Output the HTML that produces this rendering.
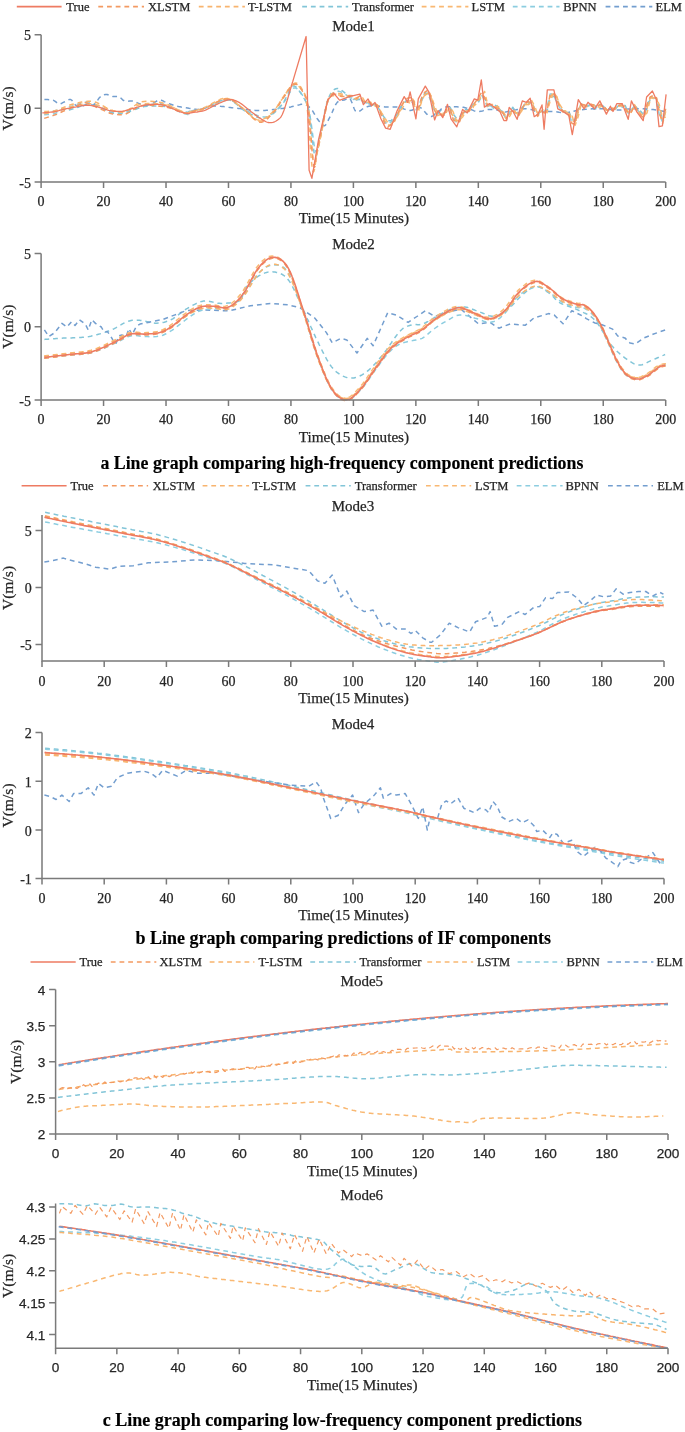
<!DOCTYPE html>
<html><head><meta charset="utf-8"><title>Line graphs</title>
<style>html,body{margin:0;padding:0;background:#fff;} svg{display:block;filter:blur(0.45px);}</style>
</head><body><svg width="685" height="1432" viewBox="0 0 685 1432"><rect width="100%" height="100%" fill="#fff"/><polyline points="44.2,114.8 47.3,114.6 50.5,114.3 53.6,114.0 56.7,112.8 59.8,110.9 63.0,109.1 66.1,108.0 69.2,107.0 72.3,105.9 75.5,104.9 78.6,103.8 81.7,102.8 84.8,102.1 87.9,101.7 91.1,102.5 94.2,104.0 97.3,106.0 100.4,108.1 103.6,109.5 106.7,110.7 109.8,111.8 112.9,112.3 116.1,112.6 119.2,112.6 122.3,112.4 125.4,111.8 128.5,111.0 131.7,110.1 134.8,109.2 137.9,108.3 141.0,107.3 144.2,106.2 147.3,105.3 150.4,104.6 153.5,104.0 156.7,103.6 159.8,103.4 162.9,104.0 166.0,105.1 169.1,106.4 172.3,108.0 175.4,109.7 178.5,111.3 181.6,112.7 184.8,113.8 187.9,114.6 190.0,111.1 190.9,110.9 192.0,110.8 193.2,110.6 194.7,110.4 196.3,110.2 198.0,109.9 199.9,109.5 201.9,109.0 204.0,108.5 205.2,108.1 206.5,107.6 207.8,107.1 209.2,106.5 210.7,105.9 212.2,105.2 213.7,104.5 215.3,103.8 216.8,103.1 218.4,102.5 220.0,101.9 221.5,101.3 223.0,100.9 224.5,100.5 225.9,100.2 227.3,100.1 228.5,100.1 230.1,100.3 231.6,100.7 233.1,101.3 234.4,102.1 235.8,102.9 237.1,103.9 238.4,104.9 239.6,106.0 240.9,107.0 242.2,108.1 243.4,109.0 244.7,109.9 246.1,110.6 247.5,111.3 249.1,112.0 250.6,112.7 252.2,113.4 253.7,114.1 255.3,114.7 256.8,115.3 258.3,115.8 259.7,116.2 261.1,116.5 262.4,116.8 263.6,116.9 265.5,116.9 267.1,116.5 268.6,116.0 270.0,115.2 271.3,114.3 272.7,113.3 274.1,112.2 275.1,111.4 276.2,110.5 277.3,109.5 278.4,108.4 279.4,107.3 280.5,106.1 281.5,104.9 282.6,103.7 283.6,102.5 284.6,101.2 285.6,99.9 286.5,98.4 287.5,96.7 288.4,95.0 289.3,93.4 290.3,91.8 291.2,90.4 292.1,89.2 293.0,88.4 293.9,87.9 295.1,87.9 296.4,88.3 297.6,89.2 298.8,90.3 300.0,91.7 301.2,93.3 302.3,94.9 303.3,96.6 303.9,97.7 304.5,98.7 305.1,99.9 305.6,101.0 306.1,102.2 306.6,103.5 307.1,104.9 307.6,106.5 308.1,108.1 308.6,109.9 309.1,111.9 309.6,114.1 310.1,116.6 310.6,119.5 311.1,122.9 311.6,126.5 312.1,130.2 312.6,134.0 313.1,137.7 313.6,141.1 314.0,144.3 314.5,147.1 315.0,149.4 315.4,150.9 316.2,152.1 316.6,152.0 317.1,151.4 317.5,150.2 318.0,148.7 318.4,146.8 318.8,144.6 319.3,142.3 319.8,139.9 320.3,137.5 320.8,135.1 321.3,132.7 321.9,130.0 322.4,126.9 323.0,123.7 323.6,120.3 324.2,116.9 324.5,115.3 324.8,113.6 325.1,112.0 325.5,110.4 325.8,108.8 326.1,107.3 326.4,105.9 326.8,104.6 327.1,103.4 327.5,102.3 327.8,101.2 328.7,99.0 329.7,97.1 330.6,95.5 331.6,94.3 332.6,93.3 333.7,92.5 334.8,91.9 336.0,91.5 337.2,91.2 338.5,91.2 340.0,91.6 341.7,92.3 343.3,93.1 345.0,94.1 346.5,95.1 348.0,96.0 349.1,96.8 350.0,97.3 353.4,99.4 356.5,99.0 359.6,99.1 362.8,101.4 365.9,104.5 369.0,103.6 372.1,106.3 375.3,104.6 378.4,108.7 381.5,114.4 384.6,121.7 387.8,124.3 390.9,122.1 394.0,120.4 397.1,114.2 400.2,108.0 403.4,103.2 406.5,101.0 409.6,99.6 412.7,102.8 415.9,109.8 419.0,105.0 422.1,97.1 425.2,92.7 428.4,94.9 431.5,102.6 434.6,113.8 437.7,113.7 440.8,113.1 444.0,113.7 447.1,109.9 450.2,111.3 453.3,117.2 456.5,122.4 459.6,120.1 462.7,113.4 465.8,111.5 469.0,110.1 472.1,105.8 475.2,102.3 478.3,99.4 481.4,94.8 484.6,100.2 487.7,107.7 490.8,105.6 493.9,108.7 497.1,110.1 500.2,109.7 503.3,114.3 506.4,118.5 509.6,112.1 512.7,111.6 515.8,113.4 518.9,112.5 522.0,107.5 525.2,104.7 528.3,102.6 531.4,103.0 534.5,111.0 537.7,115.1 540.8,110.9 543.9,112.5 547.0,107.1 550.1,94.1 553.3,94.0 556.4,101.8 559.5,107.5 562.6,110.8 565.8,111.9 568.9,113.5 572.0,122.7 575.1,119.1 578.3,108.3 581.4,103.6 584.5,107.4 587.6,105.4 590.7,105.0 593.9,109.2 597.0,108.3 600.1,104.3 603.2,108.0 606.4,110.1 609.5,109.8 612.6,110.3 615.7,108.8 618.9,104.4 622.0,107.0 625.1,108.2 628.2,113.1 631.3,109.7 634.5,105.9 637.6,110.3 640.7,113.1 643.8,113.6 647.0,105.5 650.1,97.6 653.2,97.5 656.3,101.5 659.5,115.4 662.6,121.8 665.7,107.9" fill="none" stroke="#8ccde0" stroke-width="1.5" stroke-linejoin="round" stroke-dasharray="4.8 3.9" opacity="1.0"/><polyline points="44.2,112.8 47.3,112.3 50.5,111.8 53.6,111.2 56.7,110.3 59.8,108.9 63.0,108.5 66.1,110.8 69.2,109.9 72.3,109.1 75.5,108.3 78.6,107.1 81.7,105.8 84.8,104.6 87.9,104.1 91.1,104.0 94.2,104.5 97.3,105.7 100.4,107.0 103.6,108.7 106.7,110.6 109.8,112.5 112.9,113.1 116.1,113.5 119.2,113.6 122.3,113.5 125.4,113.0 128.5,112.0 131.7,110.7 134.8,109.5 137.9,108.3 141.0,107.2 144.2,106.6 147.3,106.2 150.4,106.0 153.5,105.9 156.7,106.0 159.8,106.3 162.9,106.3 166.0,106.7 169.1,107.4 172.3,108.3 175.4,109.4 178.5,110.5 181.6,111.4 184.8,112.0 187.9,112.3 190.0,110.6 190.9,110.5 192.0,110.3 193.3,110.2 194.8,110.1 196.4,109.9 198.1,109.6 200.0,109.2 202.0,108.8 204.0,108.3 205.2,107.8 206.5,107.3 207.9,106.7 209.3,106.0 210.8,105.3 212.3,104.6 213.8,103.8 215.4,103.0 217.0,102.3 218.5,101.6 220.1,101.0 221.6,100.5 223.2,100.0 224.6,99.7 226.0,99.6 227.4,99.6 228.9,99.9 230.3,100.3 231.7,100.9 233.1,101.7 234.5,102.6 235.8,103.7 237.2,104.7 238.5,105.9 239.8,107.0 241.0,108.1 242.3,109.1 243.6,110.1 244.8,111.0 246.1,111.8 247.7,112.6 249.2,113.4 250.8,114.3 252.4,115.0 253.9,115.8 255.4,116.4 256.9,117.0 258.4,117.5 259.8,117.9 261.1,118.2 262.4,118.3 264.1,118.2 265.7,117.9 267.2,117.4 268.7,116.7 270.1,115.8 271.4,114.9 272.8,113.9 274.1,112.9 275.2,112.0 276.3,111.0 277.4,110.0 278.4,108.9 279.4,107.8 280.4,106.5 281.4,105.2 282.4,103.9 283.4,102.4 284.2,101.2 285.0,99.7 285.8,98.1 286.6,96.4 287.3,94.7 288.1,93.0 288.9,91.3 289.7,89.8 290.4,88.5 291.2,87.4 292.0,86.5 292.8,86.1 294.0,86.0 295.2,86.4 296.4,87.4 297.6,88.7 298.8,90.3 300.0,92.0 301.1,93.7 302.1,95.4 302.9,96.5 303.6,97.6 304.2,98.6 304.9,99.7 305.5,100.8 306.2,102.0 306.8,103.5 307.4,105.1 308.0,107.0 308.5,109.2 309.1,111.8 309.6,114.1 310.0,117.0 310.4,120.3 310.8,123.8 311.2,127.6 311.6,131.5 312.0,135.5 312.4,139.3 312.8,143.0 313.2,146.4 313.6,149.5 314.0,152.1 314.4,154.2 314.8,155.7 315.3,156.6 315.7,156.5 316.0,156.1 316.4,155.3 316.8,154.2 317.1,152.8 317.5,151.1 317.8,149.3 318.2,147.3 318.5,145.2 318.9,143.0 319.3,140.9 319.6,138.7 320.0,136.6 320.4,134.6 320.8,132.8 321.4,130.1 322.0,127.1 322.6,124.0 323.2,120.7 323.5,119.0 323.8,117.4 324.1,115.7 324.4,114.0 324.7,112.4 325.0,110.8 325.4,109.3 325.7,107.7 326.0,106.3 326.4,104.9 326.7,103.5 327.1,102.3 327.5,101.1 327.8,100.1 328.7,97.7 329.7,95.7 330.6,93.8 331.6,92.3 332.6,91.0 333.7,90.0 334.8,89.2 336.0,88.7 337.2,88.4 338.4,88.5 339.7,89.1 341.2,89.9 342.7,91.1 344.2,92.3 345.6,93.7 347.0,95.0 348.2,96.1 349.2,97.1 350.0,97.7 353.4,98.2 356.5,100.0 359.6,99.3 362.8,99.7 365.9,102.8 369.0,103.3 372.1,105.3 375.3,104.0 378.4,108.0 381.5,113.5 384.6,117.9 387.8,120.8 390.9,120.8 394.0,117.7 397.1,114.7 400.2,107.3 403.4,104.2 406.5,100.5 409.6,102.1 412.7,100.9 415.9,107.9 419.0,106.8 422.1,99.7 425.2,93.6 428.4,93.2 431.5,99.6 434.6,110.3 437.7,113.3 440.8,110.4 444.0,113.9 447.1,108.8 450.2,107.2 453.3,114.0 456.5,118.4 459.6,117.0 462.7,111.7 465.8,109.3 469.0,110.2 472.1,106.1 475.2,102.7 478.3,102.5 481.4,96.8 484.6,97.4 487.7,106.0 490.8,105.4 493.9,104.8 497.1,106.1 500.2,107.8 503.3,113.7 506.4,116.4 509.6,114.0 512.7,107.3 515.8,111.6 518.9,113.2 522.0,109.0 525.2,103.0 528.3,104.5 531.4,101.2 534.5,108.3 537.7,113.3 540.8,111.6 543.9,111.7 547.0,111.2 550.1,98.1 553.3,96.2 556.4,97.6 559.5,106.3 562.6,110.4 565.8,111.5 568.9,111.6 572.0,118.8 575.1,121.8 578.3,110.2 581.4,104.3 584.5,105.9 587.6,106.4 590.7,105.0 593.9,105.0 597.0,107.4 600.1,106.1 603.2,106.1 606.4,109.7 609.5,109.5 612.6,108.8 615.7,108.4 618.9,105.2 622.0,105.5 625.1,105.4 628.2,112.6 631.3,108.5 634.5,105.5 637.6,108.4 640.7,111.3 643.8,115.0 647.0,107.9 650.1,99.6 653.2,98.2 656.3,98.0 659.5,108.6 662.6,119.0 665.7,111.9" fill="none" stroke="#82c5d8" stroke-width="1.5" stroke-linejoin="round" stroke-dasharray="4.8 3.9" opacity="1.0"/><polyline points="44.4,99.5 45.6,99.5 47.4,99.6 49.4,99.7 51.4,99.9 53.1,100.2 54.8,101.1 56.2,102.2 57.6,103.3 59.0,103.9 60.5,103.8 61.9,103.2 63.3,102.4 64.8,101.7 66.3,101.0 67.8,100.1 69.3,99.5 70.7,99.5 71.9,100.3 72.9,101.8 74.0,103.4 75.0,104.6 76.4,105.7 77.7,106.5 79.4,106.8 80.7,106.6 82.1,106.1 83.6,105.5 85.2,105.0 86.7,104.6 88.6,104.6 90.4,104.9 92.3,105.1 94.0,104.6 95.1,103.8 96.1,102.5 97.0,101.1 98.0,99.7 98.9,98.3 99.9,97.3 101.3,96.1 102.7,95.3 104.1,94.7 105.7,94.4 107.1,94.5 108.6,95.0 110.1,95.6 111.6,96.2 113.0,96.6 115.0,96.6 116.9,96.4 118.8,96.6 120.2,97.5 121.6,98.8 123.0,100.1 124.7,101.0 126.3,101.2 128.1,101.2 129.9,101.0 131.7,100.9 133.4,101.0 135.1,101.6 136.6,102.4 138.2,103.3 140.0,103.9 141.5,104.2 143.0,104.5 144.7,104.8 146.4,105.0 148.1,105.0 149.8,104.7 151.4,104.2 153.0,103.3 154.6,102.3 156.2,101.3 157.7,100.5 159.1,100.1 161.0,100.1 162.6,100.7 164.3,101.6 166.1,102.4 167.6,103.0 169.1,103.6 170.7,104.2 172.3,104.8 173.9,105.4 175.5,105.9 177.0,106.3 178.4,106.6 179.8,106.8 181.3,107.1 182.9,107.3 184.8,107.6 186.1,107.8 187.5,108.0 189.0,108.3 190.6,108.5 192.2,108.8 193.8,109.0 195.4,109.2 197.0,109.4 198.5,109.5 200.0,109.4 201.5,109.2 202.9,108.9 204.2,108.4 205.5,107.9 206.8,107.4 208.2,106.9 209.8,106.4 211.4,106.1 213.4,105.9 214.6,105.9 216.0,105.9 217.4,106.0 218.9,106.1 220.4,106.3 222.0,106.4 223.6,106.6 225.2,106.8 226.9,107.0 228.6,107.3 230.2,107.5 231.9,107.7 233.5,107.9 235.1,108.1 236.7,108.3 238.3,108.4 239.8,108.6 241.4,108.8 242.9,109.0 244.5,109.2 246.1,109.4 247.6,109.6 249.2,109.8 250.7,110.0 252.3,110.2 253.8,110.3 255.4,110.4 257.0,110.5 258.5,110.6 260.1,110.6 261.7,110.6 263.3,110.5 264.9,110.4 266.6,110.3 268.3,110.2 270.0,110.0 271.7,109.8 273.3,109.6 274.9,109.4 276.5,109.2 278.0,109.0 279.5,108.8 280.9,108.6 282.2,108.4 283.4,108.3 285.7,107.9 287.7,107.6 289.4,107.2 290.9,106.9 292.3,106.5 293.7,106.2 295.1,105.9 296.8,105.5 298.5,105.1 300.1,104.6 301.6,104.3 303.1,104.2 304.5,104.3 306.0,104.8 307.5,105.6 308.9,106.7 310.2,108.0 311.5,109.4 312.4,110.6 313.2,111.9 314.0,113.3 314.8,114.7 315.6,116.1 316.4,117.5 317.3,118.8 318.4,120.3 319.6,121.9 320.8,123.4 322.0,124.7 323.2,125.6 324.3,125.8 325.2,125.3 326.0,124.4 326.8,123.2 327.6,121.6 328.4,119.9 329.3,118.2 330.2,116.4 330.8,115.2 331.5,113.7 332.2,112.2 332.9,110.6 333.6,109.0 334.3,107.4 335.0,105.9 335.7,104.5 336.5,103.4 337.2,102.4 338.9,101.0 340.7,100.4 342.5,100.3 344.2,100.1 346.2,99.1 348.1,98.2 350.0,98.9 350.7,99.8 351.3,101.2 352.0,102.8 352.6,104.6 353.3,106.5 354.0,108.3 354.7,109.8 355.5,111.0 356.4,111.8 357.7,112.0 359.2,111.4 360.8,110.3 362.5,109.0 364.1,107.9 365.7,107.1 367.2,106.7 368.7,106.3 370.2,106.1 371.8,106.0 373.3,105.9 375.0,105.9 376.6,106.0 378.2,106.1 379.9,106.3 381.6,106.5 383.3,106.8 385.0,107.0 386.7,107.1 388.4,107.1 390.1,107.1 391.7,107.0 393.4,106.9 395.1,106.9 396.7,106.9 398.4,107.1 399.9,107.4 401.4,107.9 402.9,108.5 404.4,109.1 405.9,109.6 407.3,110.1 408.7,110.5 410.1,110.6 411.8,110.3 413.3,109.5 414.8,108.5 416.3,107.6 417.8,107.0 419.4,107.1 420.6,107.6 421.7,108.6 422.9,109.8 424.1,111.1 425.4,112.5 426.6,113.9 427.7,115.0 428.9,115.9 429.9,116.4 431.4,116.5 432.9,115.9 434.2,115.0 435.6,113.8 436.8,112.7 438.1,111.8 439.4,110.7 440.5,109.7 441.7,108.6 443.1,107.7 445.1,107.1 446.4,106.9 447.9,106.7 449.6,106.7 451.3,106.6 453.1,106.6 455.0,106.7 456.8,106.8 458.5,106.9 460.1,107.0 461.5,107.1 463.5,107.3 465.2,107.7 466.7,108.1 468.1,108.6 469.5,109.0 470.8,109.4 472.6,110.1 474.2,110.9 475.8,111.5 477.8,111.8 479.3,111.6 480.8,111.3 482.6,110.9 484.3,110.4 486.1,110.0 487.8,109.6 489.5,109.4 491.1,109.4 492.7,109.5 494.4,109.7 495.9,109.9 497.4,110.1 498.8,110.4 500.0,110.6 502.1,111.2 503.5,111.7 505.3,112.0 506.6,111.8 508.0,111.4 509.5,111.0 511.2,110.5 513.1,110.1 514.5,109.9 516.1,109.7 517.7,109.4 519.4,109.2 521.1,109.0 522.9,108.9 524.6,108.8 526.3,108.8 527.9,109.0 529.6,109.3 531.2,109.6 532.8,110.1 534.5,110.5 536.1,110.9 537.8,111.2 539.4,111.5 541.1,111.6 542.7,111.6 544.3,111.6 546.0,111.5 547.6,111.5 549.3,111.4 550.9,111.4 552.5,111.5 554.2,111.6 555.8,111.8 557.5,112.0 559.1,112.3 560.8,112.5 562.4,112.7 564.0,112.8 565.7,112.8 567.3,112.6 569.0,112.4 570.6,112.0 572.3,111.6 573.9,111.2 575.5,110.8 577.2,110.4 578.8,110.1 580.5,109.9 582.1,109.7 583.7,109.5 585.4,109.3 587.0,109.2 588.7,109.0 590.3,108.9 592.0,108.8 593.6,108.8 595.2,108.7 596.9,108.7 598.5,108.7 600.2,108.7 601.8,108.7 603.5,108.8 605.1,108.8 606.7,108.9 608.4,109.1 610.0,109.3 611.7,109.6 613.3,109.8 615.0,110.0 616.6,110.1 618.2,110.1 619.9,110.1 621.5,110.0 623.2,109.8 624.8,109.6 626.4,109.3 628.1,109.1 629.7,108.9 631.4,108.8 633.0,108.8 634.7,108.7 636.3,108.7 637.9,108.7 639.6,108.7 641.2,108.7 642.9,108.8 644.5,108.8 646.2,108.9 647.9,109.0 649.6,109.2 651.4,109.4 653.1,109.5 654.7,109.7 656.2,109.9 657.6,110.1 659.8,110.5 661.8,110.9 663.5,111.3 665.0,111.7 666.1,112.0" fill="none" stroke="#739ecf" stroke-width="1.5" stroke-linejoin="round" stroke-dasharray="4.8 3.9" opacity="1.0"/><polyline points="44.2,113.7 47.3,113.2 50.5,112.6 53.6,111.9 56.7,111.2 59.8,110.2 63.0,109.2 66.1,108.2 69.2,107.3 72.3,106.6 75.5,105.8 78.6,105.1 81.7,104.4 84.8,104.0 87.9,103.7 91.1,103.8 94.2,104.3 97.3,105.0 100.4,105.9 103.6,106.9 106.7,108.2 109.8,109.5 112.9,110.5 116.1,111.3 119.2,111.8 122.3,111.5 125.4,110.7 128.5,109.6 131.7,108.1 134.8,106.6 137.9,105.2 141.0,104.1 144.2,103.7 147.3,103.5 150.4,103.4 153.5,103.5 156.7,103.8 159.8,104.2 162.9,104.5 166.0,105.0 169.1,105.9 172.3,107.1 175.4,108.5 178.5,109.9 181.6,111.2 184.8,112.2 187.9,112.9 190.0,111.8 190.9,111.5 192.0,111.2 193.4,110.9 194.9,110.6 196.5,110.2 198.3,109.7 200.2,109.1 202.1,108.5 204.0,107.8 205.2,107.3 206.5,106.6 207.8,105.9 209.2,105.2 210.7,104.3 212.1,103.5 213.6,102.6 215.1,101.8 216.6,101.0 218.1,100.2 219.6,99.6 221.0,99.0 222.4,98.6 223.8,98.3 225.0,98.2 226.6,98.3 228.0,98.6 229.5,99.0 230.8,99.7 232.2,100.4 233.5,101.2 234.8,102.2 236.1,103.1 237.4,104.2 238.7,105.2 240.0,106.1 241.4,107.1 242.7,108.0 243.9,109.0 245.2,110.2 246.5,111.4 247.8,112.6 249.1,113.9 250.4,115.1 251.6,116.3 252.9,117.3 254.1,118.2 255.4,119.0 256.6,119.6 257.7,119.9 259.3,120.1 260.7,119.9 262.2,119.5 263.7,118.9 265.1,118.1 266.5,117.2 267.9,116.2 269.2,115.1 270.5,114.0 271.8,112.9 272.8,111.9 273.9,110.8 274.9,109.6 275.8,108.3 276.8,107.0 277.7,105.7 278.6,104.3 279.5,102.9 280.4,101.6 281.3,100.2 282.3,98.9 283.2,97.6 284.2,96.1 285.2,94.6 286.2,93.0 287.1,91.5 288.1,90.0 289.1,88.6 290.0,87.4 291.0,86.3 291.9,85.5 292.8,84.9 294.4,84.5 296.0,84.7 297.6,85.4 299.0,86.5 300.4,88.0 301.7,89.6 302.3,90.4 302.9,91.1 303.5,91.8 303.9,92.5 304.4,93.4 304.9,94.6 305.3,96.2 305.8,98.3 306.3,101.1 306.8,104.7 307.2,108.0 307.6,112.0 308.0,116.6 308.4,121.7 308.8,127.2 309.2,132.9 309.7,138.6 310.1,144.3 310.5,149.8 310.9,155.0 311.3,159.7 311.7,163.7 312.1,167.1 312.5,169.6 313.1,171.5 313.5,171.9 313.9,171.4 314.3,170.2 314.7,168.4 315.0,166.2 315.4,163.7 315.8,161.0 316.2,158.3 316.5,155.7 316.9,153.4 317.3,151.5 317.6,150.1 318.0,148.7 318.3,147.3 318.6,145.9 318.9,144.5 319.2,143.0 319.6,141.6 319.9,140.1 320.2,138.7 320.6,137.1 320.9,135.5 321.2,133.9 321.6,132.2 322.0,130.4 322.5,127.6 323.1,124.4 323.7,121.0 324.3,117.5 324.6,115.8 324.9,114.0 325.2,112.3 325.5,110.6 325.8,109.0 326.2,107.5 326.5,106.0 326.8,104.6 327.1,103.4 327.5,102.2 327.8,101.2 328.8,98.8 329.8,97.3 330.7,96.5 331.8,96.0 333.2,95.7 334.8,95.4 336.1,95.2 337.6,95.1 339.3,95.1 341.0,95.2 342.9,95.3 344.6,95.4 346.3,95.6 347.8,95.7 349.1,95.8 350.0,95.9 353.4,99.3 356.5,98.0 359.6,99.0 362.8,97.9 365.9,103.5 369.0,101.7 372.1,102.8 375.3,106.2 378.4,107.3 381.5,112.7 384.6,117.3 387.8,122.8 390.9,124.0 394.0,121.4 397.1,116.8 400.2,111.6 403.4,106.4 406.5,101.8 409.6,102.9 412.7,99.0 415.9,104.2 419.0,110.0 422.1,100.1 425.2,93.9 428.4,91.9 431.5,96.5 434.6,106.1 437.7,113.4 440.8,113.6 444.0,115.2 447.1,112.1 450.2,106.9 453.3,112.2 456.5,120.8 459.6,119.5 462.7,117.0 465.8,111.1 469.0,110.2 472.1,110.1 475.2,102.5 478.3,100.1 481.4,97.0 484.6,91.5 487.7,104.7 490.8,104.6 493.9,104.3 497.1,105.7 500.2,109.8 503.3,112.0 506.4,117.0 509.6,116.4 512.7,111.1 515.8,112.6 518.9,115.2 522.0,110.5 525.2,104.4 528.3,101.8 531.4,100.2 534.5,105.8 537.7,113.8 540.8,111.3 543.9,108.8 547.0,112.8 550.1,101.2 553.3,93.7 556.4,95.6 559.5,104.2 562.6,109.0 565.8,111.8 568.9,113.8 572.0,115.4 575.1,125.3 578.3,116.2 581.4,103.5 584.5,105.3 587.6,107.5 590.7,106.4 593.9,105.3 597.0,107.8 600.1,107.1 603.2,105.4 606.4,109.7 609.5,110.9 612.6,109.3 615.7,107.8 618.9,107.3 622.0,105.7 625.1,106.2 628.2,111.7 631.3,111.8 634.5,107.5 637.6,109.3 640.7,113.7 643.8,115.7 647.0,113.0 650.1,100.2 653.2,97.7 656.3,98.0 659.5,105.4 662.6,118.4 665.7,116.8" fill="none" stroke="#f9b872" stroke-width="1.5" stroke-linejoin="round" stroke-dasharray="4.8 3.9" opacity="1.0"/><polyline points="44.2,111.5 47.3,111.4 50.5,111.2 53.6,111.0 56.7,110.3 59.8,109.1 63.0,107.7 66.1,106.4 69.2,105.2 72.3,104.3 75.5,103.5 78.6,102.8 81.7,102.1 84.8,101.6 87.9,101.2 91.1,101.3 94.2,101.8 97.3,102.8 100.4,104.4 103.6,106.2 106.7,108.1 109.8,110.0 112.9,110.9 116.1,111.6 119.2,112.0 122.3,112.2 125.4,111.9 128.5,109.9 131.7,107.7 134.8,105.5 137.9,103.4 141.0,101.8 144.2,101.5 147.3,101.3 150.4,101.3 153.5,101.5 156.7,101.8 159.8,102.3 162.9,102.9 166.0,103.9 169.1,105.2 172.3,106.8 175.4,108.5 178.5,110.2 181.6,111.7 184.8,113.0 187.9,113.9 190.0,112.2 190.9,112.0 192.0,111.9 193.3,111.6 194.8,111.4 196.4,111.1 198.1,110.7 200.0,110.2 202.0,109.7 204.0,109.0 205.2,108.5 206.4,107.9 207.7,107.3 209.0,106.5 210.5,105.8 211.9,105.0 213.4,104.1 214.9,103.3 216.4,102.5 217.9,101.7 219.4,100.9 220.8,100.3 222.2,99.7 223.6,99.2 224.9,98.8 226.2,98.5 227.4,98.4 228.9,98.5 230.4,98.9 231.7,99.4 233.0,100.1 234.2,100.9 235.4,101.9 236.6,102.9 237.7,104.0 238.9,105.1 240.1,106.2 241.3,107.3 242.6,108.3 243.8,109.2 245.0,110.3 246.3,111.5 247.6,112.7 248.9,114.0 250.2,115.2 251.5,116.4 252.7,117.6 254.0,118.6 255.3,119.6 256.5,120.3 257.7,120.8 258.9,121.1 260.3,121.1 261.6,120.9 263.0,120.4 264.3,119.8 265.6,118.9 266.9,117.9 268.2,116.9 269.4,115.7 270.6,114.5 271.8,113.4 272.9,112.2 273.9,111.1 274.9,110.0 275.8,108.7 276.7,107.4 277.5,106.1 278.4,104.7 279.2,103.3 280.0,101.9 280.8,100.5 281.7,99.1 282.5,97.8 283.4,96.6 284.4,95.2 285.5,93.7 286.5,92.2 287.6,90.7 288.7,89.2 289.7,87.8 290.8,86.5 291.8,85.4 292.8,84.4 293.7,83.7 294.6,83.3 296.0,83.1 297.2,83.4 298.4,84.2 299.5,85.3 300.6,86.8 301.6,88.5 302.6,90.3 303.1,91.3 303.6,92.2 304.1,93.2 304.6,94.2 305.1,95.3 305.6,96.4 306.1,97.7 306.5,99.2 307.0,100.8 307.4,102.6 307.8,104.6 308.2,106.9 308.7,109.4 309.0,111.7 309.3,114.4 309.7,119.0 310.1,124.2 310.5,129.7 310.9,135.3 311.3,140.9 311.7,146.2 312.1,151.1 312.5,155.2 312.9,158.6 313.3,160.8 313.9,162.2 314.5,162.3 315.0,161.3 315.6,159.6 316.2,157.3 316.8,154.6 317.4,151.8 317.9,149.1 318.5,146.8 318.8,145.5 319.1,144.2 319.4,142.8 319.7,141.3 320.3,138.2 320.9,135.0 321.2,133.4 321.5,131.7 321.8,130.1 322.1,128.4 322.5,126.7 322.8,125.1 323.1,123.4 323.5,122.0 323.8,120.4 324.1,118.8 324.4,117.1 324.7,115.4 325.1,113.7 325.4,112.0 325.7,110.3 326.1,108.6 326.4,106.9 326.8,105.4 327.1,103.8 327.5,102.4 327.9,101.0 328.2,99.8 328.6,98.7 329.0,97.7 330.2,95.3 331.4,94.0 332.6,93.3 334.1,93.1 336.0,93.1 337.3,93.1 338.9,93.4 340.7,93.8 342.5,94.3 344.4,94.8 346.1,95.4 347.7,95.9 349.0,96.3 350.0,96.6 353.4,97.2 356.5,99.4 359.6,96.2 362.8,101.2 365.9,102.7 369.0,102.0 372.1,105.2 375.3,104.0 378.4,106.0 381.5,113.9 384.6,120.6 387.8,125.0 390.9,125.5 394.0,123.1 397.1,114.9 400.2,110.5 403.4,102.3 406.5,100.0 409.6,101.1 412.7,99.6 415.9,110.2 419.0,109.1 422.1,98.6 425.2,95.0 428.4,93.0 431.5,98.3 434.6,109.8 437.7,115.7 440.8,113.8 444.0,113.1 447.1,112.0 450.2,111.3 453.3,116.5 456.5,121.2 459.6,119.6 462.7,114.3 465.8,110.7 469.0,111.5 472.1,106.2 475.2,104.9 478.3,101.2 481.4,94.1 484.6,97.3 487.7,106.1 490.8,105.6 493.9,107.0 497.1,106.7 500.2,110.4 503.3,113.6 506.4,119.4 509.6,115.6 512.7,108.8 515.8,112.4 518.9,113.5 522.0,108.9 525.2,104.9 528.3,104.6 531.4,102.4 534.5,108.3 537.7,113.0 540.8,111.9 543.9,113.8 547.0,110.5 550.1,97.5 553.3,92.2 556.4,96.3 559.5,105.3 562.6,110.8 565.8,110.9 568.9,112.7 572.0,120.6 575.1,121.9 578.3,111.9 581.4,102.8 584.5,106.8 587.6,105.8 590.7,103.9 593.9,107.0 597.0,107.4 600.1,104.5 603.2,105.0 606.4,110.1 609.5,109.7 612.6,107.9 615.7,109.4 618.9,106.3 622.0,104.9 625.1,108.5 628.2,113.7 631.3,112.3 634.5,104.6 637.6,110.3 640.7,114.6 643.8,117.6 647.0,108.1 650.1,98.2 653.2,97.7 656.3,97.2 659.5,113.0 662.6,123.5 665.7,111.4" fill="none" stroke="#f8b46e" stroke-width="1.5" stroke-linejoin="round" stroke-dasharray="4.8 3.9" opacity="1.0"/><polyline points="44.2,118.4 47.3,117.4 50.5,116.4 53.6,115.4 56.7,114.2 59.8,112.8 63.0,111.3 66.1,109.9 69.2,108.7 72.3,107.4 75.5,106.2 78.6,105.0 81.7,103.7 84.8,102.5 87.9,103.2 91.1,104.5 94.2,106.0 97.3,107.8 100.4,109.0 103.6,110.4 106.7,111.8 109.8,113.2 112.9,113.9 116.1,114.4 119.2,114.7 122.3,114.8 125.4,114.3 128.5,112.6 131.7,110.7 134.8,108.9 137.9,107.1 141.0,105.7 144.2,105.3 147.3,105.2 150.4,105.2 153.5,105.4 156.7,105.8 159.8,106.3 162.9,106.5 166.0,107.0 169.1,107.8 172.3,108.9 175.4,110.1 178.5,111.3 181.6,112.3 184.8,113.0 187.9,113.4 190.0,111.8 190.9,111.6 192.0,111.3 193.3,111.1 194.8,110.8 196.4,110.4 198.1,110.0 200.0,109.5 202.0,108.9 204.0,108.3 205.2,107.8 206.5,107.2 207.9,106.6 209.4,105.9 210.9,105.1 212.4,104.3 214.0,103.5 215.5,102.7 217.1,101.9 218.7,101.2 220.3,100.6 221.8,100.0 223.3,99.5 224.7,99.2 226.1,99.0 227.4,98.9 229.0,99.1 230.5,99.5 232.0,100.1 233.3,100.9 234.7,101.8 236.0,102.8 237.3,103.9 238.5,105.0 239.8,106.2 241.1,107.3 242.4,108.4 243.7,109.4 245.0,110.4 246.3,111.5 247.5,112.7 248.8,114.0 250.1,115.3 251.4,116.5 252.7,117.8 254.0,118.9 255.2,120.0 256.5,120.9 257.7,121.6 258.9,122.0 260.1,122.3 261.5,122.2 262.8,121.8 264.2,121.2 265.5,120.3 266.9,119.3 268.2,118.1 269.4,116.8 270.7,115.5 271.9,114.2 273.0,112.9 274.1,111.8 275.1,110.6 276.1,109.4 276.9,108.2 277.8,106.9 278.6,105.6 279.4,104.3 280.1,103.0 280.9,101.6 281.7,100.3 282.6,99.0 283.4,97.7 284.4,96.4 285.3,95.0 286.3,93.5 287.3,91.9 288.3,90.4 289.3,89.0 290.2,87.6 291.2,86.4 292.2,85.4 293.1,84.7 293.9,84.2 295.5,84.0 296.9,84.5 298.3,85.6 299.7,87.1 300.9,88.8 302.1,90.7 302.7,91.7 303.3,92.5 303.9,93.3 304.4,94.2 304.9,95.1 305.4,96.3 305.9,97.6 306.4,99.3 306.9,101.4 307.4,104.0 308.0,107.1 308.3,109.2 308.6,111.7 308.9,114.5 309.2,117.6 309.5,120.9 309.8,124.4 310.2,128.0 310.5,131.8 310.8,135.5 311.1,139.3 311.4,143.0 311.7,146.6 312.0,150.0 312.5,154.8 312.9,159.0 313.3,162.4 313.7,164.9 314.2,166.8 314.6,167.1 314.9,166.5 315.2,165.2 315.8,161.1 316.3,155.9 316.6,153.4 317.0,151.1 317.3,149.1 317.9,146.4 318.2,145.1 318.5,143.7 318.8,142.3 319.2,140.8 319.5,139.3 319.8,137.9 320.2,136.3 320.5,134.8 320.9,133.2 321.2,131.5 321.6,129.8 322.0,128.1 322.5,125.3 323.1,122.3 323.7,119.0 324.3,115.7 324.6,114.0 324.9,112.3 325.2,110.7 325.5,109.1 325.8,107.5 326.2,106.0 326.5,104.6 326.8,103.3 327.1,102.1 327.5,101.0 327.8,100.1 328.9,97.7 330.1,96.2 331.2,95.3 332.4,94.8 333.6,94.5 334.8,94.2 336.6,94.3 338.3,95.1 340.0,96.0 341.8,96.6 343.5,96.5 345.4,96.3 347.3,96.0 348.9,95.6 350.0,95.4 353.4,95.9 356.5,98.2 359.6,96.1 362.8,101.2 365.9,101.8 369.0,101.3 372.1,104.7 375.3,102.8 378.4,106.6 381.5,115.9 384.6,123.1 387.8,127.3 390.9,124.4 394.0,121.4 397.1,115.2 400.2,107.7 403.4,102.9 406.5,98.8 409.6,97.5 412.7,98.3 415.9,108.3 419.0,106.7 422.1,96.3 425.2,91.8 428.4,90.0 431.5,98.2 434.6,110.3 437.7,115.7 440.8,114.5 444.0,116.0 447.1,108.0 450.2,108.5 453.3,119.8 456.5,122.2 459.6,121.8 462.7,112.8 465.8,110.5 469.0,110.9 472.1,106.3 475.2,102.3 478.3,97.7 481.4,92.6 484.6,97.8 487.7,104.6 490.8,104.8 493.9,107.1 497.1,107.9 500.2,109.4 503.3,113.6 506.4,118.5 509.6,111.2 512.7,111.0 515.8,114.5 518.9,115.5 522.0,108.9 525.2,103.2 528.3,101.7 531.4,102.6 534.5,110.3 537.7,116.4 540.8,111.9 543.9,112.5 547.0,111.1 550.1,94.5 553.3,93.2 556.4,98.6 559.5,106.5 562.6,111.8 565.8,113.3 568.9,114.9 572.0,123.6 575.1,124.2 578.3,108.7 581.4,104.3 584.5,105.0 587.6,105.2 590.7,104.3 593.9,104.9 597.0,106.5 600.1,104.5 603.2,105.7 606.4,109.3 609.5,112.1 612.6,109.4 615.7,107.7 618.9,105.5 622.0,104.6 625.1,107.8 628.2,113.4 631.3,111.8 634.5,105.8 637.6,110.7 640.7,115.3 643.8,118.1 647.0,104.3 650.1,97.0 653.2,95.6 656.3,97.5 659.5,113.7 662.6,121.2 665.7,108.8" fill="none" stroke="#f39a62" stroke-width="1.5" stroke-linejoin="round" stroke-dasharray="4.8 3.9" opacity="1.0"/><polyline points="42.3,112.9 43.4,112.8 44.9,112.7 46.6,112.6 48.6,112.4 50.5,112.2 52.4,112.0 54.0,111.8 55.7,111.4 57.2,111.1 58.7,110.7 60.2,110.2 61.7,109.8 63.4,109.4 64.9,109.1 66.5,108.7 68.2,108.4 69.9,108.1 71.6,107.7 73.3,107.4 75.0,107.1 76.7,106.8 78.4,106.4 80.0,106.1 81.7,105.7 83.4,105.5 85.0,105.3 86.7,105.2 88.4,105.3 90.1,105.4 91.7,105.7 93.4,106.0 95.1,106.3 96.7,106.7 98.4,107.1 99.9,107.5 101.3,107.9 102.8,108.4 104.2,108.9 105.7,109.4 107.2,109.9 108.6,110.3 110.1,110.6 111.7,110.9 113.4,111.1 115.1,111.3 116.8,111.4 118.4,111.4 120.1,111.4 121.8,111.3 123.2,111.1 124.7,110.8 126.1,110.4 127.6,110.0 129.1,109.6 130.5,109.1 132.0,108.7 133.4,108.3 134.9,107.9 136.4,107.4 137.8,107.0 139.3,106.6 140.7,106.2 142.2,105.8 143.7,105.5 145.1,105.2 146.8,104.9 148.5,104.7 150.2,104.5 152.0,104.4 153.6,104.3 155.2,104.3 156.8,104.3 158.4,104.4 159.9,104.5 161.3,104.7 162.8,105.0 164.3,105.4 166.1,105.9 167.4,106.3 168.7,106.9 170.1,107.5 171.6,108.1 173.1,108.8 174.7,109.5 176.1,110.2 177.6,110.8 178.9,111.3 180.2,111.8 182.1,112.3 183.9,112.8 185.7,113.1 187.2,113.3 188.5,113.5 189.5,113.6 190.0,112.9 191.0,112.8 192.2,112.6 193.7,112.4 195.4,112.2 197.1,112.0 198.9,111.7 200.7,111.4 202.4,111.0 204.0,110.6 205.5,110.1 206.9,109.4 208.4,108.7 209.8,108.0 211.2,107.2 212.6,106.4 214.0,105.6 215.4,104.9 216.9,104.3 218.3,103.6 219.8,103.0 221.3,102.3 222.8,101.7 224.2,101.1 225.7,100.6 227.1,100.1 228.4,99.8 229.7,99.6 231.5,99.6 233.1,99.8 234.6,100.3 236.1,100.9 237.5,101.6 239.1,102.4 240.4,103.2 241.7,104.1 242.9,105.0 244.2,106.1 245.6,107.2 246.9,108.3 248.4,109.4 249.6,110.3 250.9,111.4 252.2,112.4 253.6,113.5 254.9,114.6 256.3,115.6 257.6,116.6 258.9,117.5 260.1,118.3 261.8,119.4 263.4,120.4 265.0,121.2 266.5,122.0 268.0,122.5 269.4,122.7 271.2,122.7 272.9,122.4 274.6,121.8 276.1,121.0 277.6,119.9 278.7,119.1 279.6,118.4 280.4,117.6 281.3,116.3 282.3,114.5 283.4,111.8 283.8,110.8 284.2,109.6 284.7,108.3 285.1,106.9 285.6,105.4 286.1,103.8 286.6,102.2 287.2,100.4 287.7,98.7 288.2,96.9 288.7,95.2 289.2,93.4 289.7,91.7 290.2,90.1 290.7,88.5 291.1,87.0 291.5,85.6 291.9,84.3 292.2,83.2 292.8,81.4 306.1,36.5 309.1,170.2 311.9,178.3 318.5,139.8 327.8,100.1 333.7,93.1 339.5,100.1 340.0,100.1 349.3,96.6 359.9,94.2 363.4,104.7 368.0,98.9 371.5,105.9 375.0,102.4 380.9,118.8 385.6,128.1 390.2,129.3 397.2,110.6 404.2,96.6 407.7,102.4 410.1,91.9 415.9,118.8 418.3,98.9 425.3,86.1 428.8,91.9 434.6,119.9 438.1,110.6 442.8,117.6 447.5,104.3 451.0,118.8 456.8,126.9 462.6,109.4 467.3,112.9 474.3,98.9 477.8,100.1 481.3,79.8 484.4,107.1 489.5,103.6 500.0,111.8 503.9,120.6 506.6,120.6 509.2,107.5 513.1,111.5 517.1,119.3 522.3,100.9 526.3,102.3 530.2,98.3 534.2,116.7 538.1,114.1 542.0,104.9 544.1,129.3 547.3,89.9 553.9,89.9 557.8,108.8 563.1,111.5 568.8,115.4 572.3,134.6 578.3,99.6 584.1,108.8 588.0,102.3 594.6,108.8 599.8,100.9 606.4,114.1 610.4,106.2 613.0,111.5 616.9,103.6 622.2,103.6 628.2,119.3 631.4,100.9 636.6,111.5 643.2,120.6 646.6,97.0 652.4,91.0 656.3,99.6 659.0,126.7 662.4,125.9 666.1,94.4" fill="none" stroke="#ee7b62" stroke-width="1.3" stroke-linejoin="round" opacity="1.0"/><polyline points="44.4,339.4 45.3,339.3 46.5,339.3 47.8,339.2 49.3,339.0 50.9,338.9 52.7,338.8 54.5,338.7 56.3,338.5 58.2,338.4 60.1,338.3 61.9,338.2 63.3,338.1 64.9,338.1 66.4,338.0 68.0,338.0 69.7,337.9 71.4,337.9 73.0,337.8 74.7,337.8 76.3,337.7 77.9,337.6 79.5,337.5 81.0,337.4 82.5,337.3 83.8,337.2 85.7,337.0 87.5,336.7 89.2,336.5 90.8,336.2 92.3,335.8 93.8,335.5 95.3,335.1 96.8,334.7 98.4,334.3 99.9,333.9 101.3,333.5 102.8,333.0 104.2,332.5 105.7,332.1 107.2,331.5 108.6,331.0 110.1,330.4 111.5,329.8 113.0,329.2 114.3,328.6 115.7,327.9 117.1,327.1 118.4,326.3 119.8,325.5 121.2,324.7 122.5,323.9 123.8,323.2 125.1,322.5 126.4,322.0 127.6,321.5 129.4,321.0 131.0,320.6 132.5,320.3 134.0,320.2 135.6,320.2 137.3,320.2 139.3,320.3 140.7,320.4 142.2,320.7 143.7,321.0 145.4,321.3 147.0,321.7 148.7,322.1 150.4,322.5 152.1,322.8 153.7,323.0 155.3,323.2 156.8,323.2 158.4,323.1 159.9,323.0 161.4,322.8 162.8,322.5 164.3,322.2 165.7,321.8 167.1,321.3 168.5,320.8 170.0,320.2 171.4,319.5 172.7,318.8 174.0,318.0 175.3,317.1 176.6,316.1 177.9,315.1 179.2,314.1 180.5,313.1 181.8,312.0 183.2,311.0 184.6,310.1 186.0,309.2 187.4,308.4 188.7,307.6 190.2,306.8 191.6,306.0 193.1,305.1 194.6,304.4 196.1,303.6 197.6,302.9 199.1,302.3 200.5,301.8 202.0,301.4 203.5,301.1 205.1,300.9 206.7,301.0 208.2,301.1 209.8,301.4 211.4,301.7 212.9,302.1 214.5,302.5 216.1,302.9 217.7,303.2 219.4,303.3 221.0,303.4 222.6,303.4 224.2,303.3 226.0,303.2 227.8,303.1 229.5,303.0 231.3,302.8 233.0,302.6 234.7,302.3 236.2,302.0 237.6,301.6 238.9,301.1 240.0,300.5 241.2,299.5 241.9,298.2 242.3,296.8 242.6,295.3 242.8,293.7 243.1,292.0 243.6,290.4 244.6,288.8 245.4,287.8 246.3,286.8 247.3,285.7 248.4,284.6 249.5,283.4 250.7,282.3 251.9,281.2 253.1,280.1 254.4,279.1 255.6,278.1 256.9,277.2 258.0,276.4 259.2,275.7 260.7,274.9 262.1,274.2 263.6,273.5 265.0,272.9 266.5,272.5 268.0,272.1 269.4,271.9 270.9,271.7 272.3,271.8 273.8,271.9 275.1,272.1 276.5,272.4 277.8,272.7 279.1,273.1 280.4,273.6 281.8,274.2 283.1,275.0 284.4,275.9 285.7,277.1 287.1,278.4 288.4,280.0 289.1,280.9 289.8,281.9 290.5,283.0 291.2,284.2 291.9,285.4 292.6,286.7 293.3,288.1 294.0,289.4 294.7,290.9 295.4,292.3 296.0,293.8 296.7,295.4 297.4,296.9 298.1,298.5 298.8,300.0 299.5,301.6 300.2,303.1 300.9,304.7 301.6,306.2 302.3,307.7 303.0,309.2 303.6,310.5 304.3,311.9 304.9,313.3 305.5,314.7 306.2,316.1 306.8,317.5 307.4,319.0 308.1,320.4 308.7,321.9 309.3,323.3 310.0,324.8 310.6,326.2 311.3,327.7 311.9,329.1 312.5,330.5 313.2,331.9 313.8,333.4 314.4,334.7 315.1,336.1 315.7,337.5 316.3,338.8 317.0,340.1 317.6,341.4 318.4,342.9 319.1,344.5 319.9,346.0 320.6,347.6 321.4,349.1 322.2,350.7 322.9,352.2 323.7,353.7 324.4,355.1 325.2,356.6 326.0,358.0 326.7,359.4 327.5,360.7 328.3,362.0 329.0,363.2 329.8,364.4 330.6,365.5 331.4,366.6 332.2,367.6 333.5,369.1 334.8,370.4 336.1,371.6 337.4,372.7 338.8,373.7 340.1,374.6 341.5,375.4 342.8,376.1 344.2,376.6 345.5,377.1 346.9,377.5 348.2,377.8 349.7,378.0 351.1,378.1 352.5,378.0 354.0,377.9 355.4,377.6 356.9,377.2 358.3,376.6 359.8,376.0 361.3,375.3 362.8,374.4 364.3,373.5 365.4,372.8 366.4,372.0 367.5,371.1 368.6,370.2 369.6,369.3 370.7,368.2 371.8,367.2 372.9,366.0 374.0,364.9 375.1,363.7 376.2,362.5 377.3,361.2 378.5,359.9 379.6,358.6 380.7,357.3 381.8,356.0 382.7,354.9 383.6,353.7 384.6,352.5 385.5,351.2 386.5,349.9 387.4,348.5 388.4,347.1 389.3,345.7 390.3,344.3 391.3,342.9 392.2,341.5 393.2,340.1 394.1,338.8 395.0,337.5 395.9,336.3 396.8,335.1 397.6,334.0 398.4,333.0 399.2,332.0 400.0,331.2 401.8,329.5 403.4,328.2 404.9,327.3 406.3,326.6 407.6,326.1 408.9,325.7 410.3,325.3 411.7,324.9 413.3,324.6 414.7,324.5 416.1,324.6 417.6,324.8 419.2,324.7 421.1,324.4 423.4,323.7 424.5,323.2 425.7,322.7 426.9,322.0 428.2,321.3 429.6,320.5 431.0,319.7 432.5,318.8 434.0,317.9 435.5,317.0 437.0,316.1 438.5,315.2 440.0,314.4 441.4,313.6 442.9,312.8 444.2,312.1 445.5,311.4 446.7,310.9 448.5,310.2 450.1,309.5 451.7,309.0 453.3,308.5 454.8,308.0 456.2,307.7 457.6,307.4 459.0,307.2 460.4,307.0 461.7,306.9 463.1,306.9 464.7,307.0 466.3,307.2 467.9,307.6 469.4,308.1 470.9,308.6 472.4,309.2 473.9,309.8 475.5,310.4 477.1,310.9 478.5,311.4 480.0,312.0 481.4,312.6 483.0,313.3 484.5,313.9 486.0,314.6 487.5,315.2 489.1,315.7 490.5,316.0 492.0,316.3 493.4,316.3 494.9,316.2 496.4,315.9 497.8,315.4 499.2,314.9 500.6,314.2 502.0,313.4 503.3,312.6 504.7,311.7 506.1,310.7 507.5,309.7 508.6,308.9 509.7,307.9 510.7,306.9 511.8,305.8 512.9,304.6 514.0,303.5 515.0,302.3 516.1,301.1 517.2,299.9 518.3,298.8 519.3,297.7 520.4,296.6 521.5,295.7 522.8,294.6 524.0,293.5 525.3,292.4 526.6,291.3 527.9,290.2 529.1,289.3 530.4,288.4 531.7,287.6 533.0,287.0 534.2,286.6 535.5,286.4 536.9,286.4 538.4,286.7 539.8,287.2 541.3,287.9 542.7,288.7 544.2,289.6 545.6,290.6 546.9,291.6 548.2,292.5 549.5,293.4 550.8,294.4 551.9,295.4 553.0,296.4 554.0,297.5 555.0,298.7 556.1,299.8 557.3,300.8 558.5,301.8 560.0,302.8 561.2,303.5 562.5,304.1 563.9,304.6 565.3,305.2 566.8,305.7 568.3,306.2 569.9,306.8 571.4,307.3 573.0,307.9 574.5,308.5 576.0,309.1 577.5,309.8 578.8,310.4 580.2,311.1 581.5,311.7 582.9,312.3 584.2,312.9 585.6,313.5 586.9,314.2 588.3,315.0 589.6,315.8 591.0,316.7 592.3,317.8 593.7,319.0 595.0,320.3 595.8,321.2 596.7,322.2 597.5,323.3 598.3,324.5 599.2,325.7 600.0,327.0 600.9,328.3 601.7,329.7 602.5,331.1 603.4,332.5 604.2,333.9 605.1,335.3 605.9,336.7 606.7,338.1 607.6,339.5 608.4,340.8 609.3,342.1 610.1,343.3 610.9,344.5 611.8,345.6 612.6,346.6 613.8,347.9 615.0,349.2 616.2,350.5 617.5,351.7 618.7,352.8 619.9,353.9 621.2,355.0 622.4,356.0 623.6,356.9 624.8,357.8 625.9,358.6 627.0,359.4 628.1,360.2 629.1,360.9 630.1,361.5 632.0,362.7 633.6,363.6 635.1,364.2 636.5,364.7 637.8,364.9 639.2,365.0 640.6,365.0 642.1,364.8 643.5,364.4 644.9,363.8 646.4,363.0 647.8,362.2 649.4,361.4 651.1,360.6 652.4,360.0 653.9,359.4 655.5,358.7 657.1,358.0 658.8,357.3 660.3,356.6 661.8,355.9 663.1,355.4 664.3,354.9 665.1,354.5" fill="none" stroke="#82c5d8" stroke-width="1.5" stroke-linejoin="round" stroke-dasharray="4.8 3.9" opacity="1.0"/><polyline points="44.4,329.9 48.8,336.5 54.6,332.8 61.9,323.4 67.0,327.0 71.4,321.9 75.0,325.5 79.4,319.7 85.3,324.1 88.2,329.9 91.8,319.7 95.5,323.4 101.3,327.0 104.2,332.1 107.2,331.4 110.0,335.0 113.0,340.1 115.9,343.8 118.8,335.8 121.8,335.0 126.1,336.5 129.0,328.5 132.0,335.0 136.4,326.3 140.0,324.1 148.0,322.4 162.6,319.5 174.3,315.1 186.0,310.7 203.5,309.8 221.0,310.7 230.0,310.7 250.4,305.7 270.9,303.4 288.4,304.9 300.1,307.8 314.7,318.0 326.4,332.6 332.2,342.8 340.9,338.4 346.8,339.9 357.0,353.0 367.2,338.4 373.1,345.7 387.7,312.7 396.4,315.1 408.1,322.4 416.9,316.5 425.6,310.7 434.6,316.5 449.2,311.6 460.9,309.2 478.4,323.8 490.1,322.4 498.8,328.2 510.5,323.8 525.1,325.3 533.9,318.0 548.5,313.6 554.3,315.1 563.1,323.8 571.8,310.7 583.5,316.5 586.3,318.6 595.0,323.0 602.0,324.7 612.6,329.1 617.8,336.1 624.8,337.9 630.1,343.1 635.3,344.0 644.1,337.9 652.9,334.3 665.1,330.0" fill="none" stroke="#739ecf" stroke-width="1.5" stroke-linejoin="round" stroke-dasharray="4.8 3.9" opacity="1.0"/><polyline points="44.2,357.9 47.3,357.6 50.5,357.3 53.6,356.9 56.7,356.6 59.8,356.3 63.0,355.9 66.1,355.6 69.2,355.2 72.3,354.9 75.5,354.7 78.6,354.5 81.7,354.3 84.8,354.0 87.9,353.5 91.1,352.9 94.2,352.0 97.3,350.9 100.4,349.7 103.6,348.4 106.7,347.0 109.8,345.6 112.9,344.1 116.1,342.7 119.2,341.2 122.3,339.5 125.4,337.8 128.5,336.5 131.7,335.7 134.8,335.5 137.9,335.8 141.0,336.2 144.2,336.5 147.3,336.6 150.4,336.7 153.5,336.7 156.7,336.5 159.8,336.1 162.9,335.2 166.0,333.8 169.1,332.1 172.3,330.2 175.4,327.9 178.5,325.4 181.6,322.9 184.8,320.5 187.9,318.1 191.0,315.9 194.1,313.8 197.2,312.0 200.4,310.7 203.5,309.8 206.6,309.2 209.7,308.9 212.9,308.7 216.0,308.5 219.1,308.7 222.2,309.0 225.4,308.8 228.5,307.7 231.6,306.2 234.7,304.3 237.8,301.9 241.0,298.8 244.1,295.1 247.2,290.5 250.3,285.2 253.5,280.1 256.6,275.5 259.7,272.0 262.8,269.4 266.0,267.1 269.1,265.7 272.2,265.1 275.3,265.1 278.4,265.1 281.6,266.1 284.7,268.2 287.8,271.9 290.9,277.4 294.1,284.8 297.2,293.3 300.3,302.4 303.4,312.0 306.6,321.9 309.7,332.3 312.8,342.6 315.9,352.3 319.0,361.0 322.2,369.3 325.3,376.9 328.4,383.7 331.5,389.3 334.7,393.6 337.8,396.8 340.9,398.9 344.0,400.1 347.2,400.2 350.3,399.3 353.4,397.1 356.5,394.2 359.6,390.9 362.8,387.5 365.9,383.5 369.0,379.1 372.1,374.5 375.3,370.1 378.4,365.9 381.5,361.6 384.6,357.5 387.8,353.6 390.9,350.4 394.0,347.7 397.1,345.5 400.2,343.7 403.4,342.8 406.5,341.9 409.6,341.1 412.7,340.6 415.9,340.0 419.0,339.4 422.1,338.4 425.2,336.3 428.4,333.6 431.5,330.8 434.6,328.5 437.7,326.4 440.8,324.3 444.0,322.4 447.1,320.7 450.2,318.8 453.3,317.0 456.5,315.6 459.6,314.9 462.7,314.9 465.8,315.5 469.0,316.4 472.1,317.4 475.2,318.3 478.3,319.1 481.4,320.3 484.6,321.6 487.7,322.4 490.8,322.3 493.9,321.5 497.1,320.0 500.2,317.8 503.3,315.0 506.4,311.5 509.6,307.1 512.7,302.3 515.8,298.5 518.9,295.4 522.0,293.2 525.2,291.2 528.3,289.7 531.4,288.4 534.5,287.1 537.7,286.7 540.8,287.5 543.9,289.1 547.0,291.0 550.1,292.9 553.3,295.3 556.4,298.0 559.5,300.5 562.6,302.6 565.8,304.0 568.9,305.2 572.0,306.1 575.1,307.0 578.3,307.7 581.4,307.6 584.5,308.3 587.6,310.1 590.7,312.5 593.9,316.1 597.0,320.6 600.1,325.8 603.2,332.1 606.4,339.1 609.5,346.1 612.6,353.1 615.7,359.9 618.9,365.6 622.0,370.5 625.1,374.2 628.2,376.7 631.3,378.2 634.5,379.0 637.6,379.2 640.7,378.5 643.8,377.4 647.0,375.9 650.1,373.9 653.2,371.4 656.3,368.9 659.5,367.0 662.6,365.7 665.7,365.0" fill="none" stroke="#8ccde0" stroke-width="1.5" stroke-linejoin="round" stroke-dasharray="4.8 3.9" opacity="1.0"/><polyline points="44.2,356.0 47.3,355.6 50.5,355.3 53.6,354.9 56.7,354.5 59.8,354.2 63.0,353.8 66.1,353.4 69.2,353.1 72.3,352.8 75.5,352.5 78.6,352.3 81.7,352.0 84.8,351.6 87.9,351.1 91.1,350.3 94.2,349.4 97.3,348.2 100.4,346.9 103.6,345.4 106.7,343.9 109.8,342.4 112.9,340.9 116.1,339.4 119.2,337.7 122.3,335.9 125.4,334.2 128.5,333.0 131.7,332.4 134.8,332.3 137.9,332.5 141.0,332.7 144.2,332.7 147.3,332.6 150.4,332.5 153.5,332.2 156.7,331.7 159.8,330.9 162.9,329.7 166.0,328.1 169.1,326.1 172.3,323.9 175.4,321.4 178.5,318.7 181.6,316.1 184.8,313.8 187.9,311.7 191.0,309.7 194.1,307.8 197.2,306.4 200.4,305.4 203.5,304.8 206.6,304.7 209.7,304.8 212.9,305.0 216.0,305.2 219.1,305.9 222.2,306.5 225.4,306.2 228.5,305.2 231.6,303.3 234.7,300.7 237.8,297.6 241.0,293.8 244.1,289.3 247.2,283.9 250.3,278.0 253.5,272.4 256.6,267.4 259.7,263.7 262.8,260.5 266.0,258.1 269.1,256.5 272.2,256.0 275.3,256.3 278.4,257.5 281.6,259.7 284.7,263.2 287.8,268.2 290.9,275.3 294.1,284.0 297.2,293.6 300.3,303.4 303.4,313.0 306.6,323.2 309.7,333.7 312.8,343.9 315.9,353.3 319.0,361.9 322.2,370.0 325.3,377.4 328.4,383.9 331.5,389.0 334.7,392.9 337.8,395.8 340.9,397.6 344.0,398.4 347.2,398.2 350.3,396.6 353.4,394.0 356.5,390.8 359.6,387.4 362.8,383.7 365.9,379.3 369.0,374.7 372.1,370.1 375.3,365.7 378.4,361.3 381.5,357.0 384.6,352.8 387.8,349.1 390.9,345.9 394.0,343.4 397.1,341.2 400.2,339.3 403.4,337.5 406.5,335.7 409.6,334.2 412.7,332.7 415.9,331.2 419.0,329.6 422.1,327.5 425.2,325.0 428.4,322.2 431.5,319.6 434.6,317.3 437.7,315.3 440.8,313.3 444.0,311.5 447.1,309.8 450.2,308.4 453.3,307.2 456.5,306.5 459.6,306.5 462.7,307.2 465.8,308.5 469.0,309.9 472.1,311.4 475.2,312.7 478.3,314.1 481.4,315.6 484.6,316.8 487.7,317.3 490.8,316.9 493.9,315.9 497.1,314.3 500.2,312.2 503.3,309.5 506.4,306.1 509.6,301.7 512.7,297.1 515.8,292.9 518.9,289.6 522.0,286.9 525.2,284.5 528.3,282.5 531.4,280.9 534.5,280.2 537.7,280.4 540.8,281.8 543.9,283.8 547.0,285.9 550.1,288.2 553.3,290.9 556.4,293.7 559.5,296.2 562.6,298.1 565.8,299.6 568.9,300.8 572.0,301.8 575.1,302.8 578.3,303.5 581.4,303.3 584.5,304.8 587.6,306.9 590.7,309.9 593.9,313.9 597.0,318.8 600.1,324.5 603.2,331.3 606.4,338.5 609.5,345.5 612.6,352.7 615.7,359.4 618.9,365.0 622.0,369.6 625.1,373.1 628.2,375.4 631.3,376.8 634.5,377.6 637.6,377.6 640.7,376.9 643.8,375.5 647.0,373.9 650.1,371.7 653.2,369.1 656.3,366.7 659.5,365.1 662.6,364.1 665.7,363.7" fill="none" stroke="#f9b872" stroke-width="1.5" stroke-linejoin="round" stroke-dasharray="4.8 3.9" opacity="1.0"/><polyline points="44.2,356.2 47.3,355.9 50.5,355.5 53.6,355.1 56.7,354.8 59.8,354.4 63.0,354.0 66.1,353.7 69.2,353.3 72.3,353.0 75.5,352.7 78.6,352.5 81.7,352.2 84.8,351.9 87.9,351.4 91.1,350.8 94.2,349.9 97.3,348.8 100.4,347.5 103.6,346.1 106.7,344.6 109.8,343.1 112.9,341.6 116.1,340.1 119.2,338.5 122.3,336.7 125.4,334.9 128.5,333.5 131.7,332.6 134.8,332.4 137.9,332.5 141.0,332.7 144.2,332.9 147.3,332.8 150.4,332.6 153.5,332.4 156.7,332.0 159.8,331.4 162.9,330.3 166.0,328.9 169.1,327.0 172.3,326.2 175.4,324.0 178.5,321.6 181.6,319.2 184.8,317.0 187.9,315.1 191.0,313.2 194.1,311.5 197.2,310.0 200.4,308.9 203.5,308.3 206.6,308.1 209.7,308.1 212.9,308.2 216.0,308.4 219.1,308.9 222.2,309.5 225.4,309.7 228.5,309.0 231.6,307.6 234.7,305.5 237.8,302.9 241.0,299.7 244.1,295.9 247.2,291.3 250.3,286.1 253.5,280.9 256.6,276.1 259.7,272.3 262.8,269.3 266.0,266.9 269.1,265.2 272.2,264.3 275.3,264.3 278.4,265.1 281.6,266.7 284.7,269.3 287.8,273.3 290.9,279.0 294.1,286.3 297.2,294.7 300.3,303.5 303.4,312.2 306.6,321.1 309.7,329.8 312.8,340.2 315.9,350.0 319.0,358.7 322.2,367.0 325.3,374.8 328.4,381.6 331.5,387.3 334.7,391.7 337.8,394.9 340.9,397.1 344.0,398.3 347.2,398.5 350.3,397.4 353.4,395.2 356.5,392.2 359.6,388.8 362.8,385.3 365.9,381.2 369.0,376.6 372.1,371.9 375.3,367.4 378.4,363.1 381.5,358.8 384.6,354.5 387.8,350.6 390.9,347.2 394.0,344.4 397.1,342.1 400.2,340.1 403.4,338.3 406.5,336.5 409.6,334.8 412.7,333.3 415.9,331.9 419.0,330.4 422.1,328.5 425.2,326.1 428.4,324.8 431.5,322.3 434.6,320.2 437.7,318.3 440.8,316.5 444.0,314.8 447.1,313.2 450.2,311.9 453.3,310.7 456.5,309.8 459.6,309.6 462.7,310.0 465.8,311.0 469.0,312.3 472.1,313.6 475.2,314.8 478.3,316.0 481.4,317.4 484.6,318.6 487.7,319.3 490.8,319.3 493.9,318.6 497.1,317.3 500.2,315.6 503.3,313.4 506.4,310.6 509.6,307.0 512.7,302.8 515.8,298.8 518.9,295.5 522.0,292.9 525.2,290.7 528.3,288.7 531.4,287.1 534.5,286.2 537.7,286.0 540.8,286.9 543.9,288.5 547.0,290.4 550.1,292.3 553.3,294.7 556.4,297.2 559.5,299.6 562.6,301.5 565.8,303.0 568.9,304.2 572.0,305.1 575.1,306.0 578.3,306.8 581.4,306.9 584.5,307.6 587.6,309.3 590.7,311.6 593.9,314.9 597.0,319.0 600.1,323.8 603.2,328.7 606.4,335.8 609.5,342.9 612.6,350.1 615.7,357.1 618.9,363.0 622.0,368.1 625.1,372.0 628.2,374.7 631.3,376.4 634.5,377.5 637.6,377.8 640.7,377.3 643.8,376.2 647.0,374.7 650.1,372.7 653.2,370.2 656.3,367.7 659.5,365.8 662.6,364.5 665.7,363.8" fill="none" stroke="#f8b46e" stroke-width="1.5" stroke-linejoin="round" stroke-dasharray="4.8 3.9" opacity="1.0"/><polyline points="44.2,358.3 47.3,358.0 50.5,357.6 53.6,357.2 56.7,356.9 59.8,356.5 63.0,356.1 66.1,355.8 69.2,355.4 72.3,355.1 75.5,354.8 78.6,354.6 81.7,354.3 84.8,354.0 87.9,353.5 91.1,352.9 94.2,352.0 97.3,350.9 100.4,349.6 103.6,348.2 106.7,346.7 109.8,345.2 112.9,343.7 116.1,342.2 119.2,340.6 122.3,338.8 125.4,337.0 128.5,335.6 131.7,334.7 134.8,334.5 137.9,334.6 141.0,334.8 144.2,335.0 147.3,334.9 150.4,334.7 153.5,334.5 156.7,334.1 159.8,333.5 162.9,332.4 166.0,331.0 169.1,329.1 172.3,327.0 175.4,324.6 178.5,322.0 181.6,319.3 184.8,316.8 187.9,314.7 191.0,312.6 194.1,310.7 197.2,309.1 200.4,307.9 203.5,307.2 206.6,306.9 209.7,306.9 212.9,307.1 216.0,307.3 219.1,307.8 222.2,308.5 225.4,308.7 228.5,307.9 231.6,306.3 234.7,304.0 237.8,301.1 241.0,297.6 244.1,293.3 247.2,288.3 250.3,282.5 253.5,276.7 256.6,271.4 259.7,267.2 262.8,263.9 266.0,261.1 269.1,259.2 272.2,258.3 275.3,258.3 278.4,259.1 281.6,260.9 284.7,263.8 287.8,268.3 290.9,274.5 294.1,282.7 297.2,292.0 300.3,301.9 303.4,311.5 306.6,321.4 309.7,331.9 312.8,342.3 315.9,352.1 319.0,360.8 322.2,369.1 325.3,376.9 328.4,383.7 331.5,389.4 334.7,393.8 337.8,397.0 340.9,399.2 344.0,400.4 347.2,400.6 350.3,399.5 353.4,397.3 356.5,394.3 359.6,390.9 362.8,387.4 365.9,383.3 369.0,378.7 372.1,374.0 375.3,369.5 378.4,365.2 381.5,360.9 384.6,356.6 387.8,352.7 390.9,349.3 394.0,346.5 397.1,344.2 400.2,342.2 403.4,340.4 406.5,338.6 409.6,336.9 412.7,335.4 415.9,334.0 419.0,332.5 422.1,330.6 425.2,328.2 428.4,325.5 431.5,322.7 434.6,320.4 437.7,318.3 440.8,316.2 444.0,314.3 447.1,312.6 450.2,311.1 453.3,309.8 456.5,308.9 459.6,308.6 462.7,309.0 465.8,310.1 469.0,311.6 472.1,313.1 475.2,314.4 478.3,315.7 481.4,317.2 484.6,318.6 487.7,319.4 490.8,319.4 493.9,318.6 497.1,317.2 500.2,315.2 503.3,312.8 506.4,309.8 509.6,305.7 512.7,301.1 515.8,296.6 518.9,293.0 522.0,290.1 525.2,287.6 528.3,285.4 531.4,283.7 534.5,282.6 537.7,282.4 540.8,283.3 543.9,285.1 547.0,287.3 550.1,289.4 553.3,292.0 556.4,294.8 559.5,297.5 562.6,299.7 565.8,301.3 568.9,302.6 572.0,303.7 575.1,304.6 578.3,305.5 581.4,305.6 584.5,306.3 587.6,308.2 590.7,310.8 593.9,314.4 597.0,319.0 600.1,324.4 603.2,330.8 606.4,337.9 609.5,345.0 612.6,352.2 615.7,359.2 618.9,365.1 622.0,370.2 625.1,374.1 628.2,376.8 631.3,378.5 634.5,379.6 637.6,379.9 640.7,379.4 643.8,378.3 647.0,376.8 650.1,374.8 653.2,372.3 656.3,369.8 659.5,367.9 662.6,366.6 665.7,365.9" fill="none" stroke="#f39a62" stroke-width="1.5" stroke-linejoin="round" stroke-dasharray="4.8 3.9" opacity="1.0"/><polyline points="44.4,357.4 45.3,357.3 46.3,357.2 47.5,357.0 48.9,356.9 50.4,356.7 51.9,356.5 53.6,356.3 55.3,356.1 57.1,355.9 58.9,355.7 60.7,355.5 62.5,355.3 64.3,355.1 66.0,354.9 67.6,354.7 69.2,354.5 70.8,354.3 72.4,354.2 74.0,354.0 75.5,353.9 77.1,353.8 78.6,353.7 80.2,353.6 81.7,353.4 83.3,353.3 84.8,353.1 86.4,352.9 87.9,352.6 89.5,352.3 91.0,352.0 92.6,351.6 94.0,351.1 95.5,350.6 97.1,350.1 98.6,349.5 100.1,348.8 101.7,348.1 103.2,347.4 104.8,346.7 106.3,346.0 107.8,345.3 109.3,344.6 110.7,343.9 112.1,343.2 113.4,342.5 114.7,341.9 115.9,341.4 117.7,340.5 119.4,339.6 120.9,338.7 122.4,337.9 123.8,337.1 125.1,336.3 126.4,335.6 127.7,335.0 129.1,334.5 130.5,334.1 132.1,333.7 133.8,333.6 135.4,333.6 137.0,333.6 138.6,333.8 140.2,333.9 141.9,334.0 143.5,334.1 145.1,334.1 146.7,334.0 148.4,333.9 150.1,333.8 151.8,333.7 153.4,333.6 155.1,333.5 156.7,333.2 158.2,333.0 159.7,332.6 161.3,332.1 162.8,331.6 164.2,331.0 165.5,330.3 166.9,329.6 168.3,328.7 169.8,327.8 171.4,326.8 172.5,326.0 173.7,325.1 174.8,324.2 176.0,323.2 177.3,322.1 178.5,321.1 179.8,320.0 181.0,318.9 182.3,317.9 183.5,316.9 184.8,315.9 186.0,315.1 187.3,314.2 188.6,313.3 190.0,312.4 191.3,311.5 192.6,310.7 193.9,309.9 195.3,309.2 196.6,308.5 197.9,307.9 199.3,307.3 200.6,306.9 202.2,306.5 203.9,306.2 205.6,306.1 207.3,306.0 209.0,306.0 210.6,306.1 212.2,306.2 213.8,306.2 215.2,306.3 217.2,306.5 219.0,306.9 220.6,307.3 222.2,307.6 223.8,307.8 225.4,307.8 227.0,307.5 228.4,307.0 229.9,306.4 231.3,305.6 232.8,304.6 234.4,303.4 235.3,302.6 236.3,301.7 237.2,300.8 238.2,299.9 239.1,298.8 240.1,297.7 241.2,296.4 242.3,295.0 243.4,293.4 244.6,291.7 245.3,290.7 246.0,289.6 246.7,288.4 247.4,287.1 248.1,285.7 248.9,284.3 249.7,282.9 250.4,281.4 251.2,279.9 252.0,278.4 252.8,277.0 253.6,275.5 254.4,274.1 255.2,272.7 256.0,271.4 256.8,270.1 257.6,268.9 258.4,267.9 259.2,266.9 260.5,265.4 261.9,263.9 263.2,262.6 264.5,261.4 265.8,260.3 267.2,259.4 268.5,258.6 269.8,258.0 271.1,257.5 272.5,257.3 273.8,257.3 275.0,257.4 276.2,257.6 277.4,257.9 278.7,258.3 279.9,258.9 281.1,259.7 282.3,260.6 283.5,261.7 284.7,263.0 286.0,264.5 287.2,266.3 288.4,268.4 288.9,269.3 289.4,270.3 290.0,271.4 290.5,272.6 291.0,273.8 291.5,275.0 292.0,276.3 292.6,277.7 293.1,279.1 293.6,280.5 294.1,282.0 294.7,283.5 295.2,285.0 295.7,286.6 296.2,288.1 296.7,289.7 297.3,291.4 297.8,293.0 298.3,294.6 298.8,296.3 299.3,297.9 299.9,299.6 300.4,301.2 300.9,302.8 301.4,304.5 301.9,306.1 302.5,307.7 303.0,309.2 303.4,310.6 303.9,312.0 304.4,313.4 304.8,314.9 305.3,316.3 305.7,317.8 306.2,319.3 306.6,320.8 307.1,322.3 307.6,323.8 308.0,325.4 308.5,326.9 308.9,328.4 309.4,330.0 309.8,331.5 310.3,333.0 310.7,334.6 311.2,336.1 311.7,337.6 312.1,339.1 312.6,340.6 313.0,342.1 313.5,343.6 313.9,345.1 314.4,346.5 314.9,347.9 315.3,349.3 315.8,350.7 316.2,352.1 316.7,353.4 317.1,354.7 317.6,355.9 318.2,357.6 318.8,359.3 319.4,360.9 320.0,362.6 320.6,364.2 321.2,365.8 321.8,367.4 322.5,369.0 323.1,370.5 323.7,372.1 324.3,373.6 324.9,375.0 325.5,376.5 326.1,377.9 326.7,379.2 327.3,380.6 327.9,381.8 328.5,383.1 329.1,384.3 329.8,385.4 330.4,386.5 331.0,387.6 331.6,388.6 332.2,389.5 333.5,391.4 334.8,393.1 336.2,394.6 337.5,395.9 338.8,397.0 340.2,397.9 341.5,398.6 342.8,399.2 344.1,399.5 345.5,399.7 346.8,399.7 348.0,399.6 349.2,399.2 350.4,398.6 351.7,397.8 352.9,396.9 354.1,395.8 355.3,394.7 356.5,393.4 357.7,392.1 359.0,390.8 360.2,389.4 361.4,388.1 362.3,387.0 363.2,385.9 364.1,384.8 365.0,383.5 365.9,382.3 366.9,381.0 367.8,379.7 368.7,378.3 369.6,376.9 370.5,375.6 371.4,374.2 372.3,372.8 373.2,371.5 374.2,370.2 375.1,368.9 376.0,367.6 377.0,366.3 377.9,365.0 378.9,363.6 379.9,362.2 380.9,360.9 381.8,359.5 382.8,358.2 383.8,356.8 384.7,355.5 385.7,354.3 386.7,353.0 387.7,351.9 388.6,350.7 389.6,349.7 390.6,348.6 391.9,347.4 393.2,346.2 394.6,345.2 395.9,344.2 397.2,343.2 398.5,342.4 399.9,341.6 401.2,340.8 402.5,340.0 403.9,339.2 405.2,338.4 406.7,337.6 408.2,336.7 409.8,335.9 411.4,335.2 413.0,334.4 414.6,333.7 416.0,333.0 417.4,332.4 418.7,331.7 419.8,331.1 421.8,329.9 423.2,328.9 424.3,328.0 425.8,326.8 426.9,325.9 428.0,324.9 429.1,323.9 430.3,322.8 431.6,321.7 433.0,320.6 434.6,319.5 435.7,318.7 436.9,317.9 438.2,317.0 439.6,316.1 441.0,315.2 442.4,314.4 443.9,313.5 445.3,312.7 446.6,312.0 448.0,311.3 449.2,310.7 450.8,310.0 452.3,309.3 453.7,308.8 455.0,308.3 456.4,308.0 457.8,307.8 459.3,307.7 460.9,307.8 462.2,308.0 463.6,308.4 465.0,308.9 466.5,309.5 468.0,310.2 469.5,310.9 471.0,311.6 472.5,312.4 474.0,313.0 475.5,313.6 476.9,314.2 478.4,314.9 479.9,315.6 481.3,316.3 482.8,317.0 484.2,317.6 485.7,318.1 487.2,318.4 488.6,318.6 490.1,318.6 491.4,318.4 492.7,318.1 494.1,317.7 495.4,317.1 496.7,316.5 498.0,315.8 499.4,314.9 500.7,314.0 502.0,313.0 503.3,311.9 504.7,310.7 505.6,309.7 506.6,308.7 507.6,307.5 508.5,306.2 509.5,304.9 510.4,303.5 511.4,302.1 512.4,300.6 513.3,299.2 514.3,297.8 515.3,296.4 516.3,295.1 517.3,293.9 518.3,292.7 519.3,291.7 520.6,290.5 521.9,289.3 523.3,288.2 524.6,287.1 526.0,286.0 527.4,285.1 528.8,284.2 530.1,283.4 531.5,282.7 532.8,282.2 534.1,281.8 535.3,281.5 536.9,281.4 538.4,281.6 539.9,282.0 541.3,282.7 542.7,283.5 544.1,284.4 545.5,285.3 547.0,286.3 548.5,287.3 549.6,288.1 550.8,289.0 552.0,290.0 553.2,291.0 554.4,292.1 555.6,293.2 556.8,294.3 558.0,295.3 559.3,296.4 560.5,297.3 561.8,298.2 563.1,299.0 564.5,299.8 566.1,300.5 567.7,301.2 569.3,301.8 571.0,302.4 572.6,302.9 574.1,303.4 575.6,303.9 576.9,304.2 578.1,304.6 579.1,304.9 581.4,304.7 582.8,304.6 583.8,305.0 584.9,305.6 586.2,306.4 587.5,307.2 588.9,308.2 590.2,309.4 591.5,310.7 592.4,311.7 593.3,312.8 594.2,313.9 595.0,315.2 595.9,316.4 596.8,317.8 597.7,319.2 598.5,320.7 599.4,322.2 600.3,323.8 600.9,325.0 601.5,326.3 602.2,327.6 602.8,328.9 603.4,330.3 604.0,331.7 604.7,333.1 605.3,334.5 605.9,336.0 606.6,337.4 607.2,338.9 607.8,340.3 608.4,341.7 609.1,343.1 609.7,344.5 610.3,345.9 610.9,347.4 611.6,348.8 612.2,350.3 612.8,351.7 613.4,353.2 614.1,354.6 614.7,356.0 615.3,357.4 615.9,358.7 616.6,360.0 617.2,361.2 617.8,362.4 618.7,363.9 619.5,365.4 620.4,366.8 621.2,368.2 622.1,369.4 622.9,370.6 623.8,371.8 624.7,372.8 625.6,373.8 626.6,374.6 628.0,375.8 629.4,376.7 631.0,377.5 632.5,378.1 634.0,378.6 635.6,378.9 637.1,379.0 638.6,379.0 640.1,378.7 641.6,378.3 643.1,377.7 644.6,377.1 646.1,376.3 647.6,375.5 648.9,374.7 650.3,373.7 651.7,372.7 653.1,371.5 654.4,370.4 655.7,369.3 657.0,368.4 658.1,367.6 660.3,366.5 662.3,365.8 663.9,365.4 665.1,365.0" fill="none" stroke="#ee7b62" stroke-width="1.6" stroke-linejoin="round" opacity="1.0"/><polyline points="45.1,512.3 48.2,512.9 51.3,513.6 54.4,514.2 57.5,514.9 60.7,515.5 63.8,516.2 66.9,516.8 70.0,517.5 73.1,518.1 76.2,518.7 79.3,519.3 82.4,519.9 85.5,520.5 88.7,521.1 91.8,521.8 94.9,522.4 98.0,523.0 101.1,523.6 104.2,524.2 107.3,524.8 110.4,525.4 113.5,526.0 116.6,526.6 119.8,527.3 122.9,527.9 126.0,528.5 129.1,529.1 132.2,529.7 135.3,530.2 138.4,530.8 141.5,531.4 144.6,531.9 147.7,532.5 150.8,533.2 154.0,533.9 157.1,534.6 160.2,535.4 163.3,536.2 166.4,537.1 169.5,538.0 172.6,538.9 175.7,539.8 178.8,540.8 181.9,541.8 185.1,542.7 188.2,543.7 191.3,544.8 194.4,545.8 197.5,546.8 200.6,547.9 203.7,549.0 206.8,550.1 209.9,551.2 213.1,552.3 216.2,553.4 219.3,554.5 222.4,555.5 225.5,556.8 228.6,558.1 231.7,559.5 234.8,561.0 237.9,562.5 241.0,564.1 244.2,565.6 247.3,567.2 250.4,568.7 253.5,570.4 256.6,572.1 259.7,573.8 262.8,575.5 265.9,577.1 269.0,578.8 272.1,580.4 275.2,582.1 278.4,583.8 281.5,585.5 284.6,587.2 287.7,588.9 290.8,590.7 293.9,592.4 297.0,594.2 300.1,596.0 303.2,597.9 306.4,599.7 309.5,601.6 312.6,603.5 315.7,605.3 318.8,607.3 321.9,609.2 325.0,611.1 328.1,613.1 331.2,615.0 334.3,617.0 337.4,618.9 340.6,620.8 343.7,622.6 346.8,624.4 349.9,626.1 353.0,627.8 356.1,629.5 359.2,631.2 362.3,632.8 365.4,634.1 368.6,635.3 371.7,636.5 374.8,637.7 377.9,638.8 381.0,639.8 384.1,640.8 387.2,641.7 390.3,642.6 393.4,643.4 396.5,644.2 399.6,644.9 402.8,645.6 405.9,646.2 409.0,646.7 412.1,647.1 415.2,647.5 418.3,647.7 421.4,648.0 424.5,648.1 427.6,648.3 430.8,648.4 433.9,648.5 437.0,648.6 440.1,648.4 443.2,648.5 446.3,648.4 449.4,648.2 452.5,648.0 455.6,647.8 458.7,647.5 461.9,647.2 465.0,646.9 468.1,646.5 471.2,646.2 474.3,645.7 477.4,645.2 480.5,644.7 483.6,644.1 486.7,643.4 489.8,642.6 492.9,641.8 496.1,641.0 499.2,640.1 502.3,639.3 505.4,638.2 508.5,637.1 511.6,636.1 514.7,635.0 517.8,633.9 520.9,632.8 524.0,631.7 527.2,630.5 530.3,629.3 533.4,628.1 536.5,626.8 539.6,625.5 542.7,624.0 545.8,622.5 548.9,621.0 552.0,619.4 555.1,617.9 558.3,616.4 561.4,615.0 564.5,613.7 567.6,612.5 570.7,611.3 573.8,610.2 576.9,609.2 580.0,608.2 583.1,607.3 586.2,606.4 589.4,605.5 592.5,604.6 595.6,603.8 598.7,603.0 601.8,602.4 604.9,601.9 608.0,601.5 611.1,601.0 614.2,600.5 617.4,599.9 620.5,599.3 623.6,598.7 626.7,598.2 629.8,597.8 632.9,597.5 636.0,597.3 639.1,597.1 642.2,597.0 645.3,596.9 648.5,596.8 651.6,596.8 654.7,596.8 657.8,596.9 660.9,597.0 664.0,597.0" fill="none" stroke="#82c5d8" stroke-width="1.5" stroke-linejoin="round" stroke-dasharray="4.8 3.9" opacity="1.0"/><polyline points="45.1,521.9 48.2,522.5 51.3,523.2 54.4,523.8 57.5,524.4 60.7,525.0 63.8,525.6 66.9,526.2 70.0,526.8 73.1,527.4 76.2,528.0 79.3,528.5 82.4,529.1 85.5,529.7 88.7,530.2 91.8,530.8 94.9,531.4 98.0,532.0 101.1,532.5 104.2,533.1 107.3,533.7 110.4,534.2 113.5,534.8 116.6,535.4 119.8,536.0 122.9,536.5 126.0,537.1 129.1,537.7 132.2,538.2 135.3,538.8 138.4,539.3 141.5,539.8 144.6,540.3 147.7,540.9 150.8,541.5 154.0,542.1 157.1,542.8 160.2,543.5 163.3,544.2 166.4,545.0 169.5,545.9 172.6,546.7 175.7,547.6 178.8,548.5 181.9,549.4 185.1,550.3 188.2,551.3 191.3,552.2 194.4,553.2 197.5,554.2 200.6,555.2 203.7,556.2 206.8,557.2 209.9,558.2 213.1,559.3 216.2,560.3 219.3,561.3 222.4,562.3 225.5,563.5 228.6,564.8 231.7,566.3 234.8,567.9 237.9,569.5 241.0,571.2 244.2,572.8 247.3,574.5 250.4,576.1 253.5,577.8 256.6,579.5 259.7,581.1 262.8,582.7 265.9,584.4 269.0,586.0 272.1,587.6 275.2,589.2 278.4,590.8 281.5,592.5 284.6,594.1 287.7,595.8 290.8,597.6 293.9,599.3 297.0,601.1 300.1,602.8 303.2,604.6 306.4,606.4 309.5,608.2 312.6,610.1 315.7,611.9 318.8,613.8 321.9,615.7 325.0,617.6 328.1,619.6 331.2,621.5 334.3,623.5 337.4,625.4 340.6,627.3 343.7,629.1 346.8,630.9 349.9,632.6 353.0,634.3 356.1,636.0 359.2,637.7 362.3,639.3 365.4,640.9 368.6,642.4 371.7,643.9 374.8,645.3 377.9,646.7 381.0,648.0 384.1,649.2 387.2,650.4 390.3,651.6 393.4,652.7 396.5,653.8 399.6,654.8 402.8,655.8 405.9,656.7 409.0,657.5 412.1,658.2 415.2,658.9 418.3,659.5 421.4,660.0 424.5,660.5 427.6,660.9 430.8,661.3 433.9,661.8 437.0,662.2 440.1,662.3 443.2,662.0 446.3,661.6 449.4,661.1 452.5,660.6 455.6,660.0 458.7,659.5 461.9,658.8 465.0,658.2 468.1,657.5 471.2,656.8 474.3,656.0 477.4,655.2 480.5,654.3 483.6,653.3 486.7,652.3 489.8,651.2 492.9,650.1 496.1,649.0 499.2,647.8 502.3,646.6 505.4,645.3 508.5,644.1 511.6,642.9 514.7,641.6 517.8,640.4 520.9,639.1 524.0,637.8 527.2,636.5 530.3,635.2 533.4,633.8 536.5,632.4 539.6,630.9 542.7,629.3 545.8,627.6 548.9,625.9 552.0,624.2 555.1,622.7 558.3,621.2 561.4,619.7 564.5,618.4 567.6,617.2 570.7,616.0 573.8,615.0 576.9,613.9 580.0,612.9 583.1,612.0 586.2,611.0 589.4,610.1 592.5,609.3 595.6,608.4 598.7,607.7 601.8,607.0 604.9,606.5 608.0,606.1 611.1,605.6 614.2,605.1 617.4,604.5 620.5,604.0 623.6,603.5 626.7,603.1 629.8,602.8 632.9,602.5 636.0,602.4 639.1,602.4 642.2,602.3 645.3,602.4 648.5,602.4 651.6,602.5 654.7,602.6 657.8,602.7 660.9,602.9 664.0,603.0" fill="none" stroke="#8ccde0" stroke-width="1.5" stroke-linejoin="round" stroke-dasharray="4.8 3.9" opacity="1.0"/><polyline points="44.4,561.9 53.1,560.5 63.4,558.1 69.2,559.9 83.8,563.4 95.5,567.2 110.1,569.2 118.8,566.3 133.4,565.7 148.0,562.8 171.4,561.9 194.7,559.9 215.2,560.5 240.0,562.8 244.6,563.4 273.8,564.9 308.8,570.7 317.6,580.9 324.9,583.2 332.2,575.1 340.9,597.0 346.8,591.1 354.1,605.7 364.3,611.6 373.1,610.1 381.8,626.2 389.1,623.2 396.4,629.1 405.2,629.1 411.0,633.5 415.4,630.5 422.7,637.8 430.0,642.2 431.7,642.2 440.4,634.9 449.2,623.2 458.0,627.6 469.6,632.0 475.5,621.8 487.2,617.4 490.1,611.6 494.5,626.2 501.8,624.7 507.6,617.4 519.3,611.6 525.1,614.5 533.9,607.2 539.7,606.6 545.5,597.8 552.8,598.4 557.2,592.6 568.9,592.0 577.7,598.4 583.5,605.7 589.8,601.2 596.8,595.0 603.8,596.8 610.8,595.9 616.1,588.9 623.1,594.2 630.1,592.4 638.8,591.5 645.8,591.5 652.9,595.9 659.9,592.4 663.4,594.2" fill="none" stroke="#739ecf" stroke-width="1.5" stroke-linejoin="round" stroke-dasharray="4.8 3.9" opacity="1.0"/><polyline points="45.1,516.9 48.2,517.5 51.3,518.2 54.4,518.9 57.5,519.6 60.7,520.2 63.8,520.9 66.9,521.5 70.0,522.2 73.1,522.8 76.2,523.5 79.3,524.1 82.4,524.7 85.5,525.4 88.7,526.0 91.8,526.6 94.9,527.2 98.0,527.9 101.1,528.5 104.2,529.1 107.3,529.8 110.4,530.4 113.5,531.0 116.6,531.7 119.8,532.3 122.9,532.9 126.0,533.6 129.1,534.2 132.2,534.8 135.3,535.4 138.4,536.0 141.5,536.5 144.6,537.1 147.7,537.8 150.8,538.4 154.0,539.1 157.1,539.9 160.2,540.7 163.3,541.6 166.4,542.5 169.5,543.4 172.6,544.4 175.7,545.3 178.8,546.3 181.9,547.3 185.1,548.4 188.2,549.4 191.3,550.4 194.4,551.5 197.5,552.6 200.6,553.7 203.7,554.8 206.8,555.9 209.9,557.1 213.1,558.2 216.2,559.3 219.3,560.4 222.4,561.6 225.5,562.8 228.6,564.2 231.7,565.6 234.8,567.1 237.9,568.7 241.0,570.2 244.2,571.8 247.3,573.3 250.4,574.9 253.5,576.5 256.6,578.0 259.7,579.6 262.8,581.1 265.9,582.6 269.0,584.1 272.1,585.7 275.2,587.2 278.4,588.7 281.5,590.3 284.6,591.8 287.7,593.4 290.8,595.1 293.9,596.7 297.0,598.4 300.1,600.0 303.2,601.7 306.4,603.4 309.5,605.1 312.6,606.9 315.7,608.6 318.8,610.4 321.9,612.2 325.0,614.1 328.1,616.0 331.2,617.9 334.3,619.8 337.4,621.7 340.6,623.6 343.7,625.4 346.8,627.1 349.9,628.8 353.0,630.5 356.1,632.1 359.2,633.7 362.3,635.3 365.4,636.8 368.6,638.3 371.7,639.7 374.8,641.0 377.9,642.3 381.0,643.6 384.1,644.8 387.2,645.9 390.3,647.0 393.4,648.1 396.5,649.1 399.6,650.0 402.8,650.9 405.9,651.7 409.0,652.5 412.1,653.1 415.2,653.7 418.3,654.2 421.4,654.7 424.5,655.1 427.6,655.5 430.8,655.8 433.9,656.2 437.0,656.5 440.1,656.6 443.2,656.6 446.3,656.4 449.4,656.1 452.5,655.8 455.6,655.5 458.7,655.1 461.9,654.7 465.0,654.3 468.1,653.8 471.2,653.3 474.3,652.8 477.4,652.2 480.5,651.6 483.6,650.8 486.7,650.0 489.8,649.2 492.9,648.3 496.1,647.4 499.2,646.4 502.3,645.4 505.4,644.4 508.5,643.4 511.6,642.3 514.7,641.3 517.8,640.3 520.9,639.2 524.0,638.1 527.2,637.0 530.3,635.9 533.4,634.7 536.5,633.5 539.6,632.2 542.7,630.8 545.8,629.3 548.9,627.8 552.0,626.3 555.1,624.8 558.3,623.4 561.4,622.0 564.5,620.7 567.6,619.5 570.7,618.4 573.8,617.4 576.9,616.4 580.0,615.4 583.1,614.5 586.2,613.6 589.4,612.8 592.5,611.9 595.6,611.1 598.7,610.4 601.8,609.8 604.9,609.4 608.0,609.0 611.1,608.5 614.2,608.0 617.4,607.5 620.5,606.9 623.6,606.4 626.7,605.9 629.8,605.5 632.9,605.2 636.0,605.0 639.1,604.9 642.2,604.8 645.3,604.7 648.5,604.7 651.6,604.7 654.7,604.7 657.8,604.8 660.9,604.9 664.0,605.0" fill="none" stroke="#f9b872" stroke-width="1.5" stroke-linejoin="round" stroke-dasharray="4.8 3.9" opacity="1.0"/><polyline points="45.1,515.7 48.2,516.4 51.3,517.1 54.4,517.8 57.5,518.5 60.7,519.1 63.8,519.8 66.9,520.5 70.0,521.1 73.1,521.8 76.2,522.4 79.3,523.1 82.4,523.7 85.5,524.4 88.7,525.0 91.8,525.6 94.9,526.3 98.0,526.9 101.1,527.5 104.2,528.2 107.3,528.8 110.4,529.5 113.5,530.1 116.6,530.8 119.8,531.4 122.9,532.0 126.0,532.7 129.1,533.3 132.2,533.9 135.3,534.5 138.4,535.1 141.5,535.7 144.6,536.3 147.7,536.9 150.8,537.6 154.0,538.3 157.1,539.1 160.2,539.9 163.3,540.8 166.4,541.7 169.5,542.6 172.6,543.6 175.7,544.6 178.8,545.6 181.9,546.6 185.1,547.7 188.2,548.7 191.3,549.8 194.4,550.8 197.5,551.9 200.6,553.0 203.7,554.2 206.8,555.3 209.9,556.4 213.1,557.6 216.2,558.7 219.3,559.8 222.4,561.0 225.5,562.2 228.6,563.6 231.7,565.1 234.8,566.5 237.9,568.0 241.0,569.5 244.2,571.1 247.3,572.6 250.4,574.2 253.5,575.7 256.6,577.2 259.7,578.8 262.8,580.3 265.9,581.8 269.0,583.3 272.1,584.7 275.2,586.2 278.4,587.7 281.5,589.3 284.6,590.8 287.7,592.4 290.8,594.0 293.9,595.6 297.0,597.2 300.1,598.9 303.2,600.6 306.4,602.2 309.5,603.9 312.6,605.6 315.7,607.4 318.8,609.1 321.9,610.9 325.0,612.5 328.1,614.2 331.2,615.8 334.3,617.5 337.4,619.1 340.6,620.7 343.7,622.3 346.8,623.7 349.9,625.2 353.0,626.6 356.1,628.0 359.2,629.3 362.3,630.6 365.4,631.9 368.6,633.2 371.7,634.4 374.8,635.5 377.9,636.6 381.0,637.7 384.1,638.7 387.2,639.6 390.3,640.5 393.4,641.3 396.5,642.1 399.6,642.9 402.8,643.6 405.9,644.1 409.0,644.5 412.1,644.9 415.2,645.1 418.3,645.4 421.4,645.5 424.5,645.6 427.6,645.7 430.8,645.7 433.9,645.8 437.0,645.8 440.1,645.6 443.2,645.6 446.3,645.6 449.4,645.5 452.5,645.3 455.6,645.1 458.7,644.9 461.9,644.7 465.0,644.4 468.1,644.1 471.2,643.7 474.3,643.3 477.4,642.9 480.5,642.3 483.6,641.8 486.7,641.1 489.8,640.4 492.9,639.7 496.1,638.9 499.2,638.1 502.3,637.2 505.4,636.1 508.5,635.1 511.6,634.0 514.7,632.9 517.8,631.8 520.9,630.7 524.0,629.6 527.2,628.4 530.3,627.3 533.4,626.0 536.5,624.8 539.6,623.4 542.7,622.0 545.8,620.5 548.9,618.9 552.0,617.4 555.1,616.0 558.3,614.7 561.4,613.4 564.5,612.2 567.6,611.2 570.7,610.2 573.8,609.3 576.9,608.4 580.0,607.5 583.1,606.7 586.2,606.0 589.4,605.3 592.5,604.5 595.6,603.9 598.7,603.3 601.8,602.8 604.9,602.5 608.0,602.2 611.1,601.9 614.2,601.5 617.4,601.0 620.5,600.6 623.6,600.2 626.7,599.9 629.8,599.7 632.9,599.6 636.0,599.5 639.1,599.6 642.2,599.6 645.3,599.8 648.5,599.9 651.6,600.0 654.7,600.3 657.8,600.5 660.9,600.8 664.0,601.0" fill="none" stroke="#f8b46e" stroke-width="1.5" stroke-linejoin="round" stroke-dasharray="4.8 3.9" opacity="1.0"/><polyline points="45.1,516.3 48.2,517.0 51.3,517.7 54.4,518.3 57.5,519.0 60.7,519.7 63.8,520.4 66.9,521.1 70.0,521.7 73.1,522.4 76.2,523.0 79.3,523.7 82.4,524.3 85.5,524.9 88.7,525.6 91.8,526.2 94.9,526.8 98.0,527.5 101.1,528.1 104.2,528.8 107.3,529.4 110.4,530.0 113.5,530.7 116.6,531.3 119.8,532.0 122.9,532.6 126.0,533.2 129.1,533.9 132.2,534.5 135.3,535.1 138.4,535.7 141.5,536.3 144.6,536.9 147.7,537.5 150.8,538.2 154.0,538.9 157.1,539.7 160.2,540.5 163.3,541.4 166.4,542.3 169.5,543.2 172.6,544.2 175.7,545.2 178.8,546.2 181.9,547.2 185.1,548.2 188.2,549.3 191.3,550.3 194.4,551.4 197.5,552.5 200.6,553.6 203.7,554.7 206.8,555.9 209.9,557.0 213.1,558.1 216.2,559.3 219.3,560.4 222.4,561.5 225.5,562.8 228.6,564.2 231.7,565.6 234.8,567.1 237.9,568.6 241.0,570.2 244.2,571.7 247.3,573.3 250.4,574.8 253.5,576.4 256.6,577.9 259.7,579.4 262.8,581.0 265.9,582.5 269.0,584.0 272.1,585.5 275.2,587.0 278.4,588.5 281.5,590.0 284.6,591.6 287.7,593.2 290.8,594.8 293.9,596.4 297.0,598.1 300.1,599.7 303.2,601.4 306.4,603.1 309.5,604.8 312.6,606.5 315.7,608.3 318.8,610.0 321.9,611.8 325.0,613.7 328.1,615.6 331.2,617.5 334.3,619.4 337.4,621.3 340.6,623.1 343.7,624.9 346.8,626.6 349.9,628.3 353.0,629.9 356.1,631.6 359.2,633.2 362.3,634.7 365.4,636.0 368.6,637.3 371.7,638.5 374.8,639.7 377.9,640.7 381.0,641.8 384.1,642.8 387.2,643.7 390.3,644.6 393.4,645.4 396.5,646.2 399.6,647.0 402.8,647.7 405.9,648.5 409.0,649.3 412.1,650.0 415.2,650.6 418.3,651.1 421.4,651.6 424.5,652.0 427.6,652.4 430.8,652.8 433.9,653.2 437.0,653.5 440.1,653.7 443.2,653.7 446.3,653.7 449.4,653.5 452.5,653.3 455.6,653.1 458.7,652.9 461.9,652.6 465.0,652.3 468.1,651.9 471.2,651.6 474.3,651.1 477.4,650.7 480.5,650.1 483.6,649.5 486.7,648.9 489.8,648.1 492.9,647.4 496.1,646.6 499.2,645.7 502.3,644.9 505.4,643.9 508.5,642.9 511.6,641.9 514.7,640.9 517.8,639.9 520.9,638.9 524.0,637.9 527.2,636.8 530.3,635.7 533.4,634.6 536.5,633.4 539.6,632.1 542.7,630.8 545.8,629.4 548.9,627.9 552.0,626.4 555.1,625.0 558.3,623.6 561.4,622.2 564.5,621.0 567.6,619.9 570.7,618.8 573.8,617.8 576.9,616.8 580.0,615.9 583.1,615.1 586.2,614.2 589.4,613.4 592.5,612.6 595.6,611.9 598.7,611.2 601.8,610.7 604.9,610.2 608.0,609.9 611.1,609.5 614.2,609.0 617.4,608.5 620.5,608.0 623.6,607.5 626.7,607.1 629.8,606.7 632.9,606.5 636.0,606.3 639.1,606.2 642.2,606.2 645.3,606.2 648.5,606.2 651.6,606.2 654.7,606.3 657.8,606.4 660.9,606.6 664.0,606.7" fill="none" stroke="#f39a62" stroke-width="1.5" stroke-linejoin="round" stroke-dasharray="4.8 3.9" opacity="1.0"/><polyline points="44.4,517.3 45.2,517.4 46.3,517.7 47.4,517.9 48.7,518.2 50.2,518.5 51.7,518.8 53.3,519.2 55.0,519.5 56.7,519.9 58.5,520.3 60.3,520.7 62.1,521.0 63.9,521.4 65.7,521.8 67.5,522.2 69.2,522.5 70.6,522.8 72.1,523.1 73.6,523.4 75.1,523.7 76.6,524.0 78.1,524.3 79.6,524.6 81.2,524.9 82.7,525.2 84.3,525.6 85.9,525.9 87.4,526.2 89.0,526.5 90.6,526.8 92.2,527.1 93.7,527.4 95.3,527.7 96.9,528.0 98.4,528.4 99.9,528.7 101.5,529.0 103.0,529.3 104.5,529.6 106.1,529.9 107.6,530.2 109.2,530.5 110.7,530.8 112.2,531.1 113.8,531.4 115.3,531.7 116.8,532.0 118.4,532.4 119.9,532.7 121.4,533.0 123.0,533.3 124.5,533.6 126.1,533.9 127.6,534.2 129.1,534.5 130.7,534.8 132.2,535.1 133.7,535.4 135.3,535.7 136.8,535.9 138.3,536.2 139.9,536.5 141.4,536.8 143.0,537.1 144.5,537.4 146.0,537.7 147.6,538.0 149.1,538.3 150.6,538.6 152.2,539.0 153.7,539.3 155.3,539.7 156.8,540.0 158.2,540.4 159.7,540.8 161.2,541.2 162.6,541.6 164.1,542.0 165.5,542.4 167.0,542.8 168.5,543.3 169.9,543.7 171.4,544.1 172.8,544.6 174.3,545.0 175.8,545.5 177.2,546.0 178.7,546.4 180.1,546.9 181.6,547.4 183.1,547.8 184.5,548.3 186.0,548.8 187.5,549.3 189.0,549.8 190.5,550.3 192.1,550.8 193.6,551.4 195.2,551.9 196.8,552.4 198.4,553.0 199.9,553.5 201.5,554.1 203.0,554.6 204.5,555.2 206.0,555.7 207.5,556.2 208.9,556.7 210.3,557.2 211.6,557.7 212.8,558.2 214.0,558.6 215.2,559.0 217.2,559.7 218.8,560.3 220.2,560.8 221.5,561.2 222.6,561.7 223.7,562.1 225.0,562.6 226.3,563.2 228.0,563.9 230.0,564.9 231.1,565.4 232.2,565.9 233.4,566.5 234.7,567.1 236.0,567.7 237.3,568.4 238.7,569.1 240.1,569.8 241.5,570.5 243.0,571.2 244.4,572.0 245.9,572.7 247.4,573.5 248.9,574.3 250.4,575.0 251.9,575.8 253.4,576.5 254.9,577.3 256.4,578.0 257.8,578.7 259.2,579.5 260.6,580.1 262.0,580.8 263.4,581.5 264.8,582.2 266.1,582.9 267.5,583.6 268.9,584.3 270.3,584.9 271.7,585.6 273.1,586.3 274.5,587.0 275.9,587.7 277.3,588.4 278.7,589.1 280.1,589.8 281.4,590.5 282.8,591.2 284.2,591.9 285.6,592.6 287.0,593.3 288.4,594.1 289.7,594.7 291.0,595.5 292.4,596.2 293.7,596.9 295.0,597.6 296.4,598.3 297.7,599.0 299.0,599.7 300.3,600.4 301.7,601.2 303.0,601.9 304.3,602.6 305.6,603.4 307.0,604.1 308.3,604.8 309.6,605.6 311.0,606.3 312.3,607.1 313.6,607.8 314.9,608.6 316.3,609.3 317.6,610.1 318.9,610.9 320.2,611.7 321.6,612.4 322.9,613.2 324.2,614.1 325.6,614.9 326.9,615.7 328.2,616.5 329.5,617.3 330.9,618.1 332.2,619.0 333.5,619.8 334.8,620.6 336.2,621.4 337.5,622.2 338.8,623.0 340.2,623.8 341.5,624.6 342.8,625.4 344.1,626.1 345.5,626.9 346.8,627.6 348.2,628.4 349.6,629.1 351.0,629.9 352.3,630.7 353.7,631.4 355.1,632.1 356.5,632.9 357.9,633.6 359.3,634.3 360.7,635.0 362.1,635.7 363.5,636.4 364.9,637.1 366.3,637.8 367.6,638.5 369.0,639.1 370.4,639.8 371.8,640.4 373.2,641.0 374.6,641.6 376.0,642.2 377.5,642.8 378.9,643.5 380.4,644.1 381.9,644.6 383.4,645.2 384.9,645.8 386.4,646.4 387.9,646.9 389.4,647.4 390.9,648.0 392.3,648.5 393.8,649.0 395.3,649.5 396.7,649.9 398.2,650.4 399.6,650.8 401.0,651.3 402.4,651.7 403.8,652.1 405.2,652.4 406.9,652.9 408.6,653.3 410.2,653.7 411.9,654.0 413.5,654.4 415.2,654.7 416.8,655.0 418.4,655.2 420.0,655.5 421.5,655.7 423.0,655.9 424.5,656.1 425.9,656.3 427.3,656.5 428.7,656.7 430.0,656.8 431.9,657.1 433.5,657.3 435.0,657.5 436.4,657.6 437.7,657.7 439.0,657.8 440.5,657.8 442.1,657.7 444.0,657.6 446.3,657.4 447.5,657.3 448.7,657.2 450.1,657.0 451.4,656.9 452.9,656.7 454.4,656.5 455.9,656.3 457.5,656.1 459.1,655.9 460.7,655.6 462.4,655.4 464.0,655.1 465.7,654.9 467.3,654.6 469.0,654.3 470.6,654.0 472.2,653.7 473.8,653.4 475.4,653.1 476.9,652.8 478.4,652.4 479.9,652.1 481.4,651.7 482.9,651.4 484.4,651.0 485.9,650.6 487.4,650.1 488.8,649.7 490.3,649.3 491.7,648.8 493.2,648.4 494.6,647.9 496.1,647.5 497.5,647.0 498.9,646.5 500.4,646.1 501.8,645.6 503.2,645.1 504.7,644.6 506.1,644.2 507.6,643.7 509.1,643.2 510.5,642.7 512.0,642.3 513.4,641.8 514.9,641.3 516.4,640.8 517.8,640.3 519.3,639.8 520.7,639.3 522.2,638.9 523.6,638.3 525.1,637.8 526.6,637.3 528.0,636.8 529.5,636.3 530.9,635.7 532.4,635.2 533.9,634.6 535.3,634.0 536.8,633.5 538.2,632.9 539.6,632.3 541.0,631.7 542.3,631.1 543.7,630.4 545.1,629.8 546.5,629.1 547.9,628.5 549.3,627.8 550.7,627.1 552.1,626.5 553.5,625.8 554.9,625.1 556.3,624.5 557.6,623.8 559.0,623.2 560.4,622.6 561.8,622.0 563.2,621.4 564.6,620.9 566.0,620.3 567.5,619.8 569.0,619.2 570.5,618.7 572.0,618.2 573.6,617.7 575.1,617.2 576.7,616.7 578.2,616.2 579.8,615.8 581.3,615.3 582.8,614.9 584.4,614.4 585.8,614.0 587.3,613.6 588.7,613.2 590.1,612.9 591.4,612.5 592.7,612.2 594.0,611.9 595.2,611.6 597.2,611.1 599.1,610.7 600.8,610.4 602.4,610.1 603.9,609.9 605.3,609.7 606.7,609.5 608.1,609.3 609.5,609.1 611.0,608.9 612.6,608.7 614.1,608.4 615.7,608.2 617.3,607.9 618.9,607.6 620.5,607.3 622.1,607.0 623.7,606.8 625.3,606.5 626.9,606.3 628.5,606.1 630.1,605.9 631.7,605.8 633.3,605.6 634.9,605.5 636.5,605.4 638.1,605.4 639.8,605.3 641.4,605.3 642.9,605.3 644.5,605.2 646.1,605.2 647.6,605.2 649.3,605.2 651.1,605.2 653.0,605.2 654.8,605.3 656.6,605.3 658.3,605.4 659.8,605.4 661.2,605.5 662.4,605.5 663.4,605.6" fill="none" stroke="#ee7b62" stroke-width="1.6" stroke-linejoin="round" opacity="1.0"/><polyline points="45.1,748.2 48.2,748.5 51.3,748.8 54.4,749.0 57.5,749.3 60.7,749.6 63.8,749.8 66.9,750.1 70.0,750.4 73.1,750.7 76.2,751.0 79.3,751.2 82.4,751.5 85.5,751.9 88.7,752.2 91.8,752.5 94.9,752.8 98.0,753.2 101.1,753.5 104.2,753.9 107.3,754.3 110.4,754.7 113.5,755.1 116.6,755.5 119.8,755.9 122.9,756.3 126.0,756.7 129.1,757.2 132.2,757.6 135.3,758.0 138.4,758.5 141.5,758.9 144.6,759.4 147.7,759.8 150.8,760.3 154.0,760.7 157.1,761.2 160.2,761.6 163.3,762.1 166.4,762.6 169.5,763.1 172.6,763.5 175.7,764.0 178.8,764.5 181.9,765.0 185.1,765.5 188.2,765.9 191.3,766.4 194.4,766.9 197.5,767.4 200.6,767.9 203.7,768.4 206.8,768.9 209.9,769.4 213.1,769.9 216.2,770.5 219.3,771.0 222.4,771.5 225.5,772.0 228.6,772.5 231.7,773.1 234.8,773.8 237.9,774.4 241.0,775.0 244.2,775.7 247.3,776.3 250.4,777.0 253.5,777.7 256.6,778.4 259.7,779.0 262.8,779.7 265.9,780.4 269.0,781.1 272.1,781.8 275.2,782.4 278.4,783.1 281.5,783.8 284.6,784.5 287.7,785.1 290.8,785.8 293.9,786.5 297.0,787.3 300.1,788.0 303.2,788.7 306.4,789.4 309.5,790.1 312.6,790.8 315.7,791.6 318.8,792.3 321.9,793.0 325.0,793.7 328.1,794.4 331.2,795.1 334.3,795.8 337.4,796.6 340.6,797.3 343.7,798.0 346.8,798.7 349.9,799.4 353.0,800.1 356.1,800.8 359.2,801.4 362.3,802.1 365.4,802.8 368.6,803.5 371.7,804.2 374.8,804.8 377.9,805.5 381.0,806.2 384.1,806.9 387.2,807.6 390.3,808.3 393.4,808.9 396.5,809.6 399.6,810.3 402.8,811.0 405.9,811.8 409.0,812.5 412.1,813.2 415.2,814.0 418.3,814.8 421.4,815.6 424.5,816.4 427.6,817.2 430.8,817.9 433.9,818.7 437.0,819.4 440.1,820.1 443.2,820.8 446.3,821.6 449.4,822.3 452.5,823.0 455.6,823.7 458.7,824.4 461.9,825.1 465.0,825.8 468.1,826.5 471.2,827.2 474.3,827.9 477.4,828.5 480.5,829.2 483.6,829.9 486.7,830.5 489.8,831.2 492.9,831.9 496.1,832.5 499.2,833.2 502.3,833.8 505.4,834.5 508.5,835.1 511.6,835.7 514.7,836.4 517.8,837.0 520.9,837.6 524.0,838.2 527.2,838.9 530.3,839.5 533.4,840.1 536.5,840.7 539.6,841.3 542.7,841.8 545.8,842.4 548.9,842.9 552.0,843.5 555.1,844.0 558.3,844.5 561.4,845.0 564.5,845.6 567.6,846.1 570.7,846.6 573.8,847.1 576.9,847.6 580.0,848.1 583.1,848.7 586.2,849.2 589.4,849.7 592.5,850.2 595.6,850.7 598.7,851.3 601.8,851.8 604.9,852.4 608.0,852.9 611.1,853.5 614.2,854.0 617.4,854.5 620.5,855.0 623.6,855.5 626.7,855.9 629.8,856.4 632.9,856.8 636.0,857.3 639.1,857.7 642.2,858.2 645.3,858.6 648.5,859.0 651.6,859.5 654.7,859.9 657.8,860.3 660.9,860.8 664.0,861.2" fill="none" stroke="#82c5d8" stroke-width="1.5" stroke-linejoin="round" stroke-dasharray="4.8 3.9" opacity="1.0"/><polyline points="45.1,749.2 48.2,749.5 51.3,749.7 54.4,750.0 57.5,750.3 60.7,750.5 63.8,750.8 66.9,751.1 70.0,751.3 73.1,751.6 76.2,751.9 79.3,752.2 82.4,752.5 85.5,752.8 88.7,753.1 91.8,753.4 94.9,753.7 98.0,754.1 101.1,754.4 104.2,754.8 107.3,755.2 110.4,755.6 113.5,756.0 116.6,756.4 119.8,756.8 122.9,757.2 126.0,757.6 129.1,758.0 132.2,758.5 135.3,758.9 138.4,759.3 141.5,759.8 144.6,760.2 147.7,760.6 150.8,761.1 154.0,761.6 157.1,762.0 160.2,762.5 163.3,762.9 166.4,763.4 169.5,763.9 172.6,764.4 175.7,764.8 178.8,765.3 181.9,765.8 185.1,766.3 188.2,766.8 191.3,767.3 194.4,767.8 197.5,768.3 200.6,768.8 203.7,769.3 206.8,769.8 209.9,770.4 213.1,770.9 216.2,771.4 219.3,771.9 222.4,772.4 225.5,773.0 228.6,773.5 231.7,774.2 234.8,774.8 237.9,775.5 241.0,776.2 244.2,776.9 247.3,777.6 250.4,778.3 253.5,779.0 256.6,779.8 259.7,780.5 262.8,781.2 265.9,782.0 269.0,782.7 272.1,783.4 275.2,784.1 278.4,784.9 281.5,785.6 284.6,786.3 287.7,787.0 290.8,787.8 293.9,788.5 297.0,789.2 300.1,789.9 303.2,790.6 306.4,791.4 309.5,792.1 312.6,792.8 315.7,793.5 318.8,794.2 321.9,794.9 325.0,795.7 328.1,796.4 331.2,797.1 334.3,797.8 337.4,798.5 340.6,799.2 343.7,799.9 346.8,800.6 349.9,801.3 353.0,802.0 356.1,802.6 359.2,803.3 362.3,803.9 365.4,804.5 368.6,805.2 371.7,805.8 374.8,806.4 377.9,807.0 381.0,807.7 384.1,808.3 387.2,808.9 390.3,809.6 393.4,810.2 396.5,810.8 399.6,811.5 402.8,812.1 405.9,812.8 409.0,813.5 412.1,814.2 415.2,814.9 418.3,815.7 421.4,816.5 424.5,817.3 427.6,818.1 430.8,818.8 433.9,819.5 437.0,820.2 440.1,821.0 443.2,821.7 446.3,822.4 449.4,823.1 452.5,823.8 455.6,824.5 458.7,825.2 461.9,825.9 465.0,826.6 468.1,827.3 471.2,828.0 474.3,828.6 477.4,829.3 480.5,830.0 483.6,830.6 486.7,831.3 489.8,832.0 492.9,832.6 496.1,833.3 499.2,833.9 502.3,834.5 505.4,835.2 508.5,835.8 511.6,836.5 514.7,837.1 517.8,837.7 520.9,838.3 524.0,839.0 527.2,839.6 530.3,840.2 533.4,840.8 536.5,841.4 539.6,842.0 542.7,842.6 545.8,843.1 548.9,843.7 552.0,844.3 555.1,844.8 558.3,845.4 561.4,846.0 564.5,846.5 567.6,847.1 570.7,847.6 573.8,848.1 576.9,848.7 580.0,849.2 583.1,849.8 586.2,850.3 589.4,850.9 592.5,851.4 595.6,852.0 598.7,852.6 601.8,853.1 604.9,853.7 608.0,854.3 611.1,854.9 614.2,855.5 617.4,856.0 620.5,856.5 623.6,857.0 626.7,857.5 629.8,858.0 632.9,858.5 636.0,858.9 639.1,859.4 642.2,859.9 645.3,860.3 648.5,860.8 651.6,861.3 654.7,861.7 657.8,862.2 660.9,862.7 664.0,863.1" fill="none" stroke="#8ccde0" stroke-width="1.5" stroke-linejoin="round" stroke-dasharray="4.8 3.9" opacity="1.0"/><polyline points="44.4,795.1 50.2,796.5 56.1,799.5 61.9,795.1 69.2,801.5 73.6,793.6 80.9,793.6 88.2,787.8 94.0,795.1 98.4,783.4 104.2,787.8 111.5,786.3 117.4,777.6 127.6,773.2 143.6,771.1 150.9,773.2 156.8,777.6 162.6,770.3 169.9,773.2 177.2,776.1 186.0,770.3 197.7,773.2 215.2,773.2 240.0,777.6 259.2,780.5 288.4,784.9 308.8,786.3 316.1,781.9 320.5,787.8 323.4,798.0 330.7,818.4 338.0,815.5 345.3,803.8 352.6,795.1 358.5,812.6 364.3,803.8 373.1,796.5 380.4,787.8 383.3,798.0 390.6,793.6 396.4,795.1 405.2,793.6 411.0,803.8 418.3,818.4 422.7,806.8 427.3,830.1 430.2,817.0 437.5,818.4 441.9,803.8 446.3,800.9 450.7,803.8 458.0,798.0 463.8,808.2 474.0,812.6 479.9,808.2 485.7,809.7 488.6,812.6 493.0,801.5 497.4,806.8 501.8,817.0 509.1,821.4 516.4,818.4 522.2,822.8 528.0,819.9 533.9,825.7 536.8,831.6 542.6,830.1 549.9,837.4 552.8,833.0 557.2,834.5 563.1,843.2 571.8,840.3 577.7,852.0 583.5,856.4 588.0,852.6 595.0,847.3 600.3,850.8 605.6,857.8 610.8,861.3 617.8,866.6 621.3,860.4 626.6,858.7 630.1,862.2 635.3,863.9 640.6,859.6 645.8,857.8 652.9,852.6 656.4,857.8 661.6,865.7" fill="none" stroke="#739ecf" stroke-width="1.5" stroke-linejoin="round" stroke-dasharray="4.8 3.9" opacity="1.0"/><polyline points="45.1,754.0 48.2,754.2 51.3,754.5 54.4,754.7 57.5,754.9 60.7,755.1 63.8,755.3 66.9,755.5 70.0,755.8 73.1,756.0 76.2,756.2 79.3,756.5 82.4,756.7 85.5,757.0 88.7,757.2 91.8,757.5 94.9,757.8 98.0,758.1 101.1,758.4 104.2,758.7 107.3,759.0 110.4,759.4 113.5,759.7 116.6,760.1 119.8,760.4 122.9,760.8 126.0,761.2 129.1,761.5 132.2,761.9 135.3,762.3 138.4,762.7 141.5,763.1 144.6,763.5 147.7,763.9 150.8,764.3 154.0,764.7 157.1,765.1 160.2,765.5 163.3,765.9 166.4,766.3 169.5,766.8 172.6,767.2 175.7,767.6 178.8,768.1 181.9,768.5 185.1,768.9 188.2,769.4 191.3,769.8 194.4,770.3 197.5,770.8 200.6,771.2 203.7,771.7 206.8,772.1 209.9,772.6 213.1,773.1 216.2,773.5 219.3,774.0 222.4,774.5 225.5,775.0 228.6,775.5 231.7,776.1 234.8,776.7 237.9,777.3 241.0,778.0 244.2,778.6 247.3,779.3 250.4,779.9 253.5,780.6 256.6,781.3 259.7,782.0 262.8,782.6 265.9,783.3 269.0,784.0 272.1,784.7 275.2,785.4 278.4,786.0 281.5,786.7 284.6,787.4 287.7,788.1 290.8,788.7 293.9,789.4 297.0,790.1 300.1,790.7 303.2,791.4 306.4,792.1 309.5,792.8 312.6,793.4 315.7,794.1 318.8,794.8 321.9,795.4 325.0,796.1 328.1,796.8 331.2,797.4 334.3,798.1 337.4,798.7 340.6,799.4 343.7,800.1 346.8,800.7 349.9,801.4 353.0,802.0 356.1,802.6 359.2,803.2 362.3,803.8 365.4,804.3 368.6,804.9 371.7,805.5 374.8,806.1 377.9,806.7 381.0,807.2 384.1,807.8 387.2,808.4 390.3,809.0 393.4,809.6 396.5,810.2 399.6,810.7 402.8,811.3 405.9,812.0 409.0,812.6 412.1,813.2 415.2,813.9 418.3,814.7 421.4,815.4 424.5,816.2 427.6,816.9 430.8,817.6 433.9,818.2 437.0,818.9 440.1,819.6 443.2,820.3 446.3,820.9 449.4,821.6 452.5,822.2 455.6,822.9 458.7,823.6 461.9,824.2 465.0,824.9 468.1,825.5 471.2,826.1 474.3,826.7 477.4,827.4 480.5,828.0 483.6,828.6 486.7,829.2 489.8,829.8 492.9,830.4 496.1,831.0 499.2,831.6 502.3,832.2 505.4,832.8 508.5,833.4 511.6,834.0 514.7,834.6 517.8,835.2 520.9,835.8 524.0,836.4 527.2,837.0 530.3,837.5 533.4,838.1 536.5,838.7 539.6,839.2 542.7,839.8 545.8,840.3 548.9,840.9 552.0,841.4 555.1,842.0 558.3,842.5 561.4,843.0 564.5,843.5 567.6,844.1 570.7,844.6 573.8,845.1 576.9,845.6 580.0,846.1 583.1,846.6 586.2,847.2 589.4,847.7 592.5,848.2 595.6,848.7 598.7,849.3 601.8,849.8 604.9,850.4 608.0,850.9 611.1,851.5 614.2,852.0 617.4,852.6 620.5,853.0 623.6,853.5 626.7,854.0 629.8,854.4 632.9,854.9 636.0,855.3 639.1,855.8 642.2,856.2 645.3,856.6 648.5,857.1 651.6,857.5 654.7,857.9 657.8,858.4 660.9,858.8 664.0,859.2" fill="none" stroke="#f9b872" stroke-width="1.5" stroke-linejoin="round" stroke-dasharray="4.8 3.9" opacity="1.0"/><polyline points="45.1,755.0 48.2,755.2 51.3,755.4 54.4,755.6 57.5,755.8 60.7,756.0 63.8,756.2 66.9,756.4 70.0,756.7 73.1,756.9 76.2,757.1 79.3,757.3 82.4,757.6 85.5,757.8 88.7,758.1 91.8,758.3 94.9,758.6 98.0,758.9 101.1,759.2 104.2,759.5 107.3,759.8 110.4,760.2 113.5,760.5 116.6,760.8 119.8,761.2 122.9,761.6 126.0,761.9 129.1,762.3 132.2,762.7 135.3,763.0 138.4,763.4 141.5,763.8 144.6,764.2 147.7,764.6 150.8,765.0 154.0,765.4 157.1,765.7 160.2,766.2 163.3,766.6 166.4,767.0 169.5,767.4 172.6,767.8 175.7,768.2 178.8,768.7 181.9,769.1 185.1,769.5 188.2,770.0 191.3,770.4 194.4,770.9 197.5,771.3 200.6,771.8 203.7,772.2 206.8,772.7 209.9,773.1 213.1,773.6 216.2,774.1 219.3,774.5 222.4,775.0 225.5,775.5 228.6,776.0 231.7,776.5 234.8,777.1 237.9,777.7 241.0,778.3 244.2,778.9 247.3,779.5 250.4,780.2 253.5,780.8 256.6,781.4 259.7,782.1 262.8,782.7 265.9,783.4 269.0,784.0 272.1,784.7 275.2,785.3 278.4,785.9 281.5,786.6 284.6,787.2 287.7,787.9 290.8,788.5 293.9,789.1 297.0,789.8 300.1,790.4 303.2,791.0 306.4,791.7 309.5,792.3 312.6,792.9 315.7,793.6 318.8,794.2 321.9,794.8 325.0,795.4 328.1,796.1 331.2,796.7 334.3,797.3 337.4,798.0 340.6,798.6 343.7,799.2 346.8,799.8 349.9,800.4 353.0,801.0 356.1,801.6 359.2,802.2 362.3,802.8 365.4,803.4 368.6,803.9 371.7,804.5 374.8,805.1 377.9,805.7 381.0,806.3 384.1,806.8 387.2,807.4 390.3,808.0 393.4,808.6 396.5,809.2 399.6,809.8 402.8,810.4 405.9,811.0 409.0,811.6 412.1,812.3 415.2,813.0 418.3,813.7 421.4,814.5 424.5,815.2 427.6,815.9 430.8,816.6 433.9,817.3 437.0,817.9 440.1,818.6 443.2,819.3 446.3,819.9 449.4,820.6 452.5,821.3 455.6,821.9 458.7,822.6 461.9,823.2 465.0,823.9 468.1,824.5 471.2,825.1 474.3,825.8 477.4,826.4 480.5,827.0 483.6,827.6 486.7,828.2 489.8,828.8 492.9,829.4 496.1,830.0 499.2,830.6 502.3,831.2 505.4,831.8 508.5,832.4 511.6,833.0 514.7,833.7 517.8,834.3 520.9,834.9 524.0,835.5 527.2,836.2 530.3,836.8 533.4,837.4 536.5,838.0 539.6,838.6 542.7,839.1 545.8,839.7 548.9,840.3 552.0,840.9 555.1,841.4 558.3,842.0 561.4,842.5 564.5,843.1 567.6,843.6 570.7,844.2 573.8,844.7 576.9,845.3 580.0,845.8 583.1,846.4 586.2,846.9 589.4,847.5 592.5,848.0 595.6,848.6 598.7,849.1 601.8,849.7 604.9,850.3 608.0,850.9 611.1,851.5 614.2,852.1 617.4,852.6 620.5,853.1 623.6,853.6 626.7,854.1 629.8,854.6 632.9,855.1 636.0,855.5 639.1,856.0 642.2,856.5 645.3,856.9 648.5,857.4 651.6,857.9 654.7,858.3 657.8,858.8 660.9,859.3 664.0,859.7" fill="none" stroke="#f8b46e" stroke-width="1.5" stroke-linejoin="round" stroke-dasharray="4.8 3.9" opacity="1.0"/><polyline points="45.1,752.6 48.2,752.8 51.3,753.0 54.4,753.3 57.5,753.5 60.7,753.7 63.8,754.0 66.9,754.2 70.0,754.4 73.1,754.7 76.2,754.9 79.3,755.2 82.4,755.5 85.5,755.7 88.7,756.0 91.8,756.3 94.9,756.6 98.0,756.9 101.1,757.2 104.2,757.6 107.3,757.9 110.4,758.3 113.5,758.6 116.6,759.0 119.8,759.4 122.9,759.8 126.0,760.1 129.1,760.5 132.2,760.9 135.3,761.3 138.4,761.7 141.5,762.1 144.6,762.5 147.7,763.0 150.8,763.4 154.0,763.8 157.1,764.2 160.2,764.6 163.3,765.1 166.4,765.5 169.5,766.0 172.6,766.4 175.7,766.9 178.8,767.3 181.9,767.8 185.1,768.2 188.2,768.7 191.3,769.2 194.4,769.6 197.5,770.1 200.6,770.6 203.7,771.1 206.8,771.5 209.9,772.0 213.1,772.5 216.2,773.0 219.3,773.5 222.4,774.0 225.5,774.5 228.6,775.0 231.7,775.5 234.8,776.1 237.9,776.8 241.0,777.4 244.2,778.0 247.3,778.6 250.4,779.3 253.5,779.9 256.6,780.6 259.7,781.2 262.8,781.9 265.9,782.5 269.0,783.2 272.1,783.9 275.2,784.5 278.4,785.2 281.5,785.8 284.6,786.5 287.7,787.1 290.8,787.8 293.9,788.4 297.0,789.1 300.1,789.7 303.2,790.3 306.4,791.0 309.5,791.6 312.6,792.3 315.7,792.9 318.8,793.6 321.9,794.2 325.0,794.9 328.1,795.5 331.2,796.1 334.3,796.8 337.4,797.4 340.6,798.0 343.7,798.7 346.8,799.3 349.9,799.9 353.0,800.5 356.1,801.2 359.2,801.8 362.3,802.4 365.4,803.0 368.6,803.6 371.7,804.2 374.8,804.8 377.9,805.4 381.0,806.0 384.1,806.6 387.2,807.3 390.3,807.9 393.4,808.5 396.5,809.1 399.6,809.7 402.8,810.4 405.9,811.0 409.0,811.7 412.1,812.3 415.2,813.1 418.3,813.8 421.4,814.6 424.5,815.4 427.6,816.1 430.8,816.8 433.9,817.5 437.0,818.2 440.1,818.9 443.2,819.6 446.3,820.3 449.4,821.0 452.5,821.7 455.6,822.4 458.7,823.1 461.9,823.8 465.0,824.4 468.1,825.1 471.2,825.8 474.3,826.4 477.4,827.1 480.5,827.7 483.6,828.4 486.7,829.0 489.8,829.6 492.9,830.3 496.1,830.9 499.2,831.5 502.3,832.1 505.4,832.8 508.5,833.4 511.6,834.0 514.7,834.6 517.8,835.2 520.9,835.8 524.0,836.4 527.2,837.0 530.3,837.6 533.4,838.2 536.5,838.8 539.6,839.3 542.7,839.9 545.8,840.5 548.9,841.0 552.0,841.6 555.1,842.1 558.3,842.6 561.4,843.2 564.5,843.7 567.6,844.2 570.7,844.8 573.8,845.3 576.9,845.8 580.0,846.4 583.1,846.9 586.2,847.4 589.4,847.9 592.5,848.5 595.6,849.0 598.7,849.6 601.8,850.1 604.9,850.7 608.0,851.3 611.1,851.8 614.2,852.4 617.4,852.9 620.5,853.4 623.6,853.9 626.7,854.3 629.8,854.8 632.9,855.3 636.0,855.7 639.1,856.2 642.2,856.6 645.3,857.1 648.5,857.5 651.6,857.9 654.7,858.4 657.8,858.8 660.9,859.3 664.0,859.7" fill="none" stroke="#f39a62" stroke-width="1.5" stroke-linejoin="round" stroke-dasharray="4.8 3.9" opacity="1.0"/><polyline points="44.5,752.5 45.3,752.6 46.2,752.7 47.1,752.7 48.2,752.8 49.3,752.9 50.4,753.0 51.7,753.1 53.0,753.2 54.3,753.3 55.7,753.4 57.2,753.5 58.7,753.6 60.2,753.7 61.8,753.8 63.4,753.9 65.0,754.1 66.7,754.2 68.4,754.3 70.1,754.5 71.9,754.6 73.6,754.7 75.4,754.9 77.2,755.0 78.9,755.2 80.7,755.3 82.5,755.5 84.3,755.6 86.1,755.8 87.8,755.9 89.6,756.1 91.3,756.2 93.0,756.4 94.7,756.6 96.4,756.7 98.0,756.9 99.4,757.1 100.9,757.2 102.3,757.4 103.8,757.5 105.3,757.7 106.8,757.9 108.2,758.0 109.7,758.2 111.2,758.4 112.7,758.5 114.2,758.7 115.7,758.9 117.3,759.1 118.8,759.3 120.3,759.4 121.8,759.6 123.3,759.8 124.9,760.0 126.4,760.2 127.9,760.4 129.5,760.6 131.0,760.8 132.6,761.0 134.1,761.2 135.6,761.4 137.2,761.6 138.7,761.8 140.2,762.0 141.8,762.2 143.3,762.4 144.9,762.6 146.4,762.8 147.9,763.0 149.5,763.2 151.0,763.4 152.5,763.6 154.0,763.8 155.6,764.0 157.1,764.2 158.6,764.4 160.1,764.6 161.7,764.9 163.3,765.1 164.9,765.3 166.5,765.5 168.1,765.8 169.8,766.0 171.4,766.2 173.1,766.5 174.7,766.7 176.4,766.9 178.0,767.2 179.7,767.4 181.4,767.7 183.0,767.9 184.7,768.2 186.3,768.4 187.9,768.7 189.6,768.9 191.2,769.1 192.8,769.4 194.4,769.6 195.9,769.9 197.5,770.1 199.0,770.3 200.5,770.6 202.0,770.8 203.4,771.0 204.9,771.2 206.3,771.4 207.6,771.7 209.0,771.9 210.3,772.1 211.5,772.3 212.7,772.5 213.9,772.6 215.1,772.8 216.2,773.0 218.6,773.4 220.8,773.7 222.6,774.0 224.3,774.3 225.7,774.5 227.0,774.7 228.2,774.9 229.4,775.1 230.5,775.3 231.6,775.5 232.8,775.8 234.1,776.0 235.5,776.3 237.1,776.6 238.9,777.0 241.0,777.4 242.2,777.6 243.4,777.8 244.6,778.1 245.9,778.3 247.2,778.6 248.5,778.9 249.9,779.2 251.2,779.4 252.6,779.7 254.0,780.0 255.5,780.3 256.9,780.6 258.4,781.0 259.9,781.3 261.5,781.6 263.0,781.9 264.6,782.3 266.1,782.6 267.7,782.9 269.3,783.3 271.0,783.6 272.6,783.9 274.2,784.3 275.9,784.6 277.5,785.0 279.2,785.3 280.9,785.7 282.6,786.1 284.3,786.4 286.0,786.8 287.7,787.1 289.0,787.4 290.4,787.7 291.7,788.0 293.1,788.2 294.5,788.5 295.9,788.8 297.3,789.1 298.7,789.4 300.1,789.7 301.6,790.0 303.0,790.3 304.5,790.6 306.0,790.9 307.5,791.2 308.9,791.5 310.4,791.8 311.9,792.1 313.4,792.5 314.9,792.8 316.5,793.1 318.0,793.4 319.5,793.7 321.0,794.0 322.5,794.3 324.1,794.7 325.6,795.0 327.1,795.3 328.7,795.6 330.2,795.9 331.7,796.2 333.2,796.5 334.8,796.9 336.3,797.2 337.8,797.5 339.3,797.8 340.8,798.1 342.3,798.4 343.8,798.7 345.3,799.0 346.8,799.3 348.3,799.6 349.8,799.9 351.3,800.2 352.8,800.5 354.4,800.8 356.0,801.1 357.6,801.4 359.1,801.8 360.7,802.1 362.4,802.4 364.0,802.7 365.6,803.0 367.2,803.3 368.8,803.7 370.4,804.0 372.1,804.3 373.7,804.6 375.3,804.9 376.9,805.2 378.5,805.5 380.0,805.9 381.6,806.2 383.2,806.5 384.7,806.8 386.2,807.1 387.7,807.4 389.2,807.6 390.7,807.9 392.1,808.2 393.5,808.5 394.9,808.8 396.2,809.0 397.6,809.3 398.9,809.6 400.1,809.8 401.3,810.1 402.5,810.3 403.7,810.5 404.8,810.8 405.9,811.0 408.2,811.5 410.2,811.9 412.0,812.3 413.6,812.7 415.0,813.0 416.3,813.3 417.5,813.6 418.6,813.9 419.6,814.1 420.7,814.4 421.7,814.7 422.9,815.0 424.1,815.3 425.5,815.6 427.0,816.0 428.8,816.4 430.8,816.8 431.9,817.1 433.1,817.4 434.4,817.7 435.6,817.9 436.9,818.2 438.2,818.5 439.6,818.8 440.9,819.1 442.3,819.4 443.7,819.8 445.2,820.1 446.7,820.4 448.1,820.7 449.6,821.1 451.2,821.4 452.7,821.8 454.3,822.1 455.8,822.5 457.4,822.8 459.0,823.2 460.7,823.5 462.3,823.9 463.9,824.2 465.6,824.6 467.3,824.9 468.9,825.3 470.6,825.7 472.3,826.0 474.0,826.4 475.7,826.7 477.4,827.1 478.7,827.4 480.1,827.6 481.4,827.9 482.8,828.2 484.2,828.5 485.6,828.8 487.0,829.1 488.4,829.3 489.9,829.6 491.3,829.9 492.8,830.2 494.2,830.5 495.7,830.8 497.2,831.1 498.6,831.4 500.1,831.7 501.6,832.0 503.1,832.3 504.7,832.6 506.2,832.9 507.7,833.2 509.2,833.5 510.7,833.8 512.3,834.1 513.8,834.4 515.3,834.7 516.8,835.0 518.4,835.3 519.9,835.6 521.4,835.9 523.0,836.2 524.5,836.5 526.0,836.8 527.5,837.1 529.0,837.4 530.5,837.7 532.0,837.9 533.5,838.2 535.0,838.5 536.5,838.8 538.0,839.1 539.6,839.3 541.1,839.6 542.7,839.9 544.3,840.2 545.9,840.5 547.5,840.8 549.2,841.1 550.8,841.4 552.5,841.6 554.1,841.9 555.8,842.2 557.5,842.5 559.1,842.8 560.8,843.1 562.4,843.4 564.1,843.6 565.7,843.9 567.4,844.2 569.0,844.5 570.6,844.8 572.2,845.0 573.8,845.3 575.3,845.6 576.9,845.8 578.4,846.1 579.9,846.3 581.4,846.6 582.9,846.8 584.3,847.1 585.7,847.3 587.0,847.5 588.4,847.8 589.7,848.0 590.9,848.2 592.2,848.4 593.3,848.6 594.5,848.8 595.6,849.0 598.0,849.4 600.2,849.8 602.1,850.2 603.8,850.5 605.3,850.7 606.6,851.0 607.8,851.2 609.0,851.4 610.1,851.7 611.3,851.9 612.5,852.1 613.7,852.3 615.1,852.5 616.7,852.8 618.5,853.1 620.5,853.4 621.7,853.6 623.0,853.8 624.4,854.0 625.9,854.2 627.4,854.4 629.0,854.7 630.6,854.9 632.3,855.2 634.0,855.4 635.8,855.7 637.6,855.9 639.3,856.2 641.1,856.4 642.9,856.7 644.7,857.0 646.4,857.2 648.1,857.5 649.8,857.7 651.5,857.9 653.1,858.2 654.6,858.4 656.1,858.6 657.5,858.8 658.8,859.0 660.1,859.2 661.2,859.3 662.3,859.5 663.2,859.6 664.0,859.7" fill="none" stroke="#ee7b62" stroke-width="1.6" stroke-linejoin="round" opacity="1.0"/><polyline points="57.9,1097.4 58.7,1097.3 59.6,1097.2 60.5,1097.1 61.5,1097.0 62.6,1096.8 63.7,1096.7 64.9,1096.5 66.2,1096.4 67.5,1096.2 68.8,1096.1 70.2,1095.9 71.7,1095.7 73.2,1095.6 74.7,1095.4 76.3,1095.2 77.9,1095.0 79.5,1094.8 81.2,1094.6 82.8,1094.4 84.5,1094.2 86.3,1094.0 88.0,1093.8 89.7,1093.6 91.5,1093.4 93.2,1093.2 95.0,1093.0 96.7,1092.8 98.5,1092.6 100.2,1092.4 101.9,1092.2 103.6,1092.0 105.3,1091.8 107.0,1091.7 108.6,1091.5 110.2,1091.3 111.8,1091.1 113.4,1090.9 114.8,1090.8 116.3,1090.6 117.7,1090.5 119.1,1090.3 120.6,1090.2 122.0,1090.0 123.4,1089.8 124.8,1089.7 126.2,1089.5 127.6,1089.4 128.9,1089.2 130.3,1089.1 131.7,1088.9 133.1,1088.7 134.5,1088.6 135.9,1088.4 137.3,1088.3 138.7,1088.1 140.1,1088.0 141.6,1087.8 143.0,1087.7 144.5,1087.5 145.9,1087.4 147.4,1087.2 148.9,1087.1 150.4,1086.9 151.9,1086.8 153.4,1086.6 155.0,1086.5 156.6,1086.3 158.2,1086.2 159.8,1086.1 161.4,1085.9 163.1,1085.8 164.8,1085.6 166.5,1085.5 168.2,1085.4 170.0,1085.2 171.8,1085.1 173.1,1085.0 174.4,1084.9 175.8,1084.8 177.2,1084.7 178.6,1084.6 180.1,1084.6 181.6,1084.5 183.1,1084.4 184.6,1084.3 186.2,1084.2 187.8,1084.1 189.4,1084.0 191.0,1083.9 192.6,1083.8 194.3,1083.7 196.0,1083.6 197.6,1083.6 199.3,1083.5 201.0,1083.4 202.7,1083.3 204.4,1083.2 206.1,1083.1 207.8,1083.0 209.5,1082.9 211.3,1082.9 213.0,1082.8 214.7,1082.7 216.4,1082.6 218.1,1082.5 219.8,1082.4 221.4,1082.4 223.1,1082.3 224.8,1082.2 226.4,1082.1 228.0,1082.0 229.7,1082.0 231.2,1081.9 232.8,1081.8 234.4,1081.7 235.9,1081.7 237.4,1081.6 238.9,1081.5 240.3,1081.5 241.7,1081.4 243.1,1081.3 244.5,1081.3 245.8,1081.2 247.1,1081.1 248.3,1081.1 249.6,1081.0 250.7,1081.0 251.9,1080.9 253.0,1080.8 254.0,1080.8 255.0,1080.7 258.1,1080.6 260.7,1080.4 262.8,1080.3 264.6,1080.2 266.1,1080.1 267.3,1080.0 268.3,1080.0 269.2,1079.9 270.0,1079.9 270.9,1079.8 271.7,1079.7 272.7,1079.7 273.9,1079.6 275.4,1079.5 277.1,1079.4 279.2,1079.3 280.3,1079.2 281.5,1079.1 282.8,1079.0 284.1,1079.0 285.4,1078.9 286.8,1078.8 288.3,1078.7 289.7,1078.5 291.2,1078.4 292.7,1078.3 294.3,1078.2 295.9,1078.1 297.5,1078.0 299.1,1077.9 300.7,1077.7 302.3,1077.6 304.0,1077.5 305.6,1077.4 307.3,1077.3 308.9,1077.2 310.6,1077.1 312.2,1077.0 313.8,1076.9 315.4,1076.8 317.0,1076.7 318.6,1076.6 320.2,1076.6 321.7,1076.5 323.2,1076.5 324.7,1076.4 326.1,1076.4 327.5,1076.4 328.8,1076.4 330.6,1076.4 332.2,1076.4 333.9,1076.4 335.5,1076.5 337.0,1076.6 338.6,1076.7 340.1,1076.8 341.5,1076.9 343.0,1077.1 344.4,1077.2 345.9,1077.3 347.3,1077.5 348.7,1077.6 350.1,1077.8 351.5,1077.9 353.0,1078.1 354.4,1078.2 355.9,1078.3 357.3,1078.4 358.8,1078.5 360.3,1078.6 361.9,1078.7 363.5,1078.7 365.1,1078.7 366.8,1078.7 368.2,1078.7 369.6,1078.6 371.0,1078.5 372.5,1078.5 373.9,1078.4 375.4,1078.3 376.9,1078.2 378.5,1078.0 380.0,1077.9 381.6,1077.8 383.1,1077.6 384.7,1077.5 386.3,1077.3 387.9,1077.2 389.4,1077.0 391.0,1076.9 392.6,1076.7 394.2,1076.5 395.8,1076.4 397.3,1076.2 398.9,1076.1 400.4,1075.9 402.0,1075.8 403.5,1075.6 405.0,1075.5 406.5,1075.4 407.9,1075.2 409.3,1075.1 410.8,1075.0 412.1,1075.0 413.5,1074.9 415.2,1074.8 417.0,1074.8 418.7,1074.7 420.5,1074.7 422.3,1074.6 424.0,1074.6 425.7,1074.6 427.5,1074.6 429.2,1074.6 430.9,1074.6 432.5,1074.6 434.1,1074.7 435.7,1074.7 437.3,1074.7 438.8,1074.7 440.3,1074.8 441.7,1074.8 443.1,1074.8 444.4,1074.8 445.7,1074.9 446.9,1074.9 448.0,1074.9 449.0,1074.9 450.0,1074.9 453.0,1074.9 454.0,1074.9 454.4,1074.9 455.4,1074.9 458.4,1074.7 459.4,1074.6 460.5,1074.6 461.7,1074.5 463.0,1074.4 464.3,1074.4 465.7,1074.3 467.2,1074.2 468.8,1074.1 470.3,1074.0 472.0,1073.9 473.6,1073.8 475.3,1073.7 477.0,1073.6 478.8,1073.5 480.5,1073.4 482.2,1073.3 484.0,1073.2 485.7,1073.1 487.4,1072.9 489.1,1072.8 490.7,1072.7 492.3,1072.6 493.9,1072.5 495.4,1072.3 497.0,1072.2 498.5,1072.1 500.1,1071.9 501.7,1071.8 503.2,1071.6 504.8,1071.5 506.3,1071.3 507.8,1071.2 509.3,1071.0 510.9,1070.9 512.4,1070.7 513.9,1070.6 515.4,1070.4 516.9,1070.2 518.4,1070.1 519.9,1069.9 521.4,1069.8 522.9,1069.6 524.4,1069.5 525.9,1069.3 527.4,1069.1 528.9,1069.0 530.5,1068.8 532.0,1068.7 533.5,1068.5 535.1,1068.3 536.6,1068.2 538.1,1068.0 539.6,1067.8 541.2,1067.6 542.7,1067.4 544.2,1067.3 545.7,1067.1 547.3,1066.9 548.8,1066.8 550.3,1066.6 551.8,1066.4 553.4,1066.3 554.9,1066.2 556.4,1066.0 557.9,1065.9 559.5,1065.8 561.0,1065.7 562.5,1065.6 564.0,1065.6 565.4,1065.5 566.8,1065.4 568.1,1065.4 569.4,1065.4 570.7,1065.3 571.9,1065.3 573.2,1065.3 574.4,1065.3 575.7,1065.3 577.0,1065.3 578.3,1065.3 579.7,1065.3 581.2,1065.4 582.7,1065.4 584.3,1065.4 586.0,1065.4 587.8,1065.5 589.7,1065.5 591.7,1065.6 593.8,1065.6 596.1,1065.6 597.2,1065.6 598.4,1065.7 599.7,1065.7 601.0,1065.7 602.4,1065.7 603.8,1065.8 605.3,1065.8 606.8,1065.8 608.3,1065.9 609.9,1065.9 611.6,1065.9 613.2,1066.0 614.9,1066.0 616.6,1066.1 618.3,1066.1 620.1,1066.1 621.8,1066.2 623.6,1066.2 625.4,1066.3 627.2,1066.3 629.0,1066.4 630.8,1066.4 632.6,1066.4 634.4,1066.5 636.1,1066.5 637.9,1066.6 639.6,1066.6 641.4,1066.7 643.1,1066.7 644.8,1066.8 646.4,1066.8 648.1,1066.8 649.6,1066.9 651.2,1066.9 652.7,1067.0 654.2,1067.0 655.6,1067.0 657.0,1067.1 658.3,1067.1 659.6,1067.1 660.8,1067.2 661.9,1067.2 663.0,1067.2 664.0,1067.2 665.0,1067.3 665.8,1067.3 666.6,1067.3" fill="none" stroke="#82c5d8" stroke-width="1.5" stroke-linejoin="round" stroke-dasharray="4.8 3.9" opacity="1.0"/><polyline points="57.9,1111.4 58.8,1111.2 59.9,1110.9 61.2,1110.6 62.7,1110.3 64.3,1109.9 66.0,1109.5 67.8,1109.1 69.6,1108.7 71.4,1108.3 73.2,1107.9 75.0,1107.6 76.7,1107.3 78.4,1107.0 79.9,1106.8 81.4,1106.6 82.8,1106.5 84.2,1106.3 85.6,1106.2 87.0,1106.1 88.4,1106.1 89.9,1106.0 91.4,1105.9 93.1,1105.8 94.8,1105.7 96.7,1105.7 98.8,1105.5 100.0,1105.5 101.4,1105.4 102.7,1105.3 104.2,1105.2 105.7,1105.2 107.2,1105.1 108.8,1105.0 110.4,1104.9 112.0,1104.8 113.6,1104.7 115.3,1104.6 117.0,1104.6 118.6,1104.5 120.3,1104.4 121.9,1104.3 123.6,1104.3 125.2,1104.2 126.7,1104.2 128.2,1104.1 129.7,1104.1 131.2,1104.1 132.5,1104.1 133.8,1104.1 135.7,1104.1 137.4,1104.2 138.9,1104.3 140.4,1104.4 141.7,1104.6 143.0,1104.7 144.3,1104.9 145.6,1105.1 146.9,1105.2 148.3,1105.4 149.8,1105.6 151.4,1105.7 153.1,1105.9 155.1,1106.0 157.2,1106.1 158.4,1106.2 159.6,1106.2 160.8,1106.3 162.1,1106.3 163.4,1106.4 164.7,1106.4 166.1,1106.5 167.5,1106.5 168.9,1106.6 170.4,1106.6 171.9,1106.7 173.3,1106.7 174.9,1106.8 176.4,1106.8 178.0,1106.8 179.5,1106.9 181.1,1106.9 182.7,1106.9 184.3,1107.0 186.0,1107.0 187.6,1107.0 189.3,1107.0 190.9,1107.0 192.6,1107.0 194.3,1107.0 195.9,1107.0 197.6,1107.0 199.3,1107.0 201.0,1107.0 202.4,1107.0 203.8,1107.0 205.2,1106.9 206.7,1106.9 208.2,1106.9 209.7,1106.8 211.3,1106.8 212.9,1106.7 214.5,1106.7 216.1,1106.6 217.7,1106.6 219.3,1106.5 221.0,1106.4 222.6,1106.4 224.3,1106.3 225.9,1106.3 227.6,1106.2 229.2,1106.1 230.9,1106.0 232.5,1106.0 234.1,1105.9 235.7,1105.8 237.3,1105.8 238.8,1105.7 240.4,1105.6 241.9,1105.5 243.4,1105.5 244.8,1105.4 246.2,1105.4 247.6,1105.3 248.9,1105.2 250.3,1105.2 251.5,1105.1 252.7,1105.1 253.9,1105.0 255.0,1105.0 257.3,1104.9 259.5,1104.8 261.5,1104.7 263.4,1104.6 265.1,1104.5 266.7,1104.4 268.2,1104.4 269.6,1104.3 270.9,1104.2 272.1,1104.2 273.3,1104.1 274.5,1104.0 275.7,1104.0 276.8,1103.9 278.0,1103.9 279.2,1103.8 281.2,1103.7 282.8,1103.6 284.2,1103.6 285.5,1103.5 286.8,1103.5 288.2,1103.4 289.8,1103.4 291.6,1103.3 293.8,1103.2 295.0,1103.2 296.3,1103.1 297.7,1103.0 299.2,1102.9 300.8,1102.8 302.4,1102.7 304.1,1102.6 305.8,1102.5 307.5,1102.4 309.3,1102.3 311.0,1102.2 312.7,1102.1 314.4,1102.0 316.0,1102.0 317.5,1102.0 319.0,1101.9 320.5,1101.9 321.8,1102.0 323.0,1102.0 325.0,1102.2 326.6,1102.5 328.0,1102.8 329.2,1103.2 330.3,1103.6 331.4,1104.1 332.6,1104.5 334.0,1105.1 335.6,1105.6 337.6,1106.1 338.8,1106.4 340.0,1106.7 341.2,1107.1 342.5,1107.4 343.9,1107.8 345.2,1108.2 346.6,1108.6 348.1,1109.0 349.6,1109.4 351.1,1109.8 352.7,1110.2 354.3,1110.5 356.0,1110.9 357.7,1111.3 359.4,1111.6 361.2,1112.0 363.0,1112.3 364.9,1112.6 366.8,1112.8 368.1,1113.0 369.4,1113.2 370.7,1113.3 372.1,1113.4 373.5,1113.5 375.0,1113.6 376.4,1113.8 377.9,1113.8 379.4,1113.9 381.0,1114.0 382.5,1114.1 384.1,1114.2 385.7,1114.3 387.3,1114.3 388.8,1114.4 390.4,1114.5 392.0,1114.5 393.6,1114.6 395.2,1114.7 396.8,1114.8 398.4,1114.9 400.0,1114.9 401.6,1115.0 403.1,1115.1 404.6,1115.2 406.2,1115.4 407.7,1115.5 409.1,1115.6 410.6,1115.8 412.2,1115.9 413.8,1116.1 415.5,1116.3 417.2,1116.6 418.9,1116.8 420.6,1117.0 422.3,1117.3 424.1,1117.5 425.8,1117.8 427.5,1118.1 429.2,1118.3 430.8,1118.6 432.5,1118.9 434.1,1119.1 435.7,1119.4 437.3,1119.6 438.8,1119.9 440.3,1120.1 441.7,1120.4 443.1,1120.6 444.4,1120.8 445.7,1121.0 446.9,1121.2 448.0,1121.3 449.0,1121.5 450.0,1121.6 453.6,1122.0 455.4,1122.0 456.2,1121.9 456.9,1121.7 458.4,1121.7 459.9,1121.8 461.4,1121.9 463.1,1122.1 464.8,1122.3 466.6,1122.4 468.4,1122.5 470.2,1122.5 471.9,1122.4 473.1,1122.1 474.1,1121.7 474.8,1121.2 475.6,1120.7 476.6,1120.1 477.8,1119.6 479.6,1119.1 482.0,1118.6 485.3,1118.3 486.3,1118.3 487.4,1118.2 488.6,1118.2 489.8,1118.2 491.2,1118.2 492.6,1118.1 494.1,1118.1 495.6,1118.1 497.2,1118.1 498.8,1118.1 500.5,1118.1 502.2,1118.1 503.9,1118.2 505.7,1118.2 507.4,1118.2 509.2,1118.2 511.0,1118.2 512.9,1118.3 514.7,1118.3 516.5,1118.3 518.3,1118.3 520.0,1118.3 521.8,1118.4 523.5,1118.4 525.2,1118.4 526.8,1118.4 528.4,1118.4 530.0,1118.4 531.5,1118.4 532.9,1118.4 534.3,1118.4 535.6,1118.4 536.8,1118.4 538.0,1118.4 539.0,1118.3 541.9,1118.2 544.3,1118.1 546.3,1117.9 547.8,1117.7 549.2,1117.5 550.3,1117.3 551.3,1117.0 552.2,1116.8 553.3,1116.5 554.4,1116.3 555.8,1116.0 557.3,1115.7 558.8,1115.4 560.2,1115.0 561.6,1114.6 563.1,1114.2 564.5,1113.8 566.0,1113.5 567.5,1113.2 569.1,1112.9 570.8,1112.7 572.6,1112.6 574.0,1112.6 575.3,1112.7 576.7,1112.7 578.1,1112.9 579.6,1113.0 581.0,1113.2 582.5,1113.4 584.1,1113.6 585.7,1113.8 587.3,1114.0 588.9,1114.2 590.7,1114.4 592.4,1114.6 594.2,1114.8 596.1,1115.0 597.4,1115.1 598.8,1115.2 600.2,1115.3 601.6,1115.4 603.1,1115.5 604.5,1115.6 606.0,1115.8 607.6,1115.9 609.1,1116.0 610.7,1116.1 612.3,1116.2 613.9,1116.3 615.5,1116.4 617.1,1116.5 618.7,1116.6 620.3,1116.7 621.9,1116.8 623.4,1116.8 625.0,1116.9 626.6,1116.9 628.2,1117.0 629.7,1117.0 631.2,1117.0 632.9,1117.0 634.5,1117.0 636.2,1117.0 638.0,1117.0 639.8,1116.9 641.5,1116.9 643.3,1116.8 645.1,1116.8 646.8,1116.7 648.6,1116.6 650.3,1116.6 651.9,1116.5 653.5,1116.4 655.1,1116.3 656.5,1116.3 657.9,1116.2 659.2,1116.2 660.4,1116.1 661.5,1116.1 662.4,1116.0 663.3,1116.0" fill="none" stroke="#f9b872" stroke-width="1.5" stroke-linejoin="round" stroke-dasharray="4.8 3.9" opacity="1.0"/><polyline points="58.7,1089.4 61.7,1089.0 64.8,1088.6 67.8,1088.2 70.9,1087.8 74.0,1087.4 77.0,1087.0 80.1,1086.5 83.2,1086.1 86.2,1085.7 89.3,1085.3 92.3,1084.9 95.4,1084.5 98.5,1084.1 101.5,1083.7 104.6,1083.3 107.7,1082.9 110.7,1082.5 113.8,1082.1 116.8,1081.7 119.9,1081.3 123.0,1080.9 126.0,1080.5 129.1,1080.1 132.2,1079.7 135.2,1079.3 138.3,1078.9 141.3,1078.5 144.4,1078.1 147.5,1077.7 150.5,1077.3 153.6,1076.9 156.6,1076.6 159.7,1076.2 162.8,1075.9 165.8,1075.5 168.9,1075.2 172.0,1074.9 175.0,1074.6 178.1,1074.3 181.1,1074.0 184.2,1073.7 187.3,1073.4 190.3,1073.1 193.4,1072.9 196.5,1072.6 199.5,1072.3 202.6,1072.1 205.6,1071.8 208.7,1071.6 211.8,1071.3 214.8,1071.1 217.9,1070.8 220.9,1070.6 224.0,1070.3 227.1,1070.0 230.1,1069.8 233.2,1069.5 236.3,1069.3 239.3,1069.0 242.4,1068.8 245.4,1068.5 248.5,1068.2 251.6,1067.9 254.6,1067.6 257.7,1067.3 260.8,1067.0 263.8,1066.6 266.9,1066.2 269.9,1065.7 273.0,1065.1 276.1,1064.6 279.1,1064.1 282.2,1063.7 285.2,1063.3 288.3,1062.9 291.4,1062.5 294.4,1062.1 297.5,1061.7 300.6,1061.3 303.6,1060.9 306.7,1060.5 309.7,1060.1 312.8,1059.7 315.9,1059.3 318.9,1058.9 322.0,1058.5 325.1,1058.1 328.1,1057.7 331.2,1057.3 334.2,1057.0 337.3,1056.7 340.4,1056.4 343.4,1056.1 346.5,1055.8 349.6,1055.6 352.6,1055.3 355.7,1055.1 358.7,1054.8 361.8,1054.6 364.9,1054.4 367.9,1054.1 371.0,1053.9 374.0,1053.7 377.1,1053.5 380.2,1053.3 383.2,1053.1 386.3,1052.9 389.4,1052.7 392.4,1052.6 395.5,1052.4 398.5,1052.2 401.6,1052.0 404.7,1051.8 407.7,1051.6 410.8,1051.5 413.9,1051.3 416.9,1051.1 420.0,1051.0 423.0,1050.8 426.1,1050.6 429.2,1050.5 432.2,1050.3 435.3,1050.2 438.4,1050.0 441.4,1049.7 444.5,1049.5 447.5,1049.3 450.6,1049.2 453.7,1051.6 456.7,1051.9 459.8,1052.0 462.8,1052.0 465.9,1052.0 469.0,1052.0 472.0,1052.0 475.1,1052.0 478.2,1052.0 481.2,1051.9 484.3,1051.9 487.3,1051.9 490.4,1051.8 493.5,1051.8 496.5,1051.7 499.6,1051.7 502.7,1051.6 505.7,1051.6 508.8,1051.5 511.8,1051.5 514.9,1051.4 518.0,1051.4 521.0,1051.3 524.1,1051.2 527.1,1051.2 530.2,1051.1 533.3,1051.0 536.3,1050.9 539.4,1050.8 542.5,1050.8 545.5,1050.7 548.6,1050.6 551.6,1050.5 554.7,1050.4 557.8,1050.2 560.8,1050.1 563.9,1050.0 567.0,1049.8 570.0,1049.7 573.1,1049.5 576.1,1049.4 579.2,1049.2 582.3,1049.1 585.3,1048.9 588.4,1048.7 591.5,1048.5 594.5,1048.4 597.6,1048.2 600.6,1048.0 603.7,1047.8 606.8,1047.6 609.8,1047.5 612.9,1047.3 615.9,1047.1 619.0,1047.0 622.1,1046.8 625.1,1046.6 628.2,1046.4 631.3,1046.2 634.3,1046.0 637.4,1045.8 640.4,1045.6 643.5,1045.4 646.6,1045.2 649.6,1045.0 652.7,1044.8 655.8,1044.6 658.8,1044.4 661.9,1044.2 664.9,1044.0 668.0,1043.9" fill="none" stroke="#f8b46e" stroke-width="1.5" stroke-linejoin="round" stroke-dasharray="4.8 3.9" opacity="1.0"/><polyline points="59.9,1088.8 62.0,1087.7 64.2,1087.9 66.3,1089.7 68.5,1088.3 70.6,1087.8 72.7,1089.0 74.9,1087.5 77.0,1088.5 79.2,1087.1 81.3,1087.4 83.5,1084.7 85.6,1086.1 87.8,1086.4 89.9,1083.8 92.0,1086.3 94.2,1083.6 96.3,1084.3 98.5,1083.1 100.6,1083.8 102.8,1083.9 104.9,1081.9 107.0,1084.4 109.2,1082.5 111.3,1082.5 113.5,1082.5 115.6,1081.5 117.8,1080.9 119.9,1081.8 122.0,1081.3 124.2,1080.1 126.3,1081.2 128.5,1079.5 130.6,1078.4 132.8,1078.8 134.9,1077.9 137.0,1077.9 139.2,1079.6 141.3,1078.1 143.5,1079.5 145.6,1078.7 147.8,1076.2 149.9,1078.9 152.1,1078.5 154.2,1075.5 156.3,1077.9 158.5,1076.1 160.6,1076.0 162.8,1077.4 164.9,1074.8 167.1,1075.5 169.2,1076.6 171.3,1075.6 173.5,1074.6 175.6,1076.0 177.8,1075.3 179.9,1074.4 182.1,1072.7 184.2,1074.1 186.3,1073.4 188.5,1072.4 190.6,1071.7 192.8,1073.0 194.9,1071.5 197.1,1072.4 199.2,1072.9 201.4,1072.0 203.5,1071.2 205.6,1072.1 207.8,1071.4 209.9,1072.4 212.1,1071.4 214.2,1072.7 216.4,1072.4 218.5,1071.5 220.6,1069.7 222.8,1069.2 224.9,1071.5 227.1,1071.0 229.2,1070.3 231.4,1069.2 233.5,1068.8 235.6,1069.9 237.8,1069.4 239.9,1069.3 242.1,1069.2 244.2,1069.4 246.4,1067.4 248.5,1067.4 250.6,1069.5 252.8,1069.1 254.9,1068.8 257.1,1065.9 259.2,1065.7 261.4,1066.2 263.5,1066.4 265.7,1066.8 267.8,1064.8 269.9,1065.8 272.1,1063.9 274.2,1063.6 276.4,1065.1 278.5,1064.3 280.7,1064.3 282.8,1063.2 284.9,1063.2 287.1,1062.1 289.2,1062.2 291.4,1063.2 293.5,1063.3 295.7,1060.5 297.8,1060.4 299.9,1062.4 302.1,1061.5 304.2,1061.7 306.4,1059.6 308.5,1060.0 310.7,1059.2 312.8,1060.7 315.0,1059.0 317.1,1059.6 319.2,1060.4 321.4,1058.0 323.5,1058.4 325.7,1058.8 327.8,1059.1 330.0,1057.2 332.1,1056.7 334.2,1055.6 336.4,1057.8 338.5,1055.0 340.7,1054.7 342.8,1056.0 345.0,1055.4 347.1,1055.8 349.2,1054.3 351.4,1055.6 353.5,1053.1 355.7,1053.3 357.8,1054.5 360.0,1052.4 362.1,1052.9 364.2,1054.0 366.4,1053.7 368.5,1052.1 370.7,1051.5 372.8,1051.9 375.0,1052.9 377.1,1051.5 379.3,1050.5 381.4,1052.2 383.5,1051.5 385.7,1052.5 387.8,1052.3 390.0,1052.0 392.1,1050.3 394.3,1051.3 396.4,1049.5 398.5,1049.3 400.7,1049.4 402.8,1050.9 405.0,1050.6 407.1,1048.3 409.3,1048.5 411.4,1048.3 413.5,1048.1 415.7,1048.0 417.8,1047.8 420.0,1047.0 422.1,1048.0 424.3,1048.5 426.4,1047.5 428.6,1048.3 430.7,1047.3 432.8,1045.9 435.0,1047.5 437.1,1047.8 439.3,1045.7 441.4,1044.7 443.6,1046.1 445.7,1046.1 447.8,1046.0 450.0,1047.2 452.1,1046.2 454.3,1049.1 456.4,1046.9 458.6,1048.7 460.7,1049.5 462.8,1047.2 465.0,1047.2 467.1,1049.3 469.3,1049.8 471.4,1047.2 473.6,1048.9 475.7,1047.4 477.8,1049.3 480.0,1048.9 482.1,1047.6 484.3,1047.5 486.4,1049.2 488.6,1048.4 490.7,1049.2 492.9,1048.0 495.0,1047.8 497.1,1049.7 499.3,1048.8 501.4,1048.1 503.6,1048.2 505.7,1048.8 507.9,1048.7 510.0,1049.3 512.1,1047.7 514.3,1049.0 516.4,1048.4 518.6,1049.0 520.7,1048.8 522.9,1048.8 525.0,1048.9 527.1,1049.1 529.3,1048.0 531.4,1047.6 533.6,1048.2 535.7,1048.4 537.9,1047.1 540.0,1047.1 542.2,1046.1 544.3,1048.0 546.4,1048.7 548.6,1046.7 550.7,1045.9 552.9,1046.0 555.0,1046.6 557.2,1046.1 559.3,1048.2 561.4,1045.2 563.6,1045.9 565.7,1045.2 567.9,1046.8 570.0,1047.1 572.2,1045.1 574.3,1044.6 576.4,1045.7 578.6,1046.0 580.7,1047.0 582.9,1044.0 585.0,1044.2 587.2,1044.3 589.3,1044.3 591.5,1044.2 593.6,1045.6 595.7,1045.1 597.9,1043.8 600.0,1043.5 602.2,1043.7 604.3,1043.2 606.5,1045.0 608.6,1043.4 610.7,1044.1 612.9,1044.8 615.0,1043.6 617.2,1042.8 619.3,1044.7 621.5,1044.6 623.6,1042.7 625.7,1043.2 627.9,1044.4 630.0,1042.7 632.2,1041.8 634.3,1041.1 636.5,1043.8 638.6,1043.2 640.7,1041.7 642.9,1042.1 645.0,1041.9 647.2,1041.0 649.3,1043.1 651.5,1041.9 653.6,1040.4 655.8,1039.6 657.9,1040.9 660.0,1040.5 662.2,1041.7 664.3,1041.3 666.5,1040.8" fill="none" stroke="#f39a62" stroke-width="1.2" stroke-linejoin="round" stroke-dasharray="4.8 3.9" opacity="1.0"/><polyline points="58.7,1065.9 61.7,1065.4 64.8,1064.9 67.8,1064.4 70.9,1063.9 74.0,1063.4 77.0,1062.9 80.1,1062.4 83.2,1061.9 86.2,1061.4 89.3,1060.9 92.3,1060.5 95.4,1060.0 98.5,1059.5 101.5,1059.0 104.6,1058.5 107.7,1058.1 110.7,1057.6 113.8,1057.1 116.8,1056.7 119.9,1056.2 123.0,1055.7 126.0,1055.3 129.1,1054.8 132.2,1054.3 135.2,1053.9 138.3,1053.4 141.3,1053.0 144.4,1052.5 147.5,1052.1 150.5,1051.6 153.6,1051.2 156.6,1050.7 159.7,1050.3 162.8,1049.8 165.8,1049.4 168.9,1049.0 172.0,1048.5 175.0,1048.1 178.1,1047.7 181.1,1047.2 184.2,1046.8 187.3,1046.4 190.3,1046.0 193.4,1045.5 196.5,1045.1 199.5,1044.7 202.6,1044.3 205.6,1043.9 208.7,1043.4 211.8,1043.0 214.8,1042.6 217.9,1042.2 220.9,1041.8 224.0,1041.4 227.1,1041.0 230.1,1040.6 233.2,1040.2 236.3,1039.8 239.3,1039.4 242.4,1039.0 245.4,1038.6 248.5,1038.2 251.6,1037.9 254.6,1037.5 257.7,1037.1 260.8,1036.7 263.8,1036.3 266.9,1036.0 269.9,1035.6 273.0,1035.2 276.1,1034.8 279.1,1034.5 282.2,1034.1 285.2,1033.7 288.3,1033.4 291.4,1033.0 294.4,1032.7 297.5,1032.3 300.6,1031.9 303.6,1031.6 306.7,1031.2 309.7,1030.9 312.8,1030.5 315.9,1030.2 318.9,1029.9 322.0,1029.5 325.1,1029.2 328.1,1028.8 331.2,1028.5 334.2,1028.2 337.3,1027.8 340.4,1027.5 343.4,1027.2 346.5,1026.9 349.6,1026.5 352.6,1026.2 355.7,1025.9 358.7,1025.6 361.8,1025.3 364.9,1025.0 367.9,1024.6 371.0,1024.3 374.0,1024.0 377.1,1023.7 380.2,1023.4 383.2,1023.1 386.3,1022.8 389.4,1022.5 392.4,1022.2 395.5,1021.9 398.5,1021.7 401.6,1021.4 404.7,1021.1 407.7,1020.8 410.8,1020.5 413.9,1020.2 416.9,1020.0 420.0,1019.7 423.0,1019.4 426.1,1019.1 429.2,1018.9 432.2,1018.6 435.3,1018.3 438.4,1018.1 441.4,1017.8 444.5,1017.6 447.5,1017.3 450.6,1017.1 453.7,1016.8 456.7,1016.6 459.8,1016.3 462.8,1016.1 465.9,1015.8 469.0,1015.6 472.0,1015.3 475.1,1015.1 478.2,1014.9 481.2,1014.6 484.3,1014.4 487.3,1014.2 490.4,1014.0 493.5,1013.7 496.5,1013.5 499.6,1013.3 502.7,1013.1 505.7,1012.9 508.8,1012.6 511.8,1012.4 514.9,1012.2 518.0,1012.0 521.0,1011.8 524.1,1011.6 527.1,1011.4 530.2,1011.2 533.3,1011.0 536.3,1010.8 539.4,1010.6 542.5,1010.5 545.5,1010.3 548.6,1010.1 551.6,1009.9 554.7,1009.7 557.8,1009.5 560.8,1009.4 563.9,1009.2 567.0,1009.0 570.0,1008.9 573.1,1008.7 576.1,1008.5 579.2,1008.4 582.3,1008.2 585.3,1008.1 588.4,1007.9 591.5,1007.7 594.5,1007.6 597.6,1007.4 600.6,1007.3 603.7,1007.2 606.8,1007.0 609.8,1006.9 612.9,1006.7 615.9,1006.6 619.0,1006.5 622.1,1006.3 625.1,1006.2 628.2,1006.1 631.3,1006.0 634.3,1005.9 637.4,1005.7 640.4,1005.6 643.5,1005.5 646.6,1005.4 649.6,1005.3 652.7,1005.2 655.8,1005.1 658.8,1005.0 661.9,1004.9 664.9,1004.8 668.0,1004.7" fill="none" stroke="#8ccde0" stroke-width="1.5" stroke-linejoin="round" stroke-dasharray="4.8 3.9" opacity="1.0"/><polyline points="58.7,1064.8 60.2,1064.5 61.7,1064.3 63.3,1064.0 64.8,1063.8 66.3,1063.5 67.8,1063.3 69.4,1063.0 70.9,1062.8 72.4,1062.5 74.0,1062.3 75.5,1062.0 77.0,1061.8 78.6,1061.5 80.1,1061.3 81.6,1061.1 83.2,1060.8 84.7,1060.6 86.2,1060.3 87.8,1060.1 89.3,1059.8 90.8,1059.6 92.3,1059.4 93.9,1059.1 95.4,1058.9 96.9,1058.6 98.5,1058.4 100.0,1058.2 101.5,1057.9 103.1,1057.7 104.6,1057.4 106.1,1057.2 107.7,1057.0 109.2,1056.7 110.7,1056.5 112.2,1056.3 113.8,1056.0 115.3,1055.8 116.8,1055.6 118.4,1055.3 119.9,1055.1 121.4,1054.9 123.0,1054.6 124.5,1054.4 126.0,1054.2 127.6,1053.9 129.1,1053.7 130.6,1053.5 132.2,1053.2 133.7,1053.0 135.2,1052.8 136.7,1052.6 138.3,1052.3 139.8,1052.1 141.3,1051.9 142.9,1051.6 144.4,1051.4 145.9,1051.2 147.5,1051.0 149.0,1050.7 150.5,1050.5 152.1,1050.3 153.6,1050.1 155.1,1049.8 156.6,1049.6 158.2,1049.4 159.7,1049.2 161.2,1049.0 162.8,1048.7 164.3,1048.5 165.8,1048.3 167.4,1048.1 168.9,1047.9 170.4,1047.6 172.0,1047.4 173.5,1047.2 175.0,1047.0 176.5,1046.8 178.1,1046.6 179.6,1046.3 181.1,1046.1 182.7,1045.9 184.2,1045.7 185.7,1045.5 187.3,1045.3 188.8,1045.1 190.3,1044.9 191.9,1044.6 193.4,1044.4 194.9,1044.2 196.5,1044.0 198.0,1043.8 199.5,1043.6 201.0,1043.4 202.6,1043.2 204.1,1043.0 205.6,1042.8 207.2,1042.6 208.7,1042.3 210.2,1042.1 211.8,1041.9 213.3,1041.7 214.8,1041.5 216.4,1041.3 217.9,1041.1 219.4,1040.9 220.9,1040.7 222.5,1040.5 224.0,1040.3 225.5,1040.1 227.1,1039.9 228.6,1039.7 230.1,1039.5 231.7,1039.3 233.2,1039.1 234.7,1038.9 236.3,1038.7 237.8,1038.5 239.3,1038.3 240.9,1038.1 242.4,1037.9 243.9,1037.7 245.4,1037.5 247.0,1037.3 248.5,1037.1 250.0,1037.0 251.6,1036.8 253.1,1036.6 254.6,1036.4 256.2,1036.2 257.7,1036.0 259.2,1035.8 260.8,1035.6 262.3,1035.4 263.8,1035.2 265.3,1035.0 266.9,1034.9 268.4,1034.7 269.9,1034.5 271.5,1034.3 273.0,1034.1 274.5,1033.9 276.1,1033.7 277.6,1033.6 279.1,1033.4 280.7,1033.2 282.2,1033.0 283.7,1032.8 285.2,1032.6 286.8,1032.5 288.3,1032.3 289.8,1032.1 291.4,1031.9 292.9,1031.7 294.4,1031.6 296.0,1031.4 297.5,1031.2 299.0,1031.0 300.6,1030.8 302.1,1030.7 303.6,1030.5 305.2,1030.3 306.7,1030.1 308.2,1030.0 309.7,1029.8 311.3,1029.6 312.8,1029.4 314.3,1029.3 315.9,1029.1 317.4,1028.9 318.9,1028.8 320.5,1028.6 322.0,1028.4 323.5,1028.2 325.1,1028.1 326.6,1027.9 328.1,1027.7 329.6,1027.6 331.2,1027.4 332.7,1027.2 334.2,1027.1 335.8,1026.9 337.3,1026.7 338.8,1026.6 340.4,1026.4 341.9,1026.3 343.4,1026.1 345.0,1025.9 346.5,1025.8 348.0,1025.6 349.6,1025.4 351.1,1025.3 352.6,1025.1 354.1,1025.0 355.7,1024.8 357.2,1024.6 358.7,1024.5 360.3,1024.3 361.8,1024.2 363.3,1024.0 364.9,1023.9 366.4,1023.7 367.9,1023.5 369.5,1023.4 371.0,1023.2 372.5,1023.1 374.0,1022.9 375.6,1022.8 377.1,1022.6 378.6,1022.5 380.2,1022.3 381.7,1022.2 383.2,1022.0 384.8,1021.9 386.3,1021.7 387.8,1021.6 389.4,1021.4 390.9,1021.3 392.4,1021.1 394.0,1021.0 395.5,1020.8 397.0,1020.7 398.5,1020.6 400.1,1020.4 401.6,1020.3 403.1,1020.1 404.7,1020.0 406.2,1019.8 407.7,1019.7 409.3,1019.6 410.8,1019.4 412.3,1019.3 413.9,1019.1 415.4,1019.0 416.9,1018.9 418.4,1018.7 420.0,1018.6 421.5,1018.5 423.0,1018.3 424.6,1018.2 426.1,1018.0 427.6,1017.9 429.2,1017.8 430.7,1017.6 432.2,1017.5 433.8,1017.4 435.3,1017.2 436.8,1017.1 438.4,1017.0 439.9,1016.9 441.4,1016.7 442.9,1016.6 444.5,1016.5 446.0,1016.3 447.5,1016.2 449.1,1016.1 450.6,1016.0 452.1,1015.8 453.7,1015.7 455.2,1015.6 456.7,1015.5 458.3,1015.3 459.8,1015.2 461.3,1015.1 462.8,1015.0 464.4,1014.8 465.9,1014.7 467.4,1014.6 469.0,1014.5 470.5,1014.4 472.0,1014.2 473.6,1014.1 475.1,1014.0 476.6,1013.9 478.2,1013.8 479.7,1013.7 481.2,1013.5 482.7,1013.4 484.3,1013.3 485.8,1013.2 487.3,1013.1 488.9,1013.0 490.4,1012.9 491.9,1012.7 493.5,1012.6 495.0,1012.5 496.5,1012.4 498.1,1012.3 499.6,1012.2 501.1,1012.1 502.7,1012.0 504.2,1011.9 505.7,1011.8 507.2,1011.6 508.8,1011.5 510.3,1011.4 511.8,1011.3 513.4,1011.2 514.9,1011.1 516.4,1011.0 518.0,1010.9 519.5,1010.8 521.0,1010.7 522.6,1010.6 524.1,1010.5 525.6,1010.4 527.1,1010.3 528.7,1010.2 530.2,1010.1 531.7,1010.0 533.3,1009.9 534.8,1009.8 536.3,1009.7 537.9,1009.6 539.4,1009.5 540.9,1009.4 542.5,1009.4 544.0,1009.3 545.5,1009.2 547.1,1009.1 548.6,1009.0 550.1,1008.9 551.6,1008.8 553.2,1008.7 554.7,1008.6 556.2,1008.5 557.8,1008.4 559.3,1008.4 560.8,1008.3 562.4,1008.2 563.9,1008.1 565.4,1008.0 567.0,1007.9 568.5,1007.8 570.0,1007.8 571.5,1007.7 573.1,1007.6 574.6,1007.5 576.1,1007.4 577.7,1007.3 579.2,1007.3 580.7,1007.2 582.3,1007.1 583.8,1007.0 585.3,1007.0 586.9,1006.9 588.4,1006.8 589.9,1006.7 591.5,1006.6 593.0,1006.6 594.5,1006.5 596.0,1006.4 597.6,1006.3 599.1,1006.3 600.6,1006.2 602.2,1006.1 603.7,1006.1 605.2,1006.0 606.8,1005.9 608.3,1005.8 609.8,1005.8 611.4,1005.7 612.9,1005.6 614.4,1005.6 615.9,1005.5 617.5,1005.4 619.0,1005.4 620.5,1005.3 622.1,1005.2 623.6,1005.2 625.1,1005.1 626.7,1005.1 628.2,1005.0 629.7,1004.9 631.3,1004.9 632.8,1004.8 634.3,1004.8 635.8,1004.7 637.4,1004.6 638.9,1004.6 640.4,1004.5 642.0,1004.5 643.5,1004.4 645.0,1004.4 646.6,1004.3 648.1,1004.2 649.6,1004.2 651.2,1004.1 652.7,1004.1 654.2,1004.0 655.8,1004.0 657.3,1003.9 658.8,1003.9 660.3,1003.8 661.9,1003.8 663.4,1003.7 664.9,1003.7 666.5,1003.6 668.0,1003.6" fill="none" stroke="#ee7b62" stroke-width="1.6" stroke-linejoin="round" opacity="1.0"/><polyline points="58.7,1065.4 61.7,1064.9 64.8,1064.4 67.8,1063.9 70.9,1063.4 74.0,1062.9 77.0,1062.4 80.1,1061.9 83.2,1061.4 86.2,1060.9 89.3,1060.4 92.3,1060.0 95.4,1059.5 98.5,1059.0 101.5,1058.5 104.6,1058.0 107.7,1057.6 110.7,1057.1 113.8,1056.6 116.8,1056.2 119.9,1055.7 123.0,1055.2 126.0,1054.8 129.1,1054.3 132.2,1053.8 135.2,1053.4 138.3,1052.9 141.3,1052.5 144.4,1052.0 147.5,1051.6 150.5,1051.1 153.6,1050.7 156.6,1050.2 159.7,1049.8 162.8,1049.3 165.8,1048.9 168.9,1048.5 172.0,1048.0 175.0,1047.6 178.1,1047.2 181.1,1046.7 184.2,1046.3 187.3,1045.9 190.3,1045.5 193.4,1045.0 196.5,1044.6 199.5,1044.2 202.6,1043.8 205.6,1043.4 208.7,1042.9 211.8,1042.5 214.8,1042.1 217.9,1041.7 220.9,1041.3 224.0,1040.9 227.1,1040.5 230.1,1040.1 233.2,1039.7 236.3,1039.3 239.3,1038.9 242.4,1038.5 245.4,1038.1 248.5,1037.7 251.6,1037.4 254.6,1037.0 257.7,1036.6 260.8,1036.2 263.8,1035.8 266.9,1035.5 269.9,1035.1 273.0,1034.7 276.1,1034.3 279.1,1034.0 282.2,1033.6 285.2,1033.2 288.3,1032.9 291.4,1032.5 294.4,1032.2 297.5,1031.8 300.6,1031.4 303.6,1031.1 306.7,1030.7 309.7,1030.4 312.8,1030.0 315.9,1029.7 318.9,1029.4 322.0,1029.0 325.1,1028.7 328.1,1028.3 331.2,1028.0 334.2,1027.7 337.3,1027.3 340.4,1027.0 343.4,1026.7 346.5,1026.4 349.6,1026.0 352.6,1025.7 355.7,1025.4 358.7,1025.1 361.8,1024.8 364.9,1024.5 367.9,1024.1 371.0,1023.8 374.0,1023.5 377.1,1023.2 380.2,1022.9 383.2,1022.6 386.3,1022.3 389.4,1022.0 392.4,1021.7 395.5,1021.4 398.5,1021.2 401.6,1020.9 404.7,1020.6 407.7,1020.3 410.8,1020.0 413.9,1019.7 416.9,1019.5 420.0,1019.2 423.0,1018.9 426.1,1018.6 429.2,1018.4 432.2,1018.1 435.3,1017.8 438.4,1017.6 441.4,1017.3 444.5,1017.1 447.5,1016.8 450.6,1016.6 453.7,1016.3 456.7,1016.1 459.8,1015.8 462.8,1015.6 465.9,1015.3 469.0,1015.1 472.0,1014.8 475.1,1014.6 478.2,1014.4 481.2,1014.1 484.3,1013.9 487.3,1013.7 490.4,1013.5 493.5,1013.2 496.5,1013.0 499.6,1012.8 502.7,1012.6 505.7,1012.4 508.8,1012.1 511.8,1011.9 514.9,1011.7 518.0,1011.5 521.0,1011.3 524.1,1011.1 527.1,1010.9 530.2,1010.7 533.3,1010.5 536.3,1010.3 539.4,1010.1 542.5,1010.0 545.5,1009.8 548.6,1009.6 551.6,1009.4 554.7,1009.2 557.8,1009.0 560.8,1008.9 563.9,1008.7 567.0,1008.5 570.0,1008.4 573.1,1008.2 576.1,1008.0 579.2,1007.9 582.3,1007.7 585.3,1007.6 588.4,1007.4 591.5,1007.2 594.5,1007.1 597.6,1006.9 600.6,1006.8 603.7,1006.7 606.8,1006.5 609.8,1006.4 612.9,1006.2 615.9,1006.1 619.0,1006.0 622.1,1005.8 625.1,1005.7 628.2,1005.6 631.3,1005.5 634.3,1005.4 637.4,1005.2 640.4,1005.1 643.5,1005.0 646.6,1004.9 649.6,1004.8 652.7,1004.7 655.8,1004.6 658.8,1004.5 661.9,1004.4 664.9,1004.3 668.0,1004.2" fill="none" stroke="#739ecf" stroke-width="1.6" stroke-dasharray="5 3.7"/><polyline points="59.4,1203.8 60.6,1203.8 62.2,1203.8 64.2,1203.7 66.2,1203.7 68.1,1203.8 69.9,1203.9 71.6,1204.0 73.4,1204.2 75.1,1204.4 76.9,1204.6 78.7,1204.9 80.4,1205.2 82.2,1205.6 83.9,1205.8 85.7,1205.9 87.4,1205.6 89.2,1205.1 90.9,1204.6 92.7,1204.1 94.4,1203.8 96.2,1203.9 97.9,1204.2 99.7,1204.6 101.4,1204.9 103.2,1205.2 104.9,1205.4 106.7,1205.5 108.4,1205.6 110.2,1205.6 111.9,1205.5 113.7,1205.3 115.4,1204.9 117.2,1204.5 118.9,1204.2 120.7,1204.1 122.2,1204.3 123.7,1204.6 125.2,1205.1 126.6,1205.6 128.1,1206.1 129.5,1206.4 131.1,1206.7 132.7,1206.9 134.3,1207.1 135.8,1207.2 137.3,1207.3 139.1,1207.3 140.7,1207.1 142.4,1207.0 144.3,1206.9 146.0,1206.9 147.8,1207.0 149.6,1207.1 151.4,1207.2 153.1,1207.3 154.9,1207.5 156.6,1207.7 158.3,1207.9 160.1,1208.1 161.8,1208.3 163.5,1208.4 165.3,1208.5 167.2,1208.7 168.9,1209.0 170.6,1209.3 172.2,1209.7 173.9,1210.2 175.5,1210.6 177.0,1211.1 178.4,1211.6 179.7,1212.1 181.0,1212.7 182.4,1213.3 184.0,1213.8 185.3,1214.2 186.7,1214.5 188.3,1214.8 189.8,1215.2 191.4,1215.5 193.0,1215.9 194.5,1216.4 196.0,1216.9 197.5,1217.6 199.0,1218.3 200.5,1218.9 202.0,1219.6 203.5,1220.3 205.0,1220.8 206.5,1221.3 208.0,1221.7 209.5,1222.1 211.0,1222.4 212.5,1222.8 214.0,1223.1 215.5,1223.4 217.0,1223.7 218.5,1223.9 220.0,1224.2 221.6,1224.4 223.1,1224.6 224.6,1224.9 226.1,1225.1 227.6,1225.4 229.1,1225.6 230.6,1225.9 232.1,1226.1 233.6,1226.4 235.1,1226.6 236.6,1226.9 238.1,1227.2 239.6,1227.4 241.1,1227.7 242.6,1227.9 244.1,1228.2 245.6,1228.4 247.1,1228.7 248.6,1228.9 250.1,1229.2 251.6,1229.4 253.1,1229.7 254.6,1229.9 256.1,1230.2 257.6,1230.4 259.1,1230.7 260.6,1230.9 262.1,1231.2 263.6,1231.5 265.1,1231.8 266.6,1232.0 268.1,1232.2 269.6,1232.4 271.1,1232.5 272.6,1232.6 274.0,1232.6 275.5,1232.7 277.1,1232.8 278.6,1233.0 280.2,1233.2 282.0,1233.5 283.8,1233.7 285.6,1234.0 287.3,1234.3 288.8,1234.6 290.0,1234.8 291.0,1235.2 293.8,1235.9 294.8,1236.0 296.0,1236.2 297.3,1236.4 298.8,1236.6 300.4,1236.8 302.1,1237.1 303.9,1237.3 305.7,1237.5 307.5,1237.8 309.4,1238.1 311.2,1238.4 312.9,1238.7 314.6,1239.0 316.2,1239.3 317.6,1239.6 318.9,1239.9 320.1,1240.3 322.2,1241.1 323.9,1242.1 325.1,1243.2 326.0,1244.3 326.8,1245.4 327.7,1246.5 328.8,1247.6 330.1,1248.6 331.2,1249.6 332.4,1250.6 333.6,1251.6 334.9,1252.7 336.2,1253.7 337.6,1254.9 338.8,1255.8 340.0,1256.8 341.3,1257.9 342.6,1259.0 343.9,1260.0 345.3,1261.1 346.6,1262.0 348.0,1262.9 349.3,1263.6 350.7,1264.3 352.2,1264.8 353.6,1265.3 355.1,1265.6 356.6,1265.9 358.0,1266.1 359.5,1266.3 360.9,1266.5 362.6,1266.6 364.3,1266.5 366.0,1266.4 367.6,1266.2 369.3,1266.1 371.0,1266.2 372.6,1266.5 373.9,1267.1 375.2,1267.9 376.5,1268.9 377.8,1269.9 379.1,1271.0 380.4,1272.0 381.7,1272.9 383.0,1273.5 384.3,1273.8 385.7,1273.9 387.1,1273.6 388.4,1273.1 389.8,1272.5 391.2,1271.7 392.7,1270.9 394.2,1270.1 396.0,1269.5 397.2,1269.0 398.6,1268.4 400.0,1267.8 401.4,1267.1 402.9,1266.4 404.4,1265.7 405.9,1265.1 407.4,1264.5 409.0,1264.1 410.5,1263.8 412.0,1263.6 413.5,1263.6 414.8,1263.8 416.2,1264.2 417.5,1264.8 418.8,1265.5 420.2,1266.2 421.5,1267.1 422.8,1267.9 424.2,1268.8 425.5,1269.7 426.9,1270.5 428.2,1271.2 429.6,1271.9 431.0,1272.4 432.6,1272.8 434.2,1273.1 435.9,1273.4 437.6,1273.6 439.4,1273.7 441.1,1273.9 442.8,1274.0 444.4,1274.0 446.0,1274.1 447.4,1274.2 448.8,1274.3 450.0,1274.4 452.2,1274.6 453.6,1274.6 454.7,1274.6 456.2,1274.9 458.4,1275.6 459.5,1276.0 460.7,1276.4 462.0,1276.9 463.4,1277.5 464.9,1278.1 466.4,1278.7 468.0,1279.3 469.6,1280.0 471.2,1280.7 472.7,1281.4 474.3,1282.1 475.8,1282.7 477.2,1283.4 478.6,1284.0 480.1,1284.7 481.6,1285.5 483.0,1286.3 484.4,1287.2 485.8,1288.0 487.2,1288.8 488.5,1289.6 489.9,1290.3 491.3,1291.0 492.6,1291.6 494.0,1292.0 495.4,1292.4 496.9,1292.6 498.4,1292.8 499.9,1292.8 501.5,1292.7 503.0,1292.6 504.5,1292.4 506.1,1292.1 507.6,1291.8 509.1,1291.4 510.6,1291.1 512.2,1290.7 513.6,1290.3 515.0,1289.7 516.4,1289.1 517.8,1288.3 519.2,1287.6 520.6,1286.8 522.0,1286.1 523.4,1285.4 524.8,1284.8 526.2,1284.4 527.5,1284.1 528.9,1284.0 530.4,1284.1 531.8,1284.3 533.3,1284.6 534.8,1285.0 536.3,1285.5 537.8,1286.1 539.2,1286.7 540.6,1287.5 542.0,1288.2 543.3,1289.0 544.6,1289.9 545.7,1290.7 546.9,1291.7 547.9,1292.8 548.8,1294.1 549.6,1295.4 550.4,1296.7 551.2,1298.1 551.9,1299.5 552.8,1300.8 553.7,1302.0 554.7,1303.1 555.8,1304.1 557.0,1304.9 558.2,1305.7 559.5,1306.4 560.8,1307.1 562.2,1307.7 563.6,1308.2 565.0,1308.7 566.5,1309.2 568.0,1309.7 569.5,1310.1 571.1,1310.5 572.6,1310.8 574.0,1311.1 575.5,1311.3 577.0,1311.5 578.6,1311.6 580.1,1311.6 581.7,1311.7 583.3,1311.7 584.8,1311.7 586.4,1311.8 588.0,1311.9 589.6,1312.0 591.2,1312.2 592.8,1312.5 594.2,1312.9 595.6,1313.3 597.1,1313.7 598.5,1314.2 599.9,1314.7 601.4,1315.2 602.8,1315.8 604.3,1316.3 605.7,1316.9 607.1,1317.4 608.6,1317.9 610.0,1318.4 611.5,1318.9 612.9,1319.2 614.4,1319.6 616.0,1320.0 617.5,1320.3 619.1,1320.6 620.6,1320.9 622.2,1321.1 623.7,1321.4 625.3,1321.6 626.8,1321.8 628.4,1322.0 629.9,1322.2 631.5,1322.4 633.0,1322.6 634.6,1322.8 636.2,1322.9 637.8,1323.0 639.5,1323.1 641.1,1323.2 642.7,1323.3 644.3,1323.4 645.9,1323.5 647.5,1323.6 649.0,1323.7 650.5,1323.9 651.9,1324.0 653.2,1324.3 655.1,1324.7 656.9,1325.3 658.7,1325.9 660.4,1326.6 661.9,1327.2 663.4,1327.9 664.7,1328.5 665.8,1329.0 666.6,1329.3" fill="none" stroke="#82c5d8" stroke-width="1.5" stroke-linejoin="round" stroke-dasharray="4.8 3.9" opacity="1.0"/><polyline points="59.4,1231.5 60.2,1231.5 61.0,1231.6 62.0,1231.6 63.0,1231.7 64.1,1231.7 65.2,1231.8 66.4,1231.8 67.7,1231.9 69.0,1231.9 70.3,1232.0 71.8,1232.0 73.2,1232.1 74.7,1232.2 76.3,1232.2 77.8,1232.3 79.4,1232.4 81.1,1232.4 82.7,1232.5 84.4,1232.6 86.1,1232.7 87.8,1232.7 89.6,1232.8 91.3,1232.9 93.1,1233.0 94.8,1233.1 96.6,1233.2 98.3,1233.3 100.1,1233.4 101.8,1233.5 103.5,1233.6 105.2,1233.8 106.9,1233.9 108.6,1234.0 110.2,1234.1 111.8,1234.3 113.4,1234.4 114.8,1234.5 116.3,1234.7 117.7,1234.8 119.1,1234.9 120.5,1235.1 121.9,1235.2 123.3,1235.4 124.7,1235.5 126.1,1235.7 127.4,1235.8 128.8,1235.9 130.2,1236.1 131.6,1236.3 133.0,1236.4 134.4,1236.6 135.8,1236.7 137.2,1236.9 138.6,1237.1 140.1,1237.2 141.5,1237.4 142.9,1237.6 144.4,1237.8 145.8,1238.0 147.3,1238.2 148.8,1238.4 150.3,1238.6 151.8,1238.8 153.4,1239.0 154.9,1239.2 156.5,1239.4 158.1,1239.7 159.7,1239.9 161.4,1240.1 163.1,1240.4 164.8,1240.6 166.5,1240.9 168.2,1241.2 170.0,1241.4 171.8,1241.7 173.1,1241.9 174.4,1242.1 175.7,1242.3 177.1,1242.6 178.5,1242.8 179.9,1243.0 181.4,1243.3 182.9,1243.5 184.4,1243.8 185.9,1244.0 187.5,1244.3 189.0,1244.6 190.6,1244.8 192.2,1245.1 193.8,1245.4 195.5,1245.7 197.1,1246.0 198.8,1246.3 200.4,1246.5 202.1,1246.8 203.8,1247.1 205.4,1247.4 207.1,1247.7 208.8,1248.0 210.5,1248.3 212.2,1248.6 213.9,1248.9 215.5,1249.3 217.2,1249.6 218.9,1249.9 220.5,1250.2 222.2,1250.5 223.8,1250.7 225.4,1251.0 227.0,1251.3 228.6,1251.6 230.2,1251.9 231.8,1252.2 233.3,1252.5 234.8,1252.7 236.3,1253.0 237.8,1253.3 239.2,1253.5 240.6,1253.8 242.0,1254.0 243.4,1254.3 244.7,1254.5 246.0,1254.7 247.3,1255.0 248.5,1255.2 249.7,1255.4 250.8,1255.6 251.9,1255.8 253.0,1256.0 254.0,1256.1 255.0,1256.3 258.1,1256.8 260.7,1257.2 262.9,1257.6 264.7,1257.8 266.3,1258.0 267.5,1258.2 268.6,1258.3 269.6,1258.4 270.4,1258.5 271.3,1258.5 272.2,1258.6 273.2,1258.8 274.3,1258.9 275.6,1259.2 277.3,1259.5 279.2,1259.8 280.4,1260.1 281.7,1260.3 283.1,1260.6 284.5,1261.0 286.0,1261.3 287.5,1261.7 289.1,1262.1 290.7,1262.5 292.3,1262.9 294.0,1263.3 295.7,1263.8 297.4,1264.2 299.1,1264.7 300.8,1265.1 302.6,1265.5 304.3,1265.9 306.0,1266.4 307.6,1266.8 309.3,1267.1 310.9,1267.5 312.5,1267.9 314.0,1268.2 315.5,1268.5 316.9,1268.7 318.3,1268.9 319.6,1269.1 320.8,1269.3 321.9,1269.4 323.0,1269.5 325.7,1269.4 327.9,1269.0 329.8,1268.4 331.4,1267.5 332.7,1266.6 333.8,1265.6 334.8,1264.6 335.7,1263.6 336.6,1262.8 337.6,1262.2 339.6,1260.9 340.9,1259.9 342.0,1259.2 343.4,1259.2 344.5,1259.6 345.6,1260.1 346.7,1260.9 347.9,1261.8 349.2,1262.8 350.6,1263.9 352.2,1265.1 353.3,1265.8 354.4,1266.7 355.7,1267.6 356.9,1268.6 358.3,1269.6 359.6,1270.6 361.0,1271.6 362.4,1272.6 363.9,1273.6 365.3,1274.5 366.8,1275.3 368.1,1276.0 369.4,1276.7 370.8,1277.3 372.1,1277.9 373.4,1278.5 374.8,1279.1 376.2,1279.7 377.7,1280.3 379.2,1280.8 380.8,1281.4 382.5,1282.0 384.3,1282.6 385.6,1283.0 386.9,1283.4 388.3,1283.8 389.8,1284.2 391.3,1284.7 392.8,1285.1 394.4,1285.5 396.0,1285.9 397.6,1286.3 399.2,1286.7 400.8,1287.2 402.4,1287.6 403.9,1288.0 405.4,1288.4 406.8,1288.8 408.1,1289.1 409.4,1289.5 410.6,1289.9 412.5,1290.5 414.1,1291.2 415.5,1291.8 416.8,1292.4 418.0,1293.0 419.2,1293.6 420.4,1294.1 421.8,1294.7 423.4,1295.2 425.2,1295.7 426.5,1296.1 428.0,1296.4 429.5,1296.7 431.2,1297.1 433.0,1297.4 434.8,1297.7 436.6,1298.0 438.4,1298.3 440.2,1298.6 441.9,1298.9 443.6,1299.2 445.2,1299.4 446.6,1299.6 447.9,1299.8 449.1,1300.0 450.0,1300.1 451.7,1299.1 453.0,1299.0 454.6,1299.0 456.4,1299.0 458.4,1298.9 460.2,1298.4 461.8,1297.4 462.6,1296.5 463.2,1295.2 463.7,1293.8 464.2,1292.1 464.7,1290.4 465.3,1288.8 465.9,1287.2 466.6,1285.9 467.4,1284.7 468.5,1284.0 469.7,1283.6 471.0,1283.4 472.4,1283.3 474.0,1283.5 475.6,1283.7 477.3,1284.0 479.0,1284.4 480.7,1284.9 482.3,1285.4 483.9,1285.9 485.3,1286.3 486.7,1286.9 487.9,1287.7 489.0,1288.5 490.1,1289.4 491.2,1290.3 492.3,1291.3 493.6,1292.1 495.0,1292.9 496.7,1293.6 498.7,1294.1 499.9,1294.2 501.1,1294.4 502.4,1294.5 503.8,1294.6 505.3,1294.7 506.8,1294.7 508.3,1294.7 509.9,1294.7 511.6,1294.7 513.2,1294.7 514.9,1294.6 516.5,1294.6 518.2,1294.5 519.8,1294.5 521.5,1294.4 523.1,1294.3 524.6,1294.3 526.1,1294.2 527.6,1294.1 528.9,1294.1 530.7,1294.0 532.4,1293.8 534.0,1293.6 535.6,1293.4 537.2,1293.2 538.7,1293.0 540.2,1292.7 541.7,1292.5 543.1,1292.3 544.6,1292.1 546.1,1291.9 547.6,1291.8 549.2,1291.7 550.8,1291.7 552.5,1291.7 553.9,1291.8 555.3,1291.9 556.9,1292.0 558.4,1292.2 560.0,1292.4 561.5,1292.7 563.1,1292.9 564.7,1293.2 566.3,1293.5 567.9,1293.8 569.4,1294.0 571.0,1294.3 572.5,1294.6 574.0,1294.9 575.4,1295.1 576.8,1295.4 578.1,1295.6 579.3,1295.7 581.2,1296.0 583.0,1296.1 584.6,1296.3 586.2,1296.4 587.6,1296.5 589.0,1296.6 590.4,1296.7 591.8,1296.8 593.2,1296.9 594.6,1297.1 596.1,1297.4 597.6,1297.7 599.1,1298.1 600.6,1298.5 602.1,1298.9 603.6,1299.3 605.0,1299.7 606.5,1300.2 608.1,1300.7 609.6,1301.3 611.2,1301.9 612.9,1302.5 614.2,1302.9 615.5,1303.4 616.8,1304.0 618.0,1304.5 619.3,1305.1 620.6,1305.6 621.9,1306.2 623.3,1306.8 624.7,1307.5 626.2,1308.1 627.8,1308.8 629.4,1309.4 631.2,1310.1 633.0,1310.8 634.3,1311.3 635.6,1311.8 637.0,1312.3 638.5,1312.8 640.1,1313.4 641.7,1314.0 643.4,1314.6 645.1,1315.2 646.8,1315.8 648.5,1316.4 650.2,1317.0 651.9,1317.5 653.6,1318.1 655.3,1318.7 656.9,1319.3 658.4,1319.8 659.9,1320.3 661.3,1320.8 662.6,1321.2 663.8,1321.6 664.9,1322.0 665.8,1322.3 666.6,1322.6" fill="none" stroke="#8ccde0" stroke-width="1.5" stroke-linejoin="round" stroke-dasharray="4.8 3.9" opacity="1.0"/><polyline points="59.4,1291.4 60.2,1291.1 61.1,1290.8 62.1,1290.5 63.2,1290.2 64.4,1289.8 65.7,1289.5 67.1,1289.0 68.6,1288.6 70.1,1288.1 71.7,1287.7 73.4,1287.2 75.1,1286.7 76.8,1286.2 78.6,1285.6 80.5,1285.1 82.3,1284.6 84.2,1284.1 85.4,1283.7 86.7,1283.3 88.0,1282.9 89.4,1282.5 90.9,1282.1 92.4,1281.6 93.9,1281.2 95.4,1280.7 97.0,1280.2 98.6,1279.8 100.2,1279.3 101.8,1278.8 103.5,1278.3 105.1,1277.8 106.7,1277.4 108.3,1276.9 109.9,1276.5 111.4,1276.0 113.0,1275.6 114.5,1275.2 115.9,1274.9 117.4,1274.5 118.7,1274.2 120.1,1273.9 121.3,1273.6 122.5,1273.4 123.6,1273.2 125.9,1273.0 127.9,1272.9 129.6,1273.0 131.2,1273.2 132.6,1273.4 133.9,1273.8 135.2,1274.1 136.5,1274.5 137.8,1274.8 139.2,1275.1 140.8,1275.3 142.6,1275.3 144.0,1275.2 145.4,1275.1 146.9,1275.0 148.5,1274.9 150.1,1274.7 151.7,1274.5 153.3,1274.2 155.0,1274.0 156.7,1273.7 158.3,1273.5 159.9,1273.3 161.6,1273.1 163.1,1272.9 164.7,1272.7 166.1,1272.5 167.5,1272.4 168.9,1272.4 170.8,1272.3 172.6,1272.4 174.4,1272.4 176.0,1272.5 177.6,1272.7 179.1,1272.8 180.6,1273.0 182.1,1273.2 183.5,1273.4 184.9,1273.6 186.4,1273.8 187.9,1274.1 189.1,1274.3 190.0,1274.6 190.9,1274.8 192.0,1275.1 193.3,1275.5 195.1,1275.8 197.6,1276.3 201.0,1276.8 202.0,1276.9 203.1,1277.0 204.2,1277.2 205.4,1277.3 206.7,1277.5 208.1,1277.7 209.5,1277.8 210.9,1278.0 212.4,1278.2 214.0,1278.4 215.6,1278.6 217.2,1278.8 218.8,1279.0 220.5,1279.2 222.2,1279.4 223.9,1279.6 225.7,1279.8 227.4,1280.0 229.1,1280.2 230.9,1280.4 232.6,1280.6 234.3,1280.8 236.1,1281.0 237.7,1281.2 239.4,1281.4 241.1,1281.5 242.7,1281.7 244.2,1281.9 245.8,1282.1 247.3,1282.3 248.7,1282.4 250.1,1282.6 251.4,1282.8 252.7,1282.9 253.9,1283.0 255.0,1283.2 257.3,1283.4 259.3,1283.7 261.1,1283.9 262.7,1284.1 264.1,1284.3 265.4,1284.4 266.6,1284.6 267.7,1284.7 268.9,1284.8 270.0,1285.0 271.2,1285.1 272.5,1285.3 273.9,1285.5 275.4,1285.6 277.2,1285.9 279.2,1286.1 280.4,1286.2 281.7,1286.4 283.0,1286.6 284.4,1286.8 285.9,1287.0 287.4,1287.3 288.9,1287.5 290.5,1287.8 292.1,1288.0 293.8,1288.3 295.4,1288.5 297.1,1288.8 298.8,1289.1 300.5,1289.3 302.2,1289.6 303.9,1289.8 305.5,1290.1 307.2,1290.3 308.9,1290.5 310.5,1290.7 312.1,1290.8 313.6,1291.0 315.1,1291.1 316.6,1291.2 318.0,1291.3 319.3,1291.4 320.6,1291.4 321.8,1291.4 323.0,1291.4 325.2,1291.1 327.2,1290.7 329.0,1290.1 330.6,1289.5 332.1,1288.7 333.5,1287.8 334.9,1287.0 336.1,1286.1 337.3,1285.3 338.5,1284.5 339.7,1283.8 340.9,1283.2 342.1,1282.8 343.4,1282.6 345.0,1282.6 346.6,1282.8 348.1,1283.2 349.6,1283.7 351.1,1284.3 352.6,1285.0 354.0,1285.7 355.4,1286.4 356.8,1286.9 358.2,1287.4 359.6,1287.7 360.9,1287.8 362.5,1287.7 364.0,1287.3 365.4,1286.7 366.7,1286.0 368.1,1285.3 369.4,1284.5 370.8,1283.8 372.3,1283.2 373.9,1282.8 375.5,1282.6 376.9,1282.6 378.4,1282.8 380.0,1283.1 381.6,1283.4 383.2,1283.9 384.9,1284.3 386.6,1284.8 388.3,1285.3 389.9,1285.8 391.5,1286.2 393.1,1286.6 394.6,1286.8 396.0,1287.0 397.9,1287.0 399.6,1286.8 401.3,1286.5 402.9,1286.1 404.4,1285.7 405.9,1285.3 407.5,1285.0 409.0,1284.9 410.6,1284.9 412.0,1285.1 413.3,1285.4 414.6,1285.8 415.9,1286.2 417.2,1286.7 418.6,1287.3 420.1,1287.9 421.6,1288.5 423.3,1289.2 425.2,1289.9 426.4,1290.3 427.7,1290.8 429.2,1291.3 430.7,1291.8 432.2,1292.4 433.8,1293.0 435.5,1293.5 437.1,1294.1 438.8,1294.7 440.4,1295.3 442.0,1295.9 443.6,1296.4 445.1,1296.9 446.5,1297.4 447.8,1297.9 449.0,1298.3 450.0,1298.6 452.0,1299.4 452.4,1299.6 452.6,1299.6 454.1,1300.0 458.4,1301.1 459.3,1301.3 460.3,1301.6 461.3,1301.8 462.3,1302.1 463.4,1302.4 464.6,1302.7 465.8,1303.0 467.1,1303.3 468.4,1303.6 469.7,1303.9 471.1,1304.3 472.5,1304.6 473.9,1305.0 475.4,1305.4 476.9,1305.7 478.5,1306.1 480.0,1306.5 481.6,1306.9 483.2,1307.3 484.9,1307.7 486.5,1308.1 488.2,1308.5 489.9,1309.0 491.6,1309.4 493.3,1309.8 495.0,1310.2 496.7,1310.7 498.4,1311.1 500.2,1311.5 501.9,1312.0 503.6,1312.4 505.4,1312.8 507.1,1313.3 508.8,1313.7 510.5,1314.1 512.2,1314.5 513.5,1314.9 514.8,1315.2 516.2,1315.6 517.6,1315.9 518.9,1316.3 520.4,1316.6 521.8,1317.0 523.2,1317.4 524.7,1317.8 526.1,1318.1 527.6,1318.5 529.1,1318.9 530.5,1319.3 532.0,1319.7 533.5,1320.1 535.1,1320.5 536.6,1320.9 538.1,1321.3 539.6,1321.7 541.1,1322.1 542.7,1322.5 544.2,1322.9 545.7,1323.3 547.3,1323.7 548.8,1324.0 550.3,1324.4 551.9,1324.8 553.4,1325.2 554.9,1325.6 556.4,1326.0 557.9,1326.4 559.4,1326.8 560.9,1327.2 562.4,1327.5 563.9,1327.9 565.4,1328.3 566.8,1328.6 568.3,1329.0 569.7,1329.4 571.1,1329.7 572.5,1330.0 573.9,1330.4 575.3,1330.7 576.7,1331.0 578.0,1331.4 579.3,1331.7 581.0,1332.1 582.7,1332.4 584.3,1332.8 586.0,1333.2 587.6,1333.6 589.3,1333.9 590.9,1334.3 592.5,1334.6 594.2,1335.0 595.8,1335.3 597.4,1335.7 599.0,1336.0 600.5,1336.4 602.1,1336.7 603.7,1337.0 605.2,1337.3 606.8,1337.6 608.3,1337.9 609.8,1338.2 611.3,1338.5 612.8,1338.8 614.2,1339.1 615.7,1339.4 617.1,1339.7 618.5,1340.0 620.0,1340.3 621.3,1340.5 622.7,1340.8 624.1,1341.0 625.4,1341.3 626.7,1341.6 628.0,1341.8 629.3,1342.0 630.6,1342.3 631.8,1342.5 633.0,1342.8 635.0,1343.1 637.0,1343.5 638.9,1343.8 640.8,1344.1 642.7,1344.5 644.6,1344.8 646.4,1345.1 648.2,1345.4 649.9,1345.6 651.6,1345.9 653.2,1346.1 654.8,1346.4 656.3,1346.6 657.7,1346.8 659.1,1347.0 660.4,1347.2 661.7,1347.4 662.8,1347.6 663.9,1347.7 664.9,1347.9 665.8,1348.0 666.6,1348.1" fill="none" stroke="#f9b872" stroke-width="1.5" stroke-linejoin="round" stroke-dasharray="4.8 3.9" opacity="1.0"/><polyline points="59.4,1232.4 60.2,1232.4 61.0,1232.5 62.0,1232.6 63.0,1232.7 64.1,1232.8 65.2,1232.9 66.4,1232.9 67.7,1233.0 69.0,1233.1 70.3,1233.2 71.8,1233.4 73.2,1233.5 74.7,1233.6 76.3,1233.7 77.8,1233.8 79.4,1233.9 81.1,1234.1 82.7,1234.2 84.4,1234.4 86.1,1234.5 87.8,1234.6 89.6,1234.8 91.3,1234.9 93.1,1235.1 94.8,1235.3 96.6,1235.4 98.3,1235.6 100.1,1235.8 101.8,1236.0 103.5,1236.1 105.2,1236.3 106.9,1236.5 108.6,1236.7 110.2,1236.9 111.8,1237.1 113.4,1237.3 114.8,1237.5 116.3,1237.7 117.7,1237.9 119.1,1238.1 120.5,1238.4 121.9,1238.6 123.3,1238.8 124.7,1239.0 126.1,1239.2 127.4,1239.5 128.8,1239.7 130.2,1239.9 131.6,1240.2 133.0,1240.4 134.4,1240.7 135.8,1240.9 137.2,1241.2 138.6,1241.4 140.1,1241.7 141.5,1241.9 142.9,1242.2 144.4,1242.5 145.8,1242.7 147.3,1243.0 148.8,1243.3 150.3,1243.6 151.8,1243.9 153.4,1244.2 154.9,1244.5 156.5,1244.7 158.1,1245.0 159.7,1245.4 161.4,1245.7 163.1,1246.0 164.8,1246.3 166.5,1246.6 168.2,1246.9 170.0,1247.2 171.8,1247.6 173.1,1247.8 174.4,1248.0 175.7,1248.3 177.1,1248.5 178.5,1248.8 179.9,1249.0 181.4,1249.3 182.9,1249.6 184.4,1249.8 185.9,1250.1 187.5,1250.4 189.0,1250.7 190.6,1250.9 192.2,1251.2 193.8,1251.5 195.5,1251.8 197.1,1252.1 198.8,1252.4 200.4,1252.7 202.1,1253.0 203.8,1253.3 205.4,1253.6 207.1,1253.9 208.8,1254.2 210.5,1254.5 212.2,1254.8 213.9,1255.2 215.5,1255.5 217.2,1255.8 218.9,1256.1 220.5,1256.4 222.2,1256.7 223.8,1257.0 225.4,1257.3 227.0,1257.6 228.6,1257.8 230.2,1258.1 231.8,1258.4 233.3,1258.7 234.8,1259.0 236.3,1259.3 237.8,1259.5 239.2,1259.8 240.6,1260.1 242.0,1260.3 243.4,1260.6 244.7,1260.8 246.0,1261.0 247.3,1261.3 248.5,1261.5 249.7,1261.7 250.8,1261.9 251.9,1262.2 253.0,1262.4 254.0,1262.6 255.0,1262.7 258.1,1263.3 260.7,1263.8 262.9,1264.3 264.7,1264.7 266.2,1265.0 267.4,1265.3 268.5,1265.5 269.4,1265.7 270.2,1265.9 271.1,1266.2 272.0,1266.4 272.9,1266.6 274.1,1266.9 275.5,1267.2 277.2,1267.6 279.2,1268.0 280.4,1268.2 281.6,1268.5 283.0,1268.8 284.4,1269.1 285.8,1269.4 287.4,1269.7 288.9,1270.1 290.5,1270.4 292.2,1270.7 293.8,1271.1 295.5,1271.5 297.3,1271.8 299.0,1272.2 300.7,1272.6 302.5,1272.9 304.2,1273.3 305.9,1273.7 307.6,1274.0 309.3,1274.4 311.0,1274.7 312.6,1275.0 314.2,1275.3 315.8,1275.6 317.3,1275.9 318.7,1276.2 320.1,1276.4 321.4,1276.7 322.7,1276.9 323.8,1277.0 324.9,1277.2 325.9,1277.3 329.3,1277.6 331.3,1277.4 332.4,1276.8 333.2,1276.2 334.0,1275.6 335.3,1275.3 337.6,1275.3 338.7,1275.4 339.9,1275.6 341.1,1275.8 342.3,1276.0 343.7,1276.3 345.0,1276.6 346.4,1276.9 347.9,1277.2 349.4,1277.5 351.0,1277.9 352.6,1278.3 354.2,1278.6 355.9,1279.0 357.6,1279.4 359.4,1279.8 361.2,1280.1 363.0,1280.5 364.9,1280.8 366.8,1281.1 368.1,1281.3 369.4,1281.5 370.7,1281.7 372.1,1281.9 373.5,1282.1 375.0,1282.3 376.4,1282.4 377.9,1282.6 379.4,1282.8 381.0,1283.0 382.5,1283.2 384.1,1283.3 385.7,1283.5 387.3,1283.7 388.8,1283.9 390.4,1284.1 392.0,1284.2 393.6,1284.4 395.2,1284.6 396.8,1284.8 398.4,1285.0 400.0,1285.3 401.6,1285.5 403.1,1285.7 404.6,1285.9 406.2,1286.2 407.7,1286.4 409.1,1286.7 410.6,1287.0 412.1,1287.3 413.7,1287.6 415.4,1288.0 417.0,1288.3 418.7,1288.7 420.4,1289.1 422.1,1289.6 423.7,1290.0 425.4,1290.4 427.1,1290.9 428.8,1291.3 430.5,1291.8 432.1,1292.2 433.7,1292.7 435.3,1293.1 436.9,1293.5 438.4,1293.9 439.8,1294.4 441.2,1294.8 442.6,1295.1 443.9,1295.5 445.1,1295.9 446.2,1296.2 447.3,1296.5 448.3,1296.7 449.2,1297.0 450.0,1297.2 451.7,1297.4 452.7,1297.8 454.0,1298.4 455.6,1299.1 457.3,1299.9 459.0,1300.6 460.7,1301.3 462.4,1301.9 463.9,1302.3 465.1,1302.5 466.7,1301.9 467.5,1300.5 468.3,1298.9 469.6,1297.7 471.9,1297.4 472.9,1297.6 474.0,1297.8 475.3,1298.2 476.7,1298.7 478.2,1299.2 479.7,1299.7 481.3,1300.3 483.0,1301.0 484.6,1301.6 486.3,1302.3 488.0,1303.0 489.6,1303.6 491.1,1304.3 492.6,1304.8 494.1,1305.4 495.4,1305.8 497.1,1306.4 498.6,1307.0 500.0,1307.5 501.3,1308.0 502.5,1308.4 503.8,1308.9 505.1,1309.3 506.6,1309.7 508.2,1310.1 510.0,1310.5 512.2,1310.8 513.3,1311.0 514.6,1311.2 515.9,1311.4 517.2,1311.6 518.7,1311.8 520.1,1311.9 521.6,1312.1 523.1,1312.3 524.7,1312.4 526.3,1312.6 527.9,1312.7 529.5,1312.9 531.2,1313.0 532.8,1313.2 534.5,1313.3 536.1,1313.5 537.8,1313.6 539.4,1313.7 541.0,1313.8 542.6,1314.0 544.2,1314.1 545.7,1314.2 547.3,1314.3 548.9,1314.4 550.5,1314.5 552.2,1314.7 553.8,1314.8 555.5,1314.9 557.2,1315.0 558.9,1315.1 560.6,1315.2 562.3,1315.3 564.0,1315.4 565.6,1315.4 567.3,1315.5 568.8,1315.6 570.4,1315.7 571.9,1315.7 573.3,1315.8 574.6,1315.8 575.9,1315.8 577.1,1315.9 578.3,1315.9 579.3,1315.9 582.3,1315.7 584.2,1315.3 585.4,1314.7 586.4,1314.3 587.6,1314.0 589.4,1314.2 590.5,1314.5 591.7,1314.9 593.0,1315.4 594.2,1315.9 595.6,1316.6 596.9,1317.3 598.4,1317.9 599.8,1318.6 601.4,1319.3 602.9,1319.9 604.5,1320.5 606.2,1320.9 607.6,1321.2 609.0,1321.5 610.6,1321.8 612.1,1322.1 613.8,1322.3 615.4,1322.5 617.1,1322.7 618.8,1322.9 620.4,1323.1 622.1,1323.3 623.7,1323.5 625.3,1323.7 626.8,1323.9 628.3,1324.1 629.7,1324.3 631.5,1324.6 633.1,1324.9 634.7,1325.2 636.1,1325.4 637.6,1325.7 639.0,1326.0 640.4,1326.3 641.8,1326.6 643.3,1326.9 644.9,1327.3 646.5,1327.6 648.0,1328.0 649.6,1328.4 651.3,1328.8 653.1,1329.2 654.9,1329.7 656.7,1330.1 658.5,1330.6 660.2,1331.0 661.8,1331.4 663.3,1331.8 664.6,1332.2 665.7,1332.4 666.6,1332.7" fill="none" stroke="#f8b46e" stroke-width="1.5" stroke-linejoin="round" stroke-dasharray="4.8 3.9" opacity="1.0"/><polyline points="59.4,1213.4 62.0,1206.4 70.8,1213.4 75.1,1205.5 83.0,1214.3 87.4,1205.5 95.3,1214.3 99.7,1207.3 106.7,1216.9 111.1,1207.3 119.8,1219.5 124.2,1210.8 132.1,1222.2 135.6,1209.0 144.3,1223.9 147.9,1211.6 156.6,1226.5 160.1,1212.5 168.9,1228.3 172.6,1212.9 180.5,1230.4 184.0,1214.6 192.8,1232.2 196.3,1219.9 205.9,1234.8 208.5,1222.5 218.2,1236.5 220.8,1223.4 230.4,1238.3 233.1,1226.0 242.7,1240.9 245.3,1227.8 255.0,1242.7 258.5,1228.7 266.4,1244.4 269.9,1231.3 278.6,1246.2 282.1,1233.0 290.3,1248.7 294.6,1234.6 302.5,1251.3 306.9,1236.4 313.9,1253.0 319.2,1239.0 326.2,1253.9 331.4,1243.4 338.4,1253.0 342.8,1249.5 351.6,1256.5 355.1,1253.0 362.1,1255.7 367.3,1253.9 376.1,1260.0 380.5,1255.7 388.4,1261.8 391.9,1257.4 400.6,1265.3 404.1,1258.3 412.3,1266.5 417.4,1260.3 424.5,1269.5 429.6,1265.4 435.8,1270.5 442.6,1269.5 449.0,1273.6 456.2,1271.6 463.4,1276.7 469.5,1273.6 475.6,1277.7 482.8,1275.7 489.9,1281.8 496.1,1279.7 502.2,1281.8 505.3,1279.7 511.4,1282.8 517.5,1281.8 523.6,1284.9 529.8,1282.8 536.1,1286.3 542.3,1283.3 550.4,1287.4 555.5,1285.3 561.7,1290.4 566.8,1286.8 572.9,1292.5 579.0,1289.4 585.2,1295.5 589.3,1291.5 595.4,1297.6 600.5,1294.9 606.6,1298.6 612.8,1298.6 617.9,1300.7 624.0,1302.7 632.2,1306.8 638.3,1305.8 644.4,1308.8 652.6,1308.8 658.8,1313.9 666.9,1312.9" fill="none" stroke="#f39a62" stroke-width="1.2" stroke-linejoin="round" stroke-dasharray="4.8 3.9" opacity="1.0"/><polyline points="59.4,1226.2 60.2,1226.4 61.0,1226.5 62.0,1226.6 63.0,1226.8 64.1,1226.9 65.2,1227.1 66.4,1227.3 67.7,1227.5 69.0,1227.7 70.3,1227.9 71.8,1228.1 73.2,1228.3 74.7,1228.5 76.3,1228.7 77.8,1229.0 79.4,1229.2 81.1,1229.4 82.7,1229.7 84.4,1229.9 86.1,1230.2 87.8,1230.5 89.6,1230.7 91.3,1231.0 93.1,1231.2 94.8,1231.5 96.6,1231.8 98.3,1232.0 100.1,1232.3 101.8,1232.6 103.5,1232.8 105.2,1233.1 106.9,1233.4 108.6,1233.6 110.2,1233.9 111.8,1234.2 113.4,1234.4 114.8,1234.7 116.3,1234.9 117.7,1235.1 119.1,1235.4 120.5,1235.6 121.9,1235.8 123.3,1236.1 124.7,1236.3 126.1,1236.5 127.4,1236.8 128.8,1237.0 130.2,1237.2 131.6,1237.5 133.0,1237.7 134.4,1238.0 135.8,1238.2 137.2,1238.5 138.6,1238.7 140.1,1239.0 141.5,1239.2 142.9,1239.5 144.4,1239.7 145.8,1240.0 147.3,1240.3 148.8,1240.5 150.3,1240.8 151.8,1241.1 153.4,1241.3 154.9,1241.6 156.5,1241.9 158.1,1242.2 159.7,1242.5 161.4,1242.8 163.1,1243.1 164.8,1243.4 166.5,1243.7 168.2,1244.0 170.0,1244.3 171.8,1244.6 173.1,1244.9 174.4,1245.1 175.7,1245.3 177.0,1245.6 178.4,1245.8 179.8,1246.1 181.2,1246.3 182.6,1246.6 184.1,1246.9 185.5,1247.1 187.0,1247.4 188.5,1247.7 190.0,1247.9 191.5,1248.2 193.1,1248.5 194.6,1248.8 196.2,1249.1 197.7,1249.3 199.3,1249.6 200.9,1249.9 202.5,1250.2 204.1,1250.5 205.7,1250.8 207.3,1251.1 208.9,1251.4 210.5,1251.7 212.1,1252.0 213.7,1252.3 215.3,1252.6 216.9,1252.9 218.5,1253.1 220.1,1253.4 221.7,1253.7 223.3,1254.0 224.9,1254.3 226.5,1254.6 228.0,1254.9 229.6,1255.2 231.1,1255.5 232.7,1255.7 234.2,1256.0 235.7,1256.3 237.2,1256.6 238.7,1256.8 240.2,1257.1 241.6,1257.4 243.0,1257.6 244.5,1257.9 245.9,1258.2 247.2,1258.4 248.6,1258.6 249.9,1258.9 251.2,1259.1 252.5,1259.4 253.8,1259.6 255.0,1259.8 256.9,1260.2 258.7,1260.5 260.5,1260.8 262.2,1261.1 263.9,1261.4 265.6,1261.7 267.2,1262.0 268.8,1262.3 270.3,1262.5 271.9,1262.8 273.3,1263.1 274.8,1263.3 276.3,1263.6 277.7,1263.8 279.1,1264.1 280.5,1264.3 281.9,1264.6 283.2,1264.8 284.6,1265.0 286.0,1265.3 287.3,1265.5 288.6,1265.7 290.0,1266.0 291.3,1266.2 292.7,1266.5 294.0,1266.7 295.4,1267.0 296.8,1267.2 298.2,1267.5 299.6,1267.7 301.0,1268.0 302.4,1268.3 303.9,1268.6 305.3,1268.9 306.9,1269.1 308.4,1269.5 309.8,1269.7 311.3,1270.0 312.7,1270.3 314.2,1270.6 315.6,1270.9 317.1,1271.2 318.6,1271.6 320.0,1271.9 321.5,1272.2 323.0,1272.5 324.5,1272.8 326.0,1273.2 327.5,1273.5 329.0,1273.8 330.5,1274.1 332.0,1274.5 333.5,1274.8 335.0,1275.2 336.5,1275.5 338.0,1275.8 339.6,1276.2 341.1,1276.5 342.6,1276.8 344.1,1277.2 345.6,1277.5 347.1,1277.8 348.7,1278.2 350.2,1278.5 351.7,1278.8 353.2,1279.2 354.7,1279.5 356.2,1279.8 357.8,1280.1 359.3,1280.5 360.8,1280.8 362.3,1281.1 363.8,1281.4 365.3,1281.7 366.8,1282.0 368.3,1282.3 369.8,1282.6 371.4,1282.9 372.9,1283.2 374.5,1283.5 376.1,1283.8 377.7,1284.1 379.3,1284.4 381.0,1284.7 382.6,1285.0 384.2,1285.3 385.9,1285.6 387.5,1285.9 389.1,1286.2 390.8,1286.5 392.4,1286.8 394.0,1287.1 395.7,1287.4 397.3,1287.7 398.9,1288.0 400.5,1288.3 402.1,1288.5 403.6,1288.8 405.2,1289.1 406.7,1289.4 408.2,1289.6 409.7,1289.9 411.2,1290.2 412.6,1290.4 414.0,1290.7 415.4,1290.9 416.7,1291.2 418.0,1291.4 419.3,1291.7 420.6,1291.9 421.8,1292.1 423.0,1292.4 424.1,1292.6 425.2,1292.8 427.6,1293.3 429.6,1293.7 431.4,1294.1 432.9,1294.4 434.2,1294.7 435.3,1295.0 436.4,1295.3 437.4,1295.5 438.4,1295.8 439.4,1296.1 440.6,1296.4 442.0,1296.7 443.5,1297.1 445.3,1297.6 447.5,1298.1 450.0,1298.6 451.1,1298.9 452.1,1299.1 453.3,1299.4 454.4,1299.6 455.6,1299.9 456.9,1300.2 458.1,1300.5 459.4,1300.7 460.8,1301.0 462.1,1301.3 463.5,1301.6 464.9,1301.9 466.3,1302.3 467.8,1302.6 469.2,1302.9 470.7,1303.2 472.2,1303.5 473.8,1303.9 475.3,1304.2 476.9,1304.6 478.4,1304.9 480.0,1305.3 481.6,1305.6 483.2,1306.0 484.8,1306.3 486.4,1306.7 488.1,1307.0 489.7,1307.4 491.3,1307.8 492.9,1308.1 494.6,1308.5 496.2,1308.8 497.8,1309.2 499.5,1309.6 501.1,1310.0 502.7,1310.3 504.3,1310.7 505.9,1311.1 507.5,1311.4 509.1,1311.8 510.6,1312.2 512.2,1312.5 513.6,1312.9 515.0,1313.2 516.4,1313.5 517.7,1313.9 519.1,1314.2 520.5,1314.6 521.9,1314.9 523.3,1315.3 524.7,1315.6 526.1,1316.0 527.4,1316.3 528.8,1316.7 530.2,1317.0 531.6,1317.4 533.0,1317.7 534.4,1318.1 535.7,1318.4 537.1,1318.8 538.5,1319.2 539.9,1319.5 541.3,1319.9 542.8,1320.3 544.2,1320.6 545.6,1321.0 547.0,1321.4 548.5,1321.7 549.9,1322.1 551.3,1322.5 552.8,1322.9 554.3,1323.2 555.7,1323.6 557.2,1324.0 558.7,1324.4 560.2,1324.7 561.8,1325.1 563.3,1325.5 564.8,1325.9 566.4,1326.3 567.9,1326.6 569.5,1327.0 571.1,1327.4 572.7,1327.8 574.4,1328.2 576.0,1328.6 577.6,1328.9 579.3,1329.3 580.6,1329.6 582.0,1329.9 583.4,1330.2 584.8,1330.6 586.3,1330.9 587.8,1331.2 589.3,1331.5 590.8,1331.9 592.4,1332.2 594.0,1332.6 595.6,1332.9 597.2,1333.3 598.9,1333.6 600.5,1334.0 602.2,1334.3 603.9,1334.7 605.6,1335.1 607.3,1335.4 609.0,1335.8 610.7,1336.2 612.5,1336.5 614.2,1336.9 615.9,1337.3 617.7,1337.6 619.4,1338.0 621.1,1338.3 622.9,1338.7 624.6,1339.1 626.3,1339.4 628.0,1339.8 629.7,1340.1 631.4,1340.5 633.1,1340.8 634.7,1341.2 636.4,1341.5 638.0,1341.8 639.6,1342.2 641.2,1342.5 642.7,1342.8 644.3,1343.1 645.8,1343.5 647.2,1343.8 648.7,1344.1 650.1,1344.4 651.5,1344.6 652.9,1344.9 654.2,1345.2 655.4,1345.5 656.7,1345.7 657.9,1346.0 659.0,1346.2 660.2,1346.4 661.2,1346.7 662.3,1346.9 663.2,1347.1 664.2,1347.3 665.0,1347.5 665.9,1347.6 666.6,1347.8" fill="none" stroke="#ee7b62" stroke-width="1.6" stroke-linejoin="round" opacity="1.0"/><polyline points="58.7,1226.7 61.7,1227.1 64.8,1227.5 67.8,1228.0 70.9,1228.4 74.0,1228.9 77.0,1229.3 80.1,1229.8 83.2,1230.3 86.2,1230.7 89.3,1231.2 92.3,1231.6 95.4,1232.1 98.5,1232.6 101.5,1233.0 104.6,1233.5 107.7,1234.0 110.7,1234.5 113.8,1235.0 116.8,1235.5 119.9,1236.0 123.0,1236.5 126.0,1237.0 129.1,1237.6 132.2,1238.1 135.2,1238.6 138.3,1239.1 141.3,1239.7 144.4,1240.2 147.5,1240.8 150.5,1241.3 153.6,1241.9 156.6,1242.4 159.7,1243.0 162.8,1243.5 165.8,1244.1 168.9,1244.6 172.0,1245.2 175.0,1245.7 178.1,1246.3 181.1,1246.8 184.2,1247.4 187.3,1247.9 190.3,1248.5 193.4,1249.0 196.5,1249.6 199.5,1250.2 202.6,1250.7 205.6,1251.3 208.7,1251.8 211.8,1252.4 214.8,1253.0 217.9,1253.5 220.9,1254.1 224.0,1254.7 227.1,1255.2 230.1,1255.8 233.2,1256.3 236.3,1256.9 239.3,1257.5 242.4,1258.0 245.4,1258.6 248.5,1259.1 251.6,1259.7 254.6,1260.3 257.7,1260.8 260.8,1261.4 263.8,1261.9 266.9,1262.4 269.9,1263.0 273.0,1263.5 276.1,1264.0 279.1,1264.6 282.2,1265.1 285.2,1265.7 288.3,1266.2 291.4,1266.7 294.4,1267.3 297.5,1267.9 300.6,1268.4 303.6,1269.0 306.7,1269.6 309.7,1270.2 312.8,1270.8 315.9,1271.5 318.9,1272.1 322.0,1272.8 325.1,1273.5 328.1,1274.1 331.2,1274.8 334.2,1275.5 337.3,1276.2 340.4,1276.8 343.4,1277.5 346.5,1278.2 349.6,1278.9 352.6,1279.5 355.7,1280.2 358.7,1280.9 361.8,1281.5 364.9,1282.1 367.9,1282.7 371.0,1283.3 374.0,1283.9 377.1,1284.5 380.2,1285.1 383.2,1285.6 386.3,1286.2 389.4,1286.8 392.4,1287.3 395.5,1287.9 398.5,1288.4 401.6,1289.0 404.7,1289.5 407.7,1290.1 410.8,1290.6 413.9,1291.2 416.9,1291.7 420.0,1292.3 423.0,1292.9 426.1,1293.5 429.2,1294.1 432.2,1294.8 435.3,1295.5 438.4,1296.3 441.4,1297.1 444.5,1297.9 447.5,1298.6 450.6,1299.3 453.7,1300.0 456.7,1300.7 459.8,1301.3 462.8,1302.0 465.9,1302.7 469.0,1303.3 472.0,1304.0 475.1,1304.7 478.2,1305.3 481.2,1306.0 484.3,1306.7 487.3,1307.4 490.4,1308.0 493.5,1308.7 496.5,1309.4 499.6,1310.1 502.7,1310.8 505.7,1311.5 508.8,1312.2 511.8,1313.0 514.9,1313.7 518.0,1314.4 521.0,1315.2 524.1,1316.0 527.1,1316.7 530.2,1317.5 533.3,1318.3 536.3,1319.1 539.4,1319.9 542.5,1320.7 545.5,1321.5 548.6,1322.3 551.6,1323.1 554.7,1323.8 557.8,1324.6 560.8,1325.4 563.9,1326.2 567.0,1326.9 570.0,1327.6 573.1,1328.4 576.1,1329.1 579.2,1329.8 582.3,1330.5 585.3,1331.2 588.4,1331.8 591.5,1332.5 594.5,1333.2 597.6,1333.8 600.6,1334.5 603.7,1335.2 606.8,1335.8 609.8,1336.5 612.9,1337.1 615.9,1337.8 619.0,1338.4 622.1,1339.0 625.1,1339.7 628.2,1340.3 631.3,1341.0 634.3,1341.6 637.4,1342.2 640.4,1342.9 643.5,1343.5 646.6,1344.1 649.6,1344.8 652.7,1345.4 655.8,1346.0 658.8,1346.7 661.9,1347.3 664.9,1347.9 668.0,1348.3" fill="none" stroke="#739ecf" stroke-width="1.6" stroke-dasharray="5 3.7"/><line x1="16.8" y1="6.6" x2="61.6" y2="6.6" stroke="#ee7b62" stroke-width="1.6"/><text x="66.30" y="11.00" font-family='"Liberation Serif", serif' font-size="12.5" text-anchor="start" font-weight="normal" fill="#262626" stroke="#262626" stroke-width="0.25" >True</text><line x1="98.3" y1="6.6" x2="144" y2="6.6" stroke="#f39a62" stroke-width="1.6" stroke-dasharray="4.8 3.9"/><text x="148.00" y="11.00" font-family='"Liberation Serif", serif' font-size="12.5" text-anchor="start" font-weight="normal" fill="#262626" stroke="#262626" stroke-width="0.25" >XLSTM</text><line x1="198.8" y1="6.6" x2="244.9" y2="6.6" stroke="#f8b46e" stroke-width="1.6" stroke-dasharray="4.8 3.9"/><text x="248.00" y="11.00" font-family='"Liberation Serif", serif' font-size="12.5" text-anchor="start" font-weight="normal" fill="#262626" stroke="#262626" stroke-width="0.25" >T-LSTM</text><line x1="302.2" y1="6.6" x2="348.2" y2="6.6" stroke="#82c5d8" stroke-width="1.6" stroke-dasharray="4.8 3.9"/><text x="352.00" y="11.00" font-family='"Liberation Serif", serif' font-size="12.5" text-anchor="start" font-weight="normal" fill="#262626" stroke="#262626" stroke-width="0.25" >Transformer</text><line x1="421.7" y1="6.6" x2="468.4" y2="6.6" stroke="#f9b872" stroke-width="1.6" stroke-dasharray="4.8 3.9"/><text x="471.50" y="11.00" font-family='"Liberation Serif", serif' font-size="12.5" text-anchor="start" font-weight="normal" fill="#262626" stroke="#262626" stroke-width="0.25" >LSTM</text><line x1="512.8" y1="6.6" x2="559.5" y2="6.6" stroke="#8ccde0" stroke-width="1.6" stroke-dasharray="4.8 3.9"/><text x="563.20" y="11.00" font-family='"Liberation Serif", serif' font-size="12.5" text-anchor="start" font-weight="normal" fill="#262626" stroke="#262626" stroke-width="0.25" >BPNN</text><line x1="605.6" y1="6.6" x2="652.3" y2="6.6" stroke="#739ecf" stroke-width="1.6" stroke-dasharray="4.8 3.9"/><text x="655.50" y="11.00" font-family='"Liberation Serif", serif' font-size="12.5" text-anchor="start" font-weight="normal" fill="#262626" stroke="#262626" stroke-width="0.25" >ELM</text><line x1="21.6" y1="485.7" x2="66.6" y2="485.7" stroke="#ee7b62" stroke-width="1.6"/><text x="70.50" y="490.10" font-family='"Liberation Serif", serif' font-size="12.5" text-anchor="start" font-weight="normal" fill="#262626" stroke="#262626" stroke-width="0.25" >True</text><line x1="103.2" y1="485.7" x2="148.1" y2="485.7" stroke="#f39a62" stroke-width="1.6" stroke-dasharray="4.8 3.9"/><text x="152.80" y="490.10" font-family='"Liberation Serif", serif' font-size="12.5" text-anchor="start" font-weight="normal" fill="#262626" stroke="#262626" stroke-width="0.25" >XLSTM</text><line x1="202.6" y1="485.7" x2="249.1" y2="485.7" stroke="#f8b46e" stroke-width="1.6" stroke-dasharray="4.8 3.9"/><text x="252.20" y="490.10" font-family='"Liberation Serif", serif' font-size="12.5" text-anchor="start" font-weight="normal" fill="#262626" stroke="#262626" stroke-width="0.25" >T-LSTM</text><line x1="305.6" y1="485.7" x2="350.8" y2="485.7" stroke="#82c5d8" stroke-width="1.6" stroke-dasharray="4.8 3.9"/><text x="354.70" y="490.10" font-family='"Liberation Serif", serif' font-size="12.5" text-anchor="start" font-weight="normal" fill="#262626" stroke="#262626" stroke-width="0.25" >Transformer</text><line x1="426" y1="485.7" x2="471.2" y2="485.7" stroke="#f9b872" stroke-width="1.6" stroke-dasharray="4.8 3.9"/><text x="475.00" y="490.10" font-family='"Liberation Serif", serif' font-size="12.5" text-anchor="start" font-weight="normal" fill="#262626" stroke="#262626" stroke-width="0.25" >LSTM</text><line x1="516.7" y1="485.7" x2="562.6" y2="485.7" stroke="#8ccde0" stroke-width="1.6" stroke-dasharray="4.8 3.9"/><text x="565.50" y="490.10" font-family='"Liberation Serif", serif' font-size="12.5" text-anchor="start" font-weight="normal" fill="#262626" stroke="#262626" stroke-width="0.25" >BPNN</text><line x1="608" y1="485.7" x2="653" y2="485.7" stroke="#739ecf" stroke-width="1.6" stroke-dasharray="4.8 3.9"/><text x="657.20" y="490.10" font-family='"Liberation Serif", serif' font-size="12.5" text-anchor="start" font-weight="normal" fill="#262626" stroke="#262626" stroke-width="0.25" >ELM</text><line x1="30.5" y1="962.0" x2="75.7" y2="962.0" stroke="#ee7b62" stroke-width="1.6"/><text x="79.50" y="966.40" font-family='"Liberation Serif", serif' font-size="12.5" text-anchor="start" font-weight="normal" fill="#262626" stroke="#262626" stroke-width="0.25" >True</text><line x1="110.8" y1="962.0" x2="156.3" y2="962.0" stroke="#f39a62" stroke-width="1.6" stroke-dasharray="4.8 3.9"/><text x="159.50" y="966.40" font-family='"Liberation Serif", serif' font-size="12.5" text-anchor="start" font-weight="normal" fill="#262626" stroke="#262626" stroke-width="0.25" >XLSTM</text><line x1="209.7" y1="962.0" x2="254.4" y2="962.0" stroke="#f8b46e" stroke-width="1.6" stroke-dasharray="4.8 3.9"/><text x="258.50" y="966.40" font-family='"Liberation Serif", serif' font-size="12.5" text-anchor="start" font-weight="normal" fill="#262626" stroke="#262626" stroke-width="0.25" >T-LSTM</text><line x1="310.3" y1="962.0" x2="356" y2="962.0" stroke="#82c5d8" stroke-width="1.6" stroke-dasharray="4.8 3.9"/><text x="359.40" y="966.40" font-family='"Liberation Serif", serif' font-size="12.5" text-anchor="start" font-weight="normal" fill="#262626" stroke="#262626" stroke-width="0.25" >Transformer</text><line x1="427.3" y1="962.0" x2="473.2" y2="962.0" stroke="#f9b872" stroke-width="1.6" stroke-dasharray="4.8 3.9"/><text x="476.90" y="966.40" font-family='"Liberation Serif", serif' font-size="12.5" text-anchor="start" font-weight="normal" fill="#262626" stroke="#262626" stroke-width="0.25" >LSTM</text><line x1="517.6" y1="962.0" x2="562.8" y2="962.0" stroke="#8ccde0" stroke-width="1.6" stroke-dasharray="4.8 3.9"/><text x="566.40" y="966.40" font-family='"Liberation Serif", serif' font-size="12.5" text-anchor="start" font-weight="normal" fill="#262626" stroke="#262626" stroke-width="0.25" >BPNN</text><line x1="607.5" y1="962.0" x2="653.4" y2="962.0" stroke="#739ecf" stroke-width="1.6" stroke-dasharray="4.8 3.9"/><text x="656.60" y="966.40" font-family='"Liberation Serif", serif' font-size="12.5" text-anchor="start" font-weight="normal" fill="#262626" stroke="#262626" stroke-width="0.25" >ELM</text><text x="100.40" y="469.40" font-family='"Liberation Serif", serif' font-size="18" text-anchor="start" font-weight="bold" fill="#000" stroke="#000" stroke-width="0.15" textLength="483" lengthAdjust="spacingAndGlyphs">a Line graph comparing high-frequency component predictions</text><text x="135.60" y="944.40" font-family='"Liberation Serif", serif' font-size="18" text-anchor="start" font-weight="bold" fill="#000" stroke="#000" stroke-width="0.15" >b Line graph comparing predictions of IF components</text><text x="102.70" y="1425.80" font-family='"Liberation Serif", serif' font-size="18" text-anchor="start" font-weight="bold" fill="#000" stroke="#000" stroke-width="0.15" >c Line graph comparing low-frequency component predictions</text><path d="M41.10 34.70 V182.00 H665.70" fill="none" stroke="#7a7a7a" stroke-width="1.5"/><path d="M41.10 182.00 v6 M103.56 182.00 v6 M166.02 182.00 v6 M228.48 182.00 v6 M290.94 182.00 v6 M353.40 182.00 v6 M415.86 182.00 v6 M478.32 182.00 v6 M540.78 182.00 v6 M603.24 182.00 v6 M665.70 182.00 v6 M41.10 34.70 h-6.5 M41.10 108.35 h-6.5 M41.10 182.00 h-6.5" fill="none" stroke="#7a7a7a" stroke-width="1.5"/><text x="41.10" y="206.20" font-family='"Liberation Serif", serif' font-size="14" text-anchor="middle" font-weight="normal" fill="#262626" stroke="#262626" stroke-width="0.25" >0</text><text x="103.56" y="206.20" font-family='"Liberation Serif", serif' font-size="14" text-anchor="middle" font-weight="normal" fill="#262626" stroke="#262626" stroke-width="0.25" >20</text><text x="166.02" y="206.20" font-family='"Liberation Serif", serif' font-size="14" text-anchor="middle" font-weight="normal" fill="#262626" stroke="#262626" stroke-width="0.25" >40</text><text x="228.48" y="206.20" font-family='"Liberation Serif", serif' font-size="14" text-anchor="middle" font-weight="normal" fill="#262626" stroke="#262626" stroke-width="0.25" >60</text><text x="290.94" y="206.20" font-family='"Liberation Serif", serif' font-size="14" text-anchor="middle" font-weight="normal" fill="#262626" stroke="#262626" stroke-width="0.25" >80</text><text x="353.40" y="206.20" font-family='"Liberation Serif", serif' font-size="14" text-anchor="middle" font-weight="normal" fill="#262626" stroke="#262626" stroke-width="0.25" >100</text><text x="415.86" y="206.20" font-family='"Liberation Serif", serif' font-size="14" text-anchor="middle" font-weight="normal" fill="#262626" stroke="#262626" stroke-width="0.25" >120</text><text x="478.32" y="206.20" font-family='"Liberation Serif", serif' font-size="14" text-anchor="middle" font-weight="normal" fill="#262626" stroke="#262626" stroke-width="0.25" >140</text><text x="540.78" y="206.20" font-family='"Liberation Serif", serif' font-size="14" text-anchor="middle" font-weight="normal" fill="#262626" stroke="#262626" stroke-width="0.25" >160</text><text x="603.24" y="206.20" font-family='"Liberation Serif", serif' font-size="14" text-anchor="middle" font-weight="normal" fill="#262626" stroke="#262626" stroke-width="0.25" >180</text><text x="665.70" y="206.20" font-family='"Liberation Serif", serif' font-size="14" text-anchor="middle" font-weight="normal" fill="#262626" stroke="#262626" stroke-width="0.25" >200</text><text x="30.90" y="40.20" font-family='"Liberation Serif", serif' font-size="14" text-anchor="end" font-weight="normal" fill="#262626" stroke="#262626" stroke-width="0.25" >5</text><text x="30.90" y="113.85" font-family='"Liberation Serif", serif' font-size="14" text-anchor="end" font-weight="normal" fill="#262626" stroke="#262626" stroke-width="0.25" >0</text><text x="30.90" y="187.50" font-family='"Liberation Serif", serif' font-size="14" text-anchor="end" font-weight="normal" fill="#262626" stroke="#262626" stroke-width="0.25" >-5</text><text x="353.40" y="30.60" font-family='"Liberation Serif", serif' font-size="15" text-anchor="middle" font-weight="normal" fill="#262626" stroke="#262626" stroke-width="0.25" >Mode1</text><text x="353.90" y="222.80" font-family='"Liberation Serif", serif' font-size="15.2" text-anchor="middle" font-weight="normal" fill="#262626" stroke="#262626" stroke-width="0.25" >Time(15 Minutes)</text><text x="12.6" y="108.35" font-family='"Liberation Serif", serif' font-size="15.6" text-anchor="middle" fill="#262626" stroke="#262626" stroke-width="0.25" transform="rotate(-90 12.6 108.35)">V(m/s)</text><path d="M41.10 253.40 V400.00 H665.70" fill="none" stroke="#7a7a7a" stroke-width="1.5"/><path d="M41.10 400.00 v6 M103.56 400.00 v6 M166.02 400.00 v6 M228.48 400.00 v6 M290.94 400.00 v6 M353.40 400.00 v6 M415.86 400.00 v6 M478.32 400.00 v6 M540.78 400.00 v6 M603.24 400.00 v6 M665.70 400.00 v6 M41.10 253.40 h-6.5 M41.10 326.70 h-6.5 M41.10 400.00 h-6.5" fill="none" stroke="#7a7a7a" stroke-width="1.5"/><text x="41.10" y="424.20" font-family='"Liberation Serif", serif' font-size="14" text-anchor="middle" font-weight="normal" fill="#262626" stroke="#262626" stroke-width="0.25" >0</text><text x="103.56" y="424.20" font-family='"Liberation Serif", serif' font-size="14" text-anchor="middle" font-weight="normal" fill="#262626" stroke="#262626" stroke-width="0.25" >20</text><text x="166.02" y="424.20" font-family='"Liberation Serif", serif' font-size="14" text-anchor="middle" font-weight="normal" fill="#262626" stroke="#262626" stroke-width="0.25" >40</text><text x="228.48" y="424.20" font-family='"Liberation Serif", serif' font-size="14" text-anchor="middle" font-weight="normal" fill="#262626" stroke="#262626" stroke-width="0.25" >60</text><text x="290.94" y="424.20" font-family='"Liberation Serif", serif' font-size="14" text-anchor="middle" font-weight="normal" fill="#262626" stroke="#262626" stroke-width="0.25" >80</text><text x="353.40" y="424.20" font-family='"Liberation Serif", serif' font-size="14" text-anchor="middle" font-weight="normal" fill="#262626" stroke="#262626" stroke-width="0.25" >100</text><text x="415.86" y="424.20" font-family='"Liberation Serif", serif' font-size="14" text-anchor="middle" font-weight="normal" fill="#262626" stroke="#262626" stroke-width="0.25" >120</text><text x="478.32" y="424.20" font-family='"Liberation Serif", serif' font-size="14" text-anchor="middle" font-weight="normal" fill="#262626" stroke="#262626" stroke-width="0.25" >140</text><text x="540.78" y="424.20" font-family='"Liberation Serif", serif' font-size="14" text-anchor="middle" font-weight="normal" fill="#262626" stroke="#262626" stroke-width="0.25" >160</text><text x="603.24" y="424.20" font-family='"Liberation Serif", serif' font-size="14" text-anchor="middle" font-weight="normal" fill="#262626" stroke="#262626" stroke-width="0.25" >180</text><text x="665.70" y="424.20" font-family='"Liberation Serif", serif' font-size="14" text-anchor="middle" font-weight="normal" fill="#262626" stroke="#262626" stroke-width="0.25" >200</text><text x="30.90" y="258.90" font-family='"Liberation Serif", serif' font-size="14" text-anchor="end" font-weight="normal" fill="#262626" stroke="#262626" stroke-width="0.25" >5</text><text x="30.90" y="332.20" font-family='"Liberation Serif", serif' font-size="14" text-anchor="end" font-weight="normal" fill="#262626" stroke="#262626" stroke-width="0.25" >0</text><text x="30.90" y="405.50" font-family='"Liberation Serif", serif' font-size="14" text-anchor="end" font-weight="normal" fill="#262626" stroke="#262626" stroke-width="0.25" >-5</text><text x="353.40" y="249.20" font-family='"Liberation Serif", serif' font-size="15" text-anchor="middle" font-weight="normal" fill="#262626" stroke="#262626" stroke-width="0.25" >Mode2</text><text x="353.90" y="441.50" font-family='"Liberation Serif", serif' font-size="15.2" text-anchor="middle" font-weight="normal" fill="#262626" stroke="#262626" stroke-width="0.25" >Time(15 Minutes)</text><text x="12.6" y="326.70" font-family='"Liberation Serif", serif' font-size="15.6" text-anchor="middle" fill="#262626" stroke="#262626" stroke-width="0.25" transform="rotate(-90 12.6 326.70)">V(m/s)</text><path d="M42.00 515.00 V661.00 H664.00" fill="none" stroke="#7a7a7a" stroke-width="1.5"/><path d="M42.00 661.00 v6 M104.20 661.00 v6 M166.40 661.00 v6 M228.60 661.00 v6 M290.80 661.00 v6 M353.00 661.00 v6 M415.20 661.00 v6 M477.40 661.00 v6 M539.60 661.00 v6 M601.80 661.00 v6 M664.00 661.00 v6 M42.00 530.60 h-6.5 M42.00 587.60 h-6.5 M42.00 644.60 h-6.5" fill="none" stroke="#7a7a7a" stroke-width="1.5"/><text x="42.00" y="685.80" font-family='"Liberation Serif", serif' font-size="14" text-anchor="middle" font-weight="normal" fill="#262626" stroke="#262626" stroke-width="0.25" >0</text><text x="104.20" y="685.80" font-family='"Liberation Serif", serif' font-size="14" text-anchor="middle" font-weight="normal" fill="#262626" stroke="#262626" stroke-width="0.25" >20</text><text x="166.40" y="685.80" font-family='"Liberation Serif", serif' font-size="14" text-anchor="middle" font-weight="normal" fill="#262626" stroke="#262626" stroke-width="0.25" >40</text><text x="228.60" y="685.80" font-family='"Liberation Serif", serif' font-size="14" text-anchor="middle" font-weight="normal" fill="#262626" stroke="#262626" stroke-width="0.25" >60</text><text x="290.80" y="685.80" font-family='"Liberation Serif", serif' font-size="14" text-anchor="middle" font-weight="normal" fill="#262626" stroke="#262626" stroke-width="0.25" >80</text><text x="353.00" y="685.80" font-family='"Liberation Serif", serif' font-size="14" text-anchor="middle" font-weight="normal" fill="#262626" stroke="#262626" stroke-width="0.25" >100</text><text x="415.20" y="685.80" font-family='"Liberation Serif", serif' font-size="14" text-anchor="middle" font-weight="normal" fill="#262626" stroke="#262626" stroke-width="0.25" >120</text><text x="477.40" y="685.80" font-family='"Liberation Serif", serif' font-size="14" text-anchor="middle" font-weight="normal" fill="#262626" stroke="#262626" stroke-width="0.25" >140</text><text x="539.60" y="685.80" font-family='"Liberation Serif", serif' font-size="14" text-anchor="middle" font-weight="normal" fill="#262626" stroke="#262626" stroke-width="0.25" >160</text><text x="601.80" y="685.80" font-family='"Liberation Serif", serif' font-size="14" text-anchor="middle" font-weight="normal" fill="#262626" stroke="#262626" stroke-width="0.25" >180</text><text x="664.00" y="685.80" font-family='"Liberation Serif", serif' font-size="14" text-anchor="middle" font-weight="normal" fill="#262626" stroke="#262626" stroke-width="0.25" >200</text><text x="31.80" y="536.10" font-family='"Liberation Serif", serif' font-size="14" text-anchor="end" font-weight="normal" fill="#262626" stroke="#262626" stroke-width="0.25" >5</text><text x="31.80" y="593.10" font-family='"Liberation Serif", serif' font-size="14" text-anchor="end" font-weight="normal" fill="#262626" stroke="#262626" stroke-width="0.25" >0</text><text x="31.80" y="650.10" font-family='"Liberation Serif", serif' font-size="14" text-anchor="end" font-weight="normal" fill="#262626" stroke="#262626" stroke-width="0.25" >-5</text><text x="353.00" y="511.00" font-family='"Liberation Serif", serif' font-size="15" text-anchor="middle" font-weight="normal" fill="#262626" stroke="#262626" stroke-width="0.25" >Mode3</text><text x="353.50" y="702.50" font-family='"Liberation Serif", serif' font-size="15.2" text-anchor="middle" font-weight="normal" fill="#262626" stroke="#262626" stroke-width="0.25" >Time(15 Minutes)</text><text x="13.2" y="588.00" font-family='"Liberation Serif", serif' font-size="15.6" text-anchor="middle" fill="#262626" stroke="#262626" stroke-width="0.25" transform="rotate(-90 13.2 588.00)">V(m/s)</text><path d="M42.00 732.40 V878.60 H664.00" fill="none" stroke="#7a7a7a" stroke-width="1.5"/><path d="M42.00 878.60 v6 M104.20 878.60 v6 M166.40 878.60 v6 M228.60 878.60 v6 M290.80 878.60 v6 M353.00 878.60 v6 M415.20 878.60 v6 M477.40 878.60 v6 M539.60 878.60 v6 M601.80 878.60 v6 M664.00 878.60 v6 M42.00 732.40 h-6.5 M42.00 781.20 h-6.5 M42.00 830.00 h-6.5 M42.00 878.60 h-6.5" fill="none" stroke="#7a7a7a" stroke-width="1.5"/><text x="42.00" y="903.20" font-family='"Liberation Serif", serif' font-size="14" text-anchor="middle" font-weight="normal" fill="#262626" stroke="#262626" stroke-width="0.25" >0</text><text x="104.20" y="903.20" font-family='"Liberation Serif", serif' font-size="14" text-anchor="middle" font-weight="normal" fill="#262626" stroke="#262626" stroke-width="0.25" >20</text><text x="166.40" y="903.20" font-family='"Liberation Serif", serif' font-size="14" text-anchor="middle" font-weight="normal" fill="#262626" stroke="#262626" stroke-width="0.25" >40</text><text x="228.60" y="903.20" font-family='"Liberation Serif", serif' font-size="14" text-anchor="middle" font-weight="normal" fill="#262626" stroke="#262626" stroke-width="0.25" >60</text><text x="290.80" y="903.20" font-family='"Liberation Serif", serif' font-size="14" text-anchor="middle" font-weight="normal" fill="#262626" stroke="#262626" stroke-width="0.25" >80</text><text x="353.00" y="903.20" font-family='"Liberation Serif", serif' font-size="14" text-anchor="middle" font-weight="normal" fill="#262626" stroke="#262626" stroke-width="0.25" >100</text><text x="415.20" y="903.20" font-family='"Liberation Serif", serif' font-size="14" text-anchor="middle" font-weight="normal" fill="#262626" stroke="#262626" stroke-width="0.25" >120</text><text x="477.40" y="903.20" font-family='"Liberation Serif", serif' font-size="14" text-anchor="middle" font-weight="normal" fill="#262626" stroke="#262626" stroke-width="0.25" >140</text><text x="539.60" y="903.20" font-family='"Liberation Serif", serif' font-size="14" text-anchor="middle" font-weight="normal" fill="#262626" stroke="#262626" stroke-width="0.25" >160</text><text x="601.80" y="903.20" font-family='"Liberation Serif", serif' font-size="14" text-anchor="middle" font-weight="normal" fill="#262626" stroke="#262626" stroke-width="0.25" >180</text><text x="664.00" y="903.20" font-family='"Liberation Serif", serif' font-size="14" text-anchor="middle" font-weight="normal" fill="#262626" stroke="#262626" stroke-width="0.25" >200</text><text x="31.80" y="737.90" font-family='"Liberation Serif", serif' font-size="14" text-anchor="end" font-weight="normal" fill="#262626" stroke="#262626" stroke-width="0.25" >2</text><text x="31.80" y="786.70" font-family='"Liberation Serif", serif' font-size="14" text-anchor="end" font-weight="normal" fill="#262626" stroke="#262626" stroke-width="0.25" >1</text><text x="31.80" y="835.50" font-family='"Liberation Serif", serif' font-size="14" text-anchor="end" font-weight="normal" fill="#262626" stroke="#262626" stroke-width="0.25" >0</text><text x="31.80" y="884.10" font-family='"Liberation Serif", serif' font-size="14" text-anchor="end" font-weight="normal" fill="#262626" stroke="#262626" stroke-width="0.25" >-1</text><text x="353.00" y="729.00" font-family='"Liberation Serif", serif' font-size="15" text-anchor="middle" font-weight="normal" fill="#262626" stroke="#262626" stroke-width="0.25" >Mode4</text><text x="353.50" y="920.10" font-family='"Liberation Serif", serif' font-size="15.2" text-anchor="middle" font-weight="normal" fill="#262626" stroke="#262626" stroke-width="0.25" >Time(15 Minutes)</text><text x="13.2" y="805.50" font-family='"Liberation Serif", serif' font-size="15.6" text-anchor="middle" fill="#262626" stroke="#262626" stroke-width="0.25" transform="rotate(-90 13.2 805.50)">V(m/s)</text><path d="M55.60 989.60 V1134.00 H668.00" fill="none" stroke="#7a7a7a" stroke-width="1.5"/><path d="M55.60 1134.00 v6 M116.84 1134.00 v6 M178.08 1134.00 v6 M239.32 1134.00 v6 M300.56 1134.00 v6 M361.80 1134.00 v6 M423.04 1134.00 v6 M484.28 1134.00 v6 M545.52 1134.00 v6 M606.76 1134.00 v6 M668.00 1134.00 v6 M55.60 989.60 h-6.5 M55.60 1025.70 h-6.5 M55.60 1061.80 h-6.5 M55.60 1097.90 h-6.5 M55.60 1134.00 h-6.5" fill="none" stroke="#7a7a7a" stroke-width="1.5"/><text x="55.60" y="1158.20" font-family='"Liberation Sans", sans-serif' font-size="13.6" text-anchor="middle" font-weight="normal" fill="#262626" stroke="#262626" stroke-width="0.25" >0</text><text x="116.84" y="1158.20" font-family='"Liberation Sans", sans-serif' font-size="13.6" text-anchor="middle" font-weight="normal" fill="#262626" stroke="#262626" stroke-width="0.25" >20</text><text x="178.08" y="1158.20" font-family='"Liberation Sans", sans-serif' font-size="13.6" text-anchor="middle" font-weight="normal" fill="#262626" stroke="#262626" stroke-width="0.25" >40</text><text x="239.32" y="1158.20" font-family='"Liberation Sans", sans-serif' font-size="13.6" text-anchor="middle" font-weight="normal" fill="#262626" stroke="#262626" stroke-width="0.25" >60</text><text x="300.56" y="1158.20" font-family='"Liberation Sans", sans-serif' font-size="13.6" text-anchor="middle" font-weight="normal" fill="#262626" stroke="#262626" stroke-width="0.25" >80</text><text x="361.80" y="1158.20" font-family='"Liberation Sans", sans-serif' font-size="13.6" text-anchor="middle" font-weight="normal" fill="#262626" stroke="#262626" stroke-width="0.25" >100</text><text x="423.04" y="1158.20" font-family='"Liberation Sans", sans-serif' font-size="13.6" text-anchor="middle" font-weight="normal" fill="#262626" stroke="#262626" stroke-width="0.25" >120</text><text x="484.28" y="1158.20" font-family='"Liberation Sans", sans-serif' font-size="13.6" text-anchor="middle" font-weight="normal" fill="#262626" stroke="#262626" stroke-width="0.25" >140</text><text x="545.52" y="1158.20" font-family='"Liberation Sans", sans-serif' font-size="13.6" text-anchor="middle" font-weight="normal" fill="#262626" stroke="#262626" stroke-width="0.25" >160</text><text x="606.76" y="1158.20" font-family='"Liberation Sans", sans-serif' font-size="13.6" text-anchor="middle" font-weight="normal" fill="#262626" stroke="#262626" stroke-width="0.25" >180</text><text x="668.00" y="1158.20" font-family='"Liberation Sans", sans-serif' font-size="13.6" text-anchor="middle" font-weight="normal" fill="#262626" stroke="#262626" stroke-width="0.25" >200</text><text x="45.40" y="994.55" font-family='"Liberation Sans", sans-serif' font-size="13.6" text-anchor="end" font-weight="normal" fill="#262626" stroke="#262626" stroke-width="0.25" >4</text><text x="45.40" y="1030.65" font-family='"Liberation Sans", sans-serif' font-size="13.6" text-anchor="end" font-weight="normal" fill="#262626" stroke="#262626" stroke-width="0.25" >3.5</text><text x="45.40" y="1066.75" font-family='"Liberation Sans", sans-serif' font-size="13.6" text-anchor="end" font-weight="normal" fill="#262626" stroke="#262626" stroke-width="0.25" >3</text><text x="45.40" y="1102.85" font-family='"Liberation Sans", sans-serif' font-size="13.6" text-anchor="end" font-weight="normal" fill="#262626" stroke="#262626" stroke-width="0.25" >2.5</text><text x="45.40" y="1138.95" font-family='"Liberation Sans", sans-serif' font-size="13.6" text-anchor="end" font-weight="normal" fill="#262626" stroke="#262626" stroke-width="0.25" >2</text><text x="361.80" y="986.40" font-family='"Liberation Serif", serif' font-size="15" text-anchor="middle" font-weight="normal" fill="#262626" stroke="#262626" stroke-width="0.25" >Mode5</text><text x="362.30" y="1175.50" font-family='"Liberation Serif", serif' font-size="15.2" text-anchor="middle" font-weight="normal" fill="#262626" stroke="#262626" stroke-width="0.25" >Time(15 Minutes)</text><text x="21.5" y="1061.80" font-family='"Liberation Serif", serif' font-size="15.6" text-anchor="middle" fill="#262626" stroke="#262626" stroke-width="0.25" transform="rotate(-90 21.5 1061.80)">V(m/s)</text><path d="M55.60 1203.40 V1348.20 H668.00" fill="none" stroke="#7a7a7a" stroke-width="1.5"/><path d="M55.60 1348.20 v6 M116.84 1348.20 v6 M178.08 1348.20 v6 M239.32 1348.20 v6 M300.56 1348.20 v6 M361.80 1348.20 v6 M423.04 1348.20 v6 M484.28 1348.20 v6 M545.52 1348.20 v6 M606.76 1348.20 v6 M668.00 1348.20 v6 M55.60 1207.00 h-6.5 M55.60 1238.90 h-6.5 M55.60 1270.80 h-6.5 M55.60 1302.70 h-6.5 M55.60 1334.60 h-6.5" fill="none" stroke="#7a7a7a" stroke-width="1.5"/><text x="55.60" y="1372.40" font-family='"Liberation Sans", sans-serif' font-size="13.6" text-anchor="middle" font-weight="normal" fill="#262626" stroke="#262626" stroke-width="0.25" >0</text><text x="116.84" y="1372.40" font-family='"Liberation Sans", sans-serif' font-size="13.6" text-anchor="middle" font-weight="normal" fill="#262626" stroke="#262626" stroke-width="0.25" >20</text><text x="178.08" y="1372.40" font-family='"Liberation Sans", sans-serif' font-size="13.6" text-anchor="middle" font-weight="normal" fill="#262626" stroke="#262626" stroke-width="0.25" >40</text><text x="239.32" y="1372.40" font-family='"Liberation Sans", sans-serif' font-size="13.6" text-anchor="middle" font-weight="normal" fill="#262626" stroke="#262626" stroke-width="0.25" >60</text><text x="300.56" y="1372.40" font-family='"Liberation Sans", sans-serif' font-size="13.6" text-anchor="middle" font-weight="normal" fill="#262626" stroke="#262626" stroke-width="0.25" >80</text><text x="361.80" y="1372.40" font-family='"Liberation Sans", sans-serif' font-size="13.6" text-anchor="middle" font-weight="normal" fill="#262626" stroke="#262626" stroke-width="0.25" >100</text><text x="423.04" y="1372.40" font-family='"Liberation Sans", sans-serif' font-size="13.6" text-anchor="middle" font-weight="normal" fill="#262626" stroke="#262626" stroke-width="0.25" >120</text><text x="484.28" y="1372.40" font-family='"Liberation Sans", sans-serif' font-size="13.6" text-anchor="middle" font-weight="normal" fill="#262626" stroke="#262626" stroke-width="0.25" >140</text><text x="545.52" y="1372.40" font-family='"Liberation Sans", sans-serif' font-size="13.6" text-anchor="middle" font-weight="normal" fill="#262626" stroke="#262626" stroke-width="0.25" >160</text><text x="606.76" y="1372.40" font-family='"Liberation Sans", sans-serif' font-size="13.6" text-anchor="middle" font-weight="normal" fill="#262626" stroke="#262626" stroke-width="0.25" >180</text><text x="668.00" y="1372.40" font-family='"Liberation Sans", sans-serif' font-size="13.6" text-anchor="middle" font-weight="normal" fill="#262626" stroke="#262626" stroke-width="0.25" >200</text><text x="45.40" y="1211.95" font-family='"Liberation Sans", sans-serif' font-size="13.6" text-anchor="end" font-weight="normal" fill="#262626" stroke="#262626" stroke-width="0.25" >4.3</text><text x="45.40" y="1243.85" font-family='"Liberation Sans", sans-serif' font-size="13.6" text-anchor="end" font-weight="normal" fill="#262626" stroke="#262626" stroke-width="0.25" >4.25</text><text x="45.40" y="1275.75" font-family='"Liberation Sans", sans-serif' font-size="13.6" text-anchor="end" font-weight="normal" fill="#262626" stroke="#262626" stroke-width="0.25" >4.2</text><text x="45.40" y="1307.65" font-family='"Liberation Sans", sans-serif' font-size="13.6" text-anchor="end" font-weight="normal" fill="#262626" stroke="#262626" stroke-width="0.25" >4.15</text><text x="45.40" y="1339.55" font-family='"Liberation Sans", sans-serif' font-size="13.6" text-anchor="end" font-weight="normal" fill="#262626" stroke="#262626" stroke-width="0.25" >4.1</text><text x="361.80" y="1199.70" font-family='"Liberation Serif", serif' font-size="15" text-anchor="middle" font-weight="normal" fill="#262626" stroke="#262626" stroke-width="0.25" >Mode6</text><text x="362.30" y="1389.70" font-family='"Liberation Serif", serif' font-size="15.2" text-anchor="middle" font-weight="normal" fill="#262626" stroke="#262626" stroke-width="0.25" >Time(15 Minutes)</text><text x="13.2" y="1275.80" font-family='"Liberation Serif", serif' font-size="15.6" text-anchor="middle" fill="#262626" stroke="#262626" stroke-width="0.25" transform="rotate(-90 13.2 1275.80)">V(m/s)</text></svg></body></html>
